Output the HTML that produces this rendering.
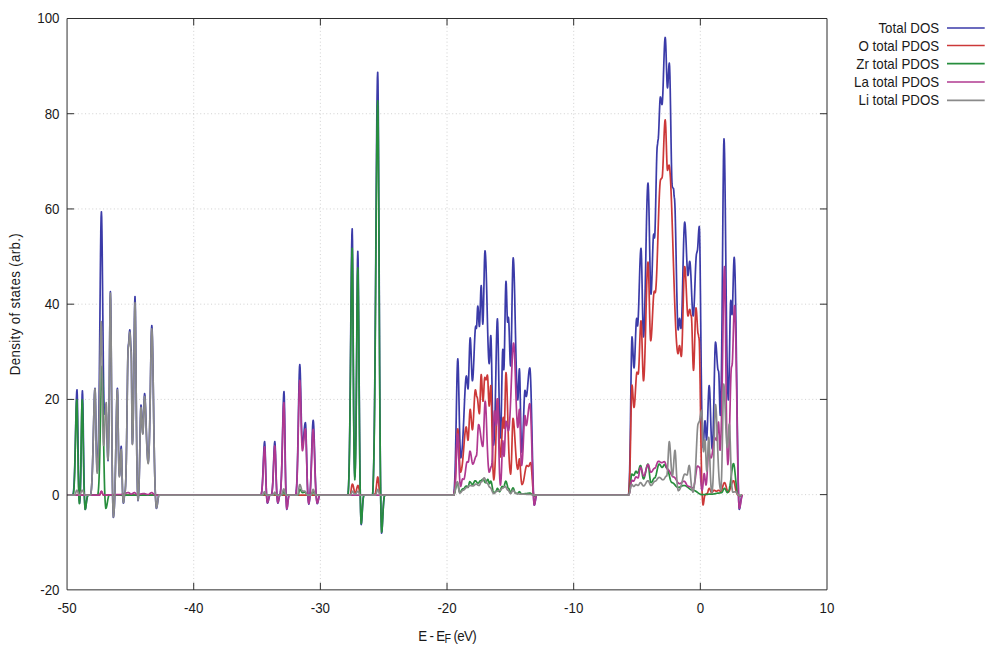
<!DOCTYPE html>
<html><head><meta charset="utf-8"><title>DOS</title>
<style>html,body{margin:0;padding:0;background:#fff;}body{width:1000px;height:667px;overflow:hidden;font-family:"Liberation Sans",sans-serif;}</style>
</head><body>
<svg width="1000" height="667" viewBox="0 0 1000 667" style="display:block">
<defs><filter id="sb" x="0" y="0" width="1000" height="667" filterUnits="userSpaceOnUse"><feGaussianBlur stdDeviation="0.38"/></filter></defs>
<rect width="1000" height="667" fill="#fff"/>
<g filter="url(#sb)">
<path d="M193.71 589.85V18.50M320.37 589.85V18.50M447.03 589.85V18.50M573.68 589.85V18.50M700.34 589.85V18.50M67.05 494.63H827.00M67.05 399.40H827.00M67.05 304.18H827.00M67.05 208.95H827.00M67.05 113.73H827.00" fill="none" stroke="#9a9a9a" stroke-width="1" stroke-dasharray="1 2.6" opacity="0.45"/>
<path d="M193.71 589.85v-7.00M193.71 18.50v7.00M320.37 589.85v-7.00M320.37 18.50v7.00M447.03 589.85v-7.00M447.03 18.50v7.00M573.68 589.85v-7.00M573.68 18.50v7.00M700.34 589.85v-7.00M700.34 18.50v7.00M67.05 494.63h7.00M827.00 494.63h-7.00M67.05 399.40h7.00M827.00 399.40h-7.00M67.05 304.18h7.00M827.00 304.18h-7.00M67.05 208.95h7.00M827.00 208.95h-7.00M67.05 113.73h7.00M827.00 113.73h-7.00" fill="none" stroke="#2e2e2e" stroke-width="1"/>
<path d="M67.20 495.03L67.49 495.03L67.78 495.03L68.07 495.03L68.36 495.03L68.65 495.03L68.94 495.03L69.23 495.03L69.52 495.03L69.81 495.03L70.10 495.03L70.39 495.03L70.68 495.03L70.97 495.03L71.26 495.03L71.55 495.03L71.84 495.03L72.13 495.03L72.42 495.03L72.71 495.03L73.00 495.03L73.29 493.50L73.57 491.13L73.86 487.61L74.14 482.63L74.43 475.91L74.71 467.31L75.00 456.86L75.29 444.90L75.57 432.04L75.86 419.20L76.14 407.49L76.43 398.06L76.71 391.93L77.00 389.80L77.29 395.26L77.58 410.15L77.87 430.62L78.16 452.11L78.44 470.93L78.73 485.17L79.02 494.62L79.31 500.19L79.60 503.12L79.88 500.60L80.16 496.07L80.44 488.60L80.72 477.44L81.00 462.37L81.28 444.17L81.56 424.83L81.84 407.39L82.12 395.16L82.40 390.75L82.68 395.40L82.96 408.31L83.24 426.71L83.52 447.11L83.80 466.31L84.08 482.21L84.36 493.99L84.64 501.87L84.92 506.65L85.20 509.31L85.50 508.75L85.80 507.19L86.10 504.98L86.40 502.52L86.70 500.21L87.00 498.29L87.30 496.87L87.60 495.92L87.90 495.34L88.20 495.03L88.50 495.03L88.80 495.03L89.10 495.03L89.40 495.03L89.70 495.03L90.00 495.03L90.30 495.03L90.60 495.03L90.89 493.61L91.19 491.46L91.48 488.33L91.77 483.97L92.07 478.13L92.36 470.65L92.65 461.50L92.95 450.85L93.24 439.07L93.53 426.79L93.83 414.84L94.12 404.16L94.41 395.70L94.71 390.25L95.00 388.37L95.29 392.91L95.58 405.13L95.86 421.55L96.15 438.24L96.44 452.30L96.72 462.42L97.01 468.53L97.30 471.22L97.59 467.46L97.89 461.61L98.18 452.93L98.47 440.64L98.76 424.08L99.06 402.86L99.35 377.11L99.64 347.61L99.94 315.90L100.23 284.23L100.52 255.34L100.81 232.08L101.11 216.97L101.40 211.73L101.68 217.28L101.96 233.08L102.25 256.78L102.53 285.15L102.81 314.80L103.09 342.86L103.37 367.26L103.65 386.81L103.94 401.06L104.22 410.05L104.50 414.08L104.78 413.92L105.07 413.49L105.35 412.89L105.63 412.30L105.92 411.86L106.20 411.70L106.50 415.50L106.80 425.43L107.10 438.05L107.40 449.70L107.70 457.73L108.00 460.74L108.27 456.29L108.53 447.20L108.80 432.08L109.07 410.08L109.33 381.86L109.60 350.34L109.87 320.78L110.13 299.50L110.40 291.72L110.70 300.57L111.00 325.13L111.30 360.17L111.60 399.00L111.90 435.56L112.20 465.82L112.50 488.24L112.80 503.24L113.10 512.35L113.40 517.40L113.69 515.53L113.97 512.63L114.26 508.31L114.54 502.20L114.83 493.96L115.11 483.41L115.40 470.61L115.69 455.94L115.97 440.17L116.26 424.42L116.54 410.06L116.83 398.49L117.11 390.98L117.40 388.37L117.69 394.87L117.97 411.68L118.26 432.52L118.54 451.29L118.83 464.75L119.11 472.58L119.40 475.98L119.70 474.19L120.00 469.46L120.30 462.52L120.60 454.88L120.90 448.80L121.20 446.46L121.48 449.89L121.75 459.02L122.03 470.96L122.30 482.57L122.58 491.76L122.85 497.89L123.12 501.39L123.40 503.12L123.67 502.42L123.93 500.50L124.20 497.88L124.47 495.26L124.73 493.35L125.00 492.64L125.28 490.05L125.55 485.76L125.83 479.07L126.10 469.34L126.38 456.08L126.65 439.29L126.93 419.62L127.20 398.52L127.48 378.14L127.75 361.01L128.03 349.55L128.30 345.52L128.60 344.02L128.90 340.09L129.20 335.24L129.50 331.31L129.80 329.81L130.08 331.76L130.36 336.88L130.64 343.21L130.92 348.33L131.20 350.28L131.44 361.21L131.68 387.52L131.92 415.86L132.16 435.95L132.40 443.60L132.69 439.58L132.98 430.42L133.27 415.61L133.56 395.21L133.84 370.39L134.13 343.84L134.42 319.70L134.71 302.65L135.00 296.48L135.30 304.49L135.60 326.72L135.90 358.43L136.20 393.57L136.50 426.66L136.80 454.06L137.10 474.35L137.40 487.92L137.70 496.17L138.00 500.74L138.30 498.60L138.60 494.73L138.90 488.37L139.20 478.87L139.50 466.03L139.80 450.53L140.10 434.06L140.40 419.21L140.70 408.79L141.00 405.04L141.26 406.43L141.51 410.33L141.77 415.96L142.03 422.21L142.29 427.84L142.54 431.74L142.80 433.13L143.10 430.48L143.40 423.25L143.70 413.37L144.00 403.49L144.30 396.26L144.60 393.61L144.90 395.15L145.20 399.56L145.50 406.33L145.80 414.69L146.10 423.81L146.40 432.89L146.70 441.29L147.00 448.56L147.30 454.42L147.60 458.72L147.90 461.45L148.20 462.65L148.48 460.50L148.75 456.59L149.03 450.56L149.31 442.10L149.58 431.00L149.86 417.30L150.14 401.37L150.42 384.01L150.69 366.46L150.97 350.26L151.25 337.11L151.52 328.52L151.80 325.52L152.09 328.36L152.38 336.61L152.66 349.54L152.95 366.06L153.24 384.85L153.53 404.57L153.81 423.97L154.10 442.05L154.39 458.09L154.68 471.72L154.96 482.81L155.25 491.49L155.54 498.03L155.83 502.78L156.11 506.11L156.40 508.36L156.69 507.95L156.98 506.80L157.27 505.02L157.56 502.85L157.84 500.53L158.13 498.36L158.42 496.58L158.71 495.43L159.00 495.03L159.30 495.03L159.60 495.03L159.90 495.03L160.20 495.03L160.50 495.03L160.80 495.03L161.10 495.03L161.40 495.03L161.70 495.03L162.00 495.03L162.30 495.03L162.60 495.03L162.90 495.03L163.20 495.03L163.50 495.03L163.80 495.03L164.10 495.03L164.40 495.03L164.70 495.03L165.00 495.03L165.30 495.03L165.60 495.03L165.90 495.03L166.20 495.03L166.50 495.03L166.80 495.03L167.10 495.03L167.40 495.03L167.70 495.03L168.00 495.03L168.30 495.03L168.60 495.03L168.90 495.03L169.20 495.03L169.50 495.03L169.80 495.03L170.10 495.03L170.40 495.03L170.70 495.03L171.00 495.03L171.30 495.03L171.60 495.03L171.90 495.03L172.20 495.03L172.50 495.03L172.80 495.03L173.10 495.03L173.40 495.03L173.70 495.03L174.00 495.03L174.30 495.03L174.60 495.03L174.90 495.03L175.20 495.03L175.50 495.03L175.80 495.03L176.10 495.03L176.40 495.03L176.70 495.03L177.00 495.03L177.30 495.03L177.60 495.03L177.90 495.03L178.20 495.03L178.50 495.03L178.80 495.03L179.10 495.03L179.40 495.03L179.70 495.03L180.00 495.03L180.30 495.03L180.60 495.03L180.90 495.03L181.20 495.03L181.50 495.03L181.80 495.03L182.10 495.03L182.40 495.03L182.70 495.03L183.00 495.03L183.30 495.03L183.60 495.03L183.90 495.03L184.20 495.03L184.50 495.03L184.80 495.03L185.10 495.03L185.40 495.03L185.70 495.03L186.00 495.03L186.30 495.03L186.60 495.03L186.90 495.03L187.20 495.03L187.50 495.03L187.80 495.03L188.10 495.03L188.40 495.03L188.70 495.03L189.00 495.03L189.30 495.03L189.60 495.03L189.90 495.03L190.20 495.03L190.50 495.03L190.80 495.03L191.10 495.03L191.40 495.03L191.70 495.03L192.00 495.03L192.30 495.03L192.60 495.03L192.90 495.03L193.20 495.03L193.50 495.03L193.80 495.03L194.10 495.03L194.40 495.03L194.70 495.03L195.00 495.03L195.30 495.03L195.60 495.03L195.90 495.03L196.20 495.03L196.50 495.03L196.80 495.03L197.10 495.03L197.40 495.03L197.70 495.03L198.00 495.03L198.30 495.03L198.60 495.03L198.90 495.03L199.20 495.03L199.50 495.03L199.80 495.03L200.10 495.03L200.40 495.03L200.70 495.03L201.00 495.03L201.30 495.03L201.60 495.03L201.90 495.03L202.20 495.03L202.50 495.03L202.80 495.03L203.10 495.03L203.40 495.03L203.70 495.03L204.00 495.03L204.30 495.03L204.60 495.03L204.90 495.03L205.20 495.03L205.50 495.03L205.80 495.03L206.10 495.03L206.40 495.03L206.70 495.03L207.00 495.03L207.30 495.03L207.60 495.03L207.90 495.03L208.20 495.03L208.50 495.03L208.80 495.03L209.10 495.03L209.40 495.03L209.70 495.03L210.00 495.03L210.30 495.03L210.60 495.03L210.90 495.03L211.20 495.03L211.50 495.03L211.80 495.03L212.10 495.03L212.40 495.03L212.70 495.03L213.00 495.03L213.30 495.03L213.60 495.03L213.90 495.03L214.20 495.03L214.50 495.03L214.80 495.03L215.10 495.03L215.40 495.03L215.70 495.03L216.00 495.03L216.30 495.03L216.60 495.03L216.90 495.03L217.20 495.03L217.50 495.03L217.80 495.03L218.10 495.03L218.40 495.03L218.70 495.03L219.00 495.03L219.30 495.03L219.60 495.03L219.90 495.03L220.20 495.03L220.50 495.03L220.80 495.03L221.10 495.03L221.40 495.03L221.70 495.03L222.00 495.03L222.30 495.03L222.60 495.03L222.90 495.03L223.20 495.03L223.50 495.03L223.80 495.03L224.10 495.03L224.40 495.03L224.70 495.03L225.00 495.03L225.30 495.03L225.60 495.03L225.90 495.03L226.20 495.03L226.50 495.03L226.80 495.03L227.10 495.03L227.40 495.03L227.70 495.03L228.00 495.03L228.30 495.03L228.60 495.03L228.90 495.03L229.20 495.03L229.50 495.03L229.80 495.03L230.10 495.03L230.40 495.03L230.70 495.03L231.00 495.03L231.30 495.03L231.60 495.03L231.90 495.03L232.20 495.03L232.50 495.03L232.80 495.03L233.10 495.03L233.40 495.03L233.70 495.03L234.00 495.03L234.30 495.03L234.60 495.03L234.90 495.03L235.20 495.03L235.50 495.03L235.80 495.03L236.10 495.03L236.40 495.03L236.70 495.03L237.00 495.03L237.30 495.03L237.60 495.03L237.90 495.03L238.20 495.03L238.50 495.03L238.80 495.03L239.10 495.03L239.40 495.03L239.70 495.03L240.00 495.03L240.30 495.03L240.60 495.03L240.90 495.03L241.20 495.03L241.50 495.03L241.80 495.03L242.10 495.03L242.40 495.03L242.70 495.03L243.00 495.03L243.30 495.03L243.60 495.03L243.90 495.03L244.20 495.03L244.50 495.03L244.80 495.03L245.10 495.03L245.40 495.03L245.70 495.03L246.00 495.03L246.30 495.03L246.60 495.03L246.90 495.03L247.20 495.03L247.50 495.03L247.80 495.03L248.10 495.03L248.40 495.03L248.70 495.03L249.00 495.03L249.30 495.03L249.60 495.03L249.90 495.03L250.20 495.03L250.50 495.03L250.80 495.03L251.10 495.03L251.40 495.03L251.70 495.03L252.00 495.03L252.30 495.03L252.60 495.03L252.90 495.03L253.20 495.03L253.50 495.03L253.80 495.03L254.10 495.03L254.40 495.03L254.70 495.03L255.00 495.03L255.30 495.03L255.60 495.03L255.90 495.03L256.20 495.03L256.50 495.03L256.80 495.03L257.10 495.03L257.40 495.03L257.70 495.03L258.00 495.03L258.30 495.03L258.60 495.03L258.90 495.03L259.20 495.03L259.50 495.03L259.80 495.03L260.10 495.03L260.40 495.03L260.70 495.03L261.00 495.03L261.28 494.18L261.55 492.82L261.83 490.76L262.11 487.79L262.38 483.78L262.66 478.64L262.94 472.50L263.22 465.64L263.49 458.57L263.77 451.95L264.05 446.52L264.32 442.95L264.60 441.70L264.88 444.11L265.16 450.79L265.44 460.33L265.72 470.89L266.00 480.84L266.28 489.08L266.56 495.18L266.84 499.26L267.12 501.74L267.40 503.12L267.69 502.88L267.98 502.17L268.27 501.10L268.56 499.77L268.84 498.37L269.13 497.05L269.42 495.97L269.71 495.27L270.00 495.03L270.28 495.03L270.56 495.03L270.84 495.03L271.12 495.03L271.40 495.03L271.68 494.09L271.97 492.53L272.25 490.11L272.53 486.58L272.82 481.77L273.10 475.69L273.38 468.56L273.67 460.91L273.95 453.52L274.23 447.31L274.52 443.16L274.80 441.70L275.10 444.11L275.40 450.79L275.70 460.33L276.00 470.89L276.30 480.84L276.60 489.08L276.90 495.18L277.20 499.26L277.50 501.74L277.80 503.12L278.07 502.81L278.35 501.93L278.62 500.62L278.90 499.07L279.18 497.52L279.45 496.21L279.73 495.33L280.00 495.03L280.29 493.53L280.57 491.20L280.86 487.74L281.14 482.85L281.43 476.26L281.71 467.81L282.00 457.55L282.29 445.81L282.57 433.18L282.86 420.57L283.14 409.07L283.43 399.81L283.71 393.79L284.00 391.71L284.28 396.32L284.56 409.12L284.84 427.37L285.12 447.61L285.40 466.66L285.68 482.43L285.96 494.11L286.24 501.93L286.52 506.68L286.80 509.31L287.10 508.44L287.40 506.14L287.70 503.13L288.00 500.21L288.30 497.89L288.60 496.34L288.90 495.46L289.20 495.03L289.49 495.03L289.77 495.03L290.06 495.03L290.35 495.03L290.63 495.03L290.92 495.03L291.21 495.03L291.50 495.03L291.78 495.03L292.07 495.03L292.36 495.03L292.64 495.03L292.93 495.03L293.22 495.03L293.50 495.03L293.79 495.03L294.08 495.03L294.37 495.03L294.65 495.03L294.94 495.03L295.23 495.03L295.51 495.03L295.80 495.03L296.09 493.13L296.37 490.19L296.66 485.83L296.94 479.65L297.23 471.33L297.51 460.66L297.80 447.71L298.09 432.88L298.37 416.94L298.66 401.02L298.94 386.49L299.23 374.80L299.51 367.20L299.80 364.57L300.09 367.49L300.38 375.70L300.67 387.72L300.96 401.58L301.24 415.34L301.53 427.44L301.82 436.77L302.11 442.72L302.40 445.03L302.70 444.48L303.00 442.89L303.30 440.42L303.60 437.30L303.90 433.84L304.20 430.39L304.50 427.27L304.80 424.79L305.10 423.20L305.40 422.65L305.68 424.88L305.97 431.22L306.25 440.70L306.53 451.98L306.82 463.66L307.10 474.54L307.38 483.84L307.67 491.17L307.95 496.56L308.23 500.26L308.52 502.64L308.80 504.07L309.09 502.96L309.39 501.27L309.68 498.81L309.97 495.38L310.27 490.79L310.56 484.92L310.85 477.73L311.15 469.36L311.44 460.11L311.73 450.46L312.03 441.07L312.32 432.68L312.61 426.03L312.91 421.75L313.20 420.27L313.49 421.96L313.77 426.81L314.06 434.28L314.34 443.55L314.63 453.72L314.91 463.90L315.20 473.38L315.49 481.65L315.77 488.46L316.06 493.78L316.34 497.72L316.63 500.51L316.91 502.39L317.20 503.60L317.49 503.34L317.78 502.59L318.07 501.45L318.36 500.05L318.64 498.57L318.93 497.17L319.22 496.03L319.51 495.28L319.80 495.03L320.10 495.03L320.40 495.03L320.70 495.03L321.00 495.03L321.30 495.03L321.60 495.03L321.90 495.03L322.20 495.03L322.50 495.03L322.80 495.03L323.10 495.03L323.40 495.03L323.70 495.03L324.00 495.03L324.30 495.03L324.60 495.03L324.90 495.03L325.20 495.03L325.50 495.03L325.80 495.03L326.10 495.03L326.40 495.03L326.70 495.03L327.00 495.03L327.30 495.03L327.60 495.03L327.90 495.03L328.20 495.03L328.50 495.03L328.80 495.03L329.10 495.03L329.40 495.03L329.70 495.03L330.00 495.03L330.30 495.03L330.60 495.03L330.90 495.03L331.20 495.03L331.50 495.03L331.80 495.03L332.10 495.03L332.40 495.03L332.70 495.03L333.00 495.03L333.30 495.03L333.60 495.03L333.90 495.03L334.20 495.03L334.50 495.03L334.80 495.03L335.10 495.03L335.40 495.03L335.70 495.03L336.00 495.03L336.30 495.03L336.60 495.03L336.90 495.03L337.20 495.03L337.50 495.03L337.80 495.03L338.10 495.03L338.40 495.03L338.70 495.03L339.00 495.03L339.30 495.03L339.60 495.03L339.90 495.03L340.20 495.03L340.50 495.03L340.80 495.03L341.10 495.03L341.40 495.03L341.70 495.03L342.00 495.03L342.30 495.03L342.60 495.03L342.90 495.03L343.20 495.03L343.50 495.03L343.80 495.03L344.10 495.03L344.40 495.03L344.70 495.03L345.00 495.03L345.30 495.03L345.60 495.03L345.90 495.03L346.20 495.03L346.50 495.03L346.80 495.03L347.10 495.03L347.40 495.03L347.70 495.03L348.00 495.03L348.30 491.17L348.60 485.17L348.90 476.27L349.20 463.66L349.50 446.67L349.80 424.91L350.10 398.50L350.40 368.24L350.70 335.71L351.00 303.23L351.30 273.60L351.60 249.75L351.90 234.25L352.20 228.87L352.49 240.83L352.78 273.41L353.07 318.23L353.36 365.28L353.64 406.48L353.93 437.63L354.22 458.33L354.51 470.52L354.80 476.93L355.10 471.88L355.40 462.77L355.70 447.77L356.00 425.35L356.30 395.08L356.60 358.53L356.90 319.70L357.20 284.66L357.50 260.10L357.80 251.25L358.08 258.74L358.37 280.02L358.65 311.84L358.93 349.70L359.22 388.90L359.50 425.43L359.78 456.62L360.07 481.25L360.35 499.34L360.63 511.75L360.92 519.73L361.20 524.54L361.48 523.39L361.76 520.17L362.04 515.59L362.32 510.51L362.60 505.73L362.88 501.77L363.16 498.84L363.44 496.88L363.72 495.69L364.00 495.03L364.30 495.03L364.59 495.03L364.89 495.03L365.19 495.03L365.48 495.03L365.78 495.03L366.08 495.03L366.37 495.03L366.67 495.03L366.97 495.03L367.26 495.03L367.56 495.03L367.86 495.03L368.15 495.03L368.45 495.03L368.74 495.03L369.04 495.03L369.34 495.03L369.63 495.03L369.93 495.03L370.23 495.03L370.52 495.03L370.82 495.03L371.12 495.03L371.41 495.03L371.71 495.03L372.01 495.03L372.30 495.03L372.60 495.03L372.90 490.19L373.20 483.19L373.50 473.37L373.80 460.00L374.10 442.41L374.40 420.01L374.70 392.47L375.00 359.81L375.30 322.52L375.60 281.67L375.90 238.87L376.20 196.28L376.50 156.38L376.80 121.80L377.10 95.01L377.40 78.04L377.70 72.23L377.98 81.54L378.26 108.38L378.54 149.69L378.81 201.00L379.09 257.24L379.37 313.56L379.65 365.97L379.93 411.71L380.21 449.39L380.49 478.81L380.76 500.63L381.04 516.05L381.32 526.43L381.60 533.12L381.89 531.88L382.18 528.39L382.47 523.29L382.76 517.40L383.05 511.54L383.35 506.36L383.64 502.20L383.93 499.14L384.22 497.07L384.51 495.78L384.80 495.03L385.10 495.03L385.40 495.03L385.70 495.03L386.00 495.03L386.30 495.03L386.59 495.03L386.89 495.03L387.19 495.03L387.49 495.03L387.79 495.03L388.09 495.03L388.39 495.03L388.69 495.03L388.99 495.03L389.29 495.03L389.59 495.03L389.89 495.03L390.18 495.03L390.48 495.03L390.78 495.03L391.08 495.03L391.38 495.03L391.68 495.03L391.98 495.03L392.28 495.03L392.58 495.03L392.88 495.03L393.18 495.03L393.47 495.03L393.77 495.03L394.07 495.03L394.37 495.03L394.67 495.03L394.97 495.03L395.27 495.03L395.57 495.03L395.87 495.03L396.17 495.03L396.47 495.03L396.77 495.03L397.06 495.03L397.36 495.03L397.66 495.03L397.96 495.03L398.26 495.03L398.56 495.03L398.86 495.03L399.16 495.03L399.46 495.03L399.76 495.03L400.06 495.03L400.35 495.03L400.65 495.03L400.95 495.03L401.25 495.03L401.55 495.03L401.85 495.03L402.15 495.03L402.45 495.03L402.75 495.03L403.05 495.03L403.35 495.03L403.65 495.03L403.94 495.03L404.24 495.03L404.54 495.03L404.84 495.03L405.14 495.03L405.44 495.03L405.74 495.03L406.04 495.03L406.34 495.03L406.64 495.03L406.94 495.03L407.23 495.03L407.53 495.03L407.83 495.03L408.13 495.03L408.43 495.03L408.73 495.03L409.03 495.03L409.33 495.03L409.63 495.03L409.93 495.03L410.23 495.03L410.53 495.03L410.82 495.03L411.12 495.03L411.42 495.03L411.72 495.03L412.02 495.03L412.32 495.03L412.62 495.03L412.92 495.03L413.22 495.03L413.52 495.03L413.82 495.03L414.11 495.03L414.41 495.03L414.71 495.03L415.01 495.03L415.31 495.03L415.61 495.03L415.91 495.03L416.21 495.03L416.51 495.03L416.81 495.03L417.11 495.03L417.41 495.03L417.70 495.03L418.00 495.03L418.30 495.03L418.60 495.03L418.90 495.03L419.20 495.03L419.50 495.03L419.80 495.03L420.10 495.03L420.40 495.03L420.70 495.03L420.99 495.03L421.29 495.03L421.59 495.03L421.89 495.03L422.19 495.03L422.49 495.03L422.79 495.03L423.09 495.03L423.39 495.03L423.69 495.03L423.99 495.03L424.29 495.03L424.58 495.03L424.88 495.03L425.18 495.03L425.48 495.03L425.78 495.03L426.08 495.03L426.38 495.03L426.68 495.03L426.98 495.03L427.28 495.03L427.58 495.03L427.87 495.03L428.17 495.03L428.47 495.03L428.77 495.03L429.07 495.03L429.37 495.03L429.67 495.03L429.97 495.03L430.27 495.03L430.57 495.03L430.87 495.03L431.17 495.03L431.46 495.03L431.76 495.03L432.06 495.03L432.36 495.03L432.66 495.03L432.96 495.03L433.26 495.03L433.56 495.03L433.86 495.03L434.16 495.03L434.46 495.03L434.75 495.03L435.05 495.03L435.35 495.03L435.65 495.03L435.95 495.03L436.25 495.03L436.55 495.03L436.85 495.03L437.15 495.03L437.45 495.03L437.75 495.03L438.05 495.03L438.34 495.03L438.64 495.03L438.94 495.03L439.24 495.03L439.54 495.03L439.84 495.03L440.14 495.03L440.44 495.03L440.74 495.03L441.04 495.03L441.34 495.03L441.63 495.03L441.93 495.03L442.23 495.03L442.53 495.03L442.83 495.03L443.13 495.03L443.43 495.03L443.73 495.03L444.03 495.03L444.33 495.03L444.63 495.03L444.93 495.03L445.22 495.03L445.52 495.03L445.82 495.03L446.12 495.03L446.42 495.03L446.72 495.03L447.02 495.03L447.32 495.03L447.62 495.03L447.92 495.03L448.22 495.03L448.51 495.03L448.81 495.03L449.11 495.03L449.41 495.03L449.71 495.03L450.01 495.03L450.31 495.03L450.61 495.03L450.91 495.03L451.21 495.03L451.51 495.03L451.81 495.03L452.10 495.03L452.40 495.03L452.70 495.03L453.00 495.03L453.30 495.03L453.60 495.03L453.90 493.05L454.20 489.98L454.50 485.43L454.80 478.98L455.10 470.29L455.40 459.15L455.70 445.64L456.00 430.16L456.30 413.52L456.60 396.90L456.90 381.74L457.20 369.53L457.50 361.60L457.80 358.85L458.10 362.18L458.40 371.53L458.70 385.22L459.00 401.02L459.30 416.78L459.60 430.83L459.90 442.18L460.20 450.43L460.50 455.59L460.80 457.89L461.09 457.19L461.39 455.80L461.68 453.68L461.98 450.83L462.27 447.23L462.57 442.91L462.86 437.89L463.16 432.24L463.45 426.05L463.75 419.44L464.04 412.59L464.34 405.68L464.63 398.96L464.93 392.67L465.22 387.07L465.52 382.41L465.81 378.91L466.11 376.73L466.40 375.99L466.67 376.85L466.93 379.21L467.20 382.42L467.47 385.64L467.73 387.99L468.00 388.85L468.27 386.91L468.55 381.39L468.82 373.12L469.10 363.38L469.38 353.63L469.65 345.36L469.93 339.84L470.20 337.90L470.47 339.53L470.75 344.18L471.02 351.13L471.30 359.33L471.57 367.53L471.85 374.48L472.12 379.12L472.40 380.75L472.68 379.82L472.97 377.09L473.25 372.74L473.53 367.07L473.82 360.46L474.10 353.38L474.38 346.29L474.67 339.69L474.95 334.02L475.23 329.67L475.52 326.93L475.80 326.00L476.10 327.19L476.40 328.38L476.68 326.24L476.96 320.65L477.24 313.73L477.52 308.14L477.80 306.00L478.07 307.37L478.33 311.12L478.60 316.24L478.87 321.36L479.13 325.11L479.40 326.48L479.66 324.45L479.91 318.77L480.17 310.56L480.43 301.45L480.69 293.24L480.94 287.56L481.20 285.53L481.47 288.11L481.73 295.17L482.00 304.81L482.27 314.45L482.53 321.51L482.80 324.10L483.07 321.31L483.35 313.36L483.62 301.46L483.90 287.43L484.18 273.40L484.45 261.51L484.73 253.56L485.00 250.77L485.30 252.19L485.60 256.36L485.90 263.08L486.20 272.02L486.50 282.71L486.80 294.64L487.10 307.19L487.40 319.75L487.70 331.67L488.00 342.37L488.30 351.31L488.60 358.03L488.90 362.20L489.20 363.61L489.47 361.73L489.73 356.59L490.00 349.57L490.27 342.55L490.53 337.40L490.80 335.52L491.08 339.04L491.36 348.95L491.64 363.59L491.92 380.70L492.20 398.04L492.48 413.81L492.76 426.81L493.04 436.43L493.32 442.47L493.60 445.03L493.89 443.10L494.18 438.99L494.48 432.57L494.77 423.77L495.06 412.64L495.35 399.43L495.65 384.61L495.94 368.98L496.23 353.59L496.52 339.68L496.82 328.55L497.11 321.35L497.40 318.86L497.70 322.63L498.00 333.29L498.30 349.05L498.60 367.54L498.90 386.37L499.20 403.58L499.50 417.83L499.80 428.43L500.10 435.10L500.40 437.89L500.67 435.34L500.93 428.72L501.20 418.34L501.47 404.95L501.73 389.79L502.00 374.59L502.27 361.46L502.53 352.51L502.80 349.33L503.05 352.33L503.30 359.57L503.55 366.81L503.80 369.80L504.07 366.43L504.35 356.83L504.62 342.47L504.90 325.52L505.18 308.58L505.45 294.21L505.73 284.62L506.00 281.24L506.27 283.99L506.53 291.48L506.80 301.72L507.07 311.95L507.33 319.45L507.60 322.19L507.87 321.00L508.13 318.62L508.40 317.43L508.67 319.28L508.95 324.54L509.23 332.42L509.50 341.71L509.77 351.01L510.05 358.88L510.33 364.15L510.60 366.00L510.89 362.74L511.18 353.35L511.47 338.98L511.76 321.34L512.04 302.57L512.33 284.93L512.62 270.56L512.91 261.17L513.20 257.91L513.49 259.53L513.78 264.26L514.06 271.85L514.35 281.85L514.64 293.74L514.92 306.90L515.21 320.73L515.50 334.62L515.79 348.05L516.08 360.55L516.36 371.74L516.65 381.30L516.94 389.01L517.22 394.72L517.51 398.32L517.80 399.80L518.07 397.73L518.33 392.06L518.60 384.33L518.87 376.59L519.13 370.93L519.40 368.85L519.70 372.87L520.00 383.88L520.30 399.22L520.60 415.67L520.90 430.52L521.20 442.01L521.50 449.29L521.80 452.17L522.09 450.93L522.38 447.70L522.67 442.60L522.96 435.87L523.25 427.88L523.55 419.18L523.84 410.44L524.13 402.43L524.42 395.96L524.71 391.74L525.00 390.28L525.24 390.87L525.48 392.42L525.72 394.33L525.96 395.88L526.20 396.47L526.50 395.98L526.80 394.55L527.10 392.28L527.40 389.33L527.70 385.88L528.00 382.18L528.30 378.49L528.60 375.04L528.90 372.08L529.20 369.81L529.50 368.39L529.80 367.90L530.10 369.40L530.40 373.83L530.70 380.99L531.00 390.58L531.30 402.18L531.60 415.27L531.90 429.29L532.20 443.63L532.50 457.65L532.80 470.74L533.10 482.34L533.40 491.93L533.70 499.10L534.00 503.53L534.30 505.02L534.59 504.64L534.88 503.56L535.16 501.94L535.45 500.02L535.74 498.11L536.02 496.49L536.31 495.41L536.60 495.03L536.90 495.03L537.20 495.03L537.50 495.03L537.80 495.03L538.10 495.03L538.40 495.03L538.70 495.03L538.99 495.03L539.29 495.03L539.59 495.03L539.89 495.03L540.19 495.03L540.49 495.03L540.79 495.03L541.09 495.03L541.39 495.03L541.69 495.03L541.99 495.03L542.29 495.03L542.59 495.03L542.89 495.03L543.19 495.03L543.49 495.03L543.78 495.03L544.08 495.03L544.38 495.03L544.68 495.03L544.98 495.03L545.28 495.03L545.58 495.03L545.88 495.03L546.18 495.03L546.48 495.03L546.78 495.03L547.08 495.03L547.38 495.03L547.68 495.03L547.98 495.03L548.27 495.03L548.57 495.03L548.87 495.03L549.17 495.03L549.47 495.03L549.77 495.03L550.07 495.03L550.37 495.03L550.67 495.03L550.97 495.03L551.27 495.03L551.57 495.03L551.87 495.03L552.17 495.03L552.47 495.03L552.76 495.03L553.06 495.03L553.36 495.03L553.66 495.03L553.96 495.03L554.26 495.03L554.56 495.03L554.86 495.03L555.16 495.03L555.46 495.03L555.76 495.03L556.06 495.03L556.36 495.03L556.66 495.03L556.96 495.03L557.26 495.03L557.55 495.03L557.85 495.03L558.15 495.03L558.45 495.03L558.75 495.03L559.05 495.03L559.35 495.03L559.65 495.03L559.95 495.03L560.25 495.03L560.55 495.03L560.85 495.03L561.15 495.03L561.45 495.03L561.75 495.03L562.04 495.03L562.34 495.03L562.64 495.03L562.94 495.03L563.24 495.03L563.54 495.03L563.84 495.03L564.14 495.03L564.44 495.03L564.74 495.03L565.04 495.03L565.34 495.03L565.64 495.03L565.94 495.03L566.24 495.03L566.53 495.03L566.83 495.03L567.13 495.03L567.43 495.03L567.73 495.03L568.03 495.03L568.33 495.03L568.63 495.03L568.93 495.03L569.23 495.03L569.53 495.03L569.83 495.03L570.13 495.03L570.43 495.03L570.73 495.03L571.03 495.03L571.32 495.03L571.62 495.03L571.92 495.03L572.22 495.03L572.52 495.03L572.82 495.03L573.12 495.03L573.42 495.03L573.72 495.03L574.02 495.03L574.32 495.03L574.62 495.03L574.92 495.03L575.22 495.03L575.52 495.03L575.81 495.03L576.11 495.03L576.41 495.03L576.71 495.03L577.01 495.03L577.31 495.03L577.61 495.03L577.91 495.03L578.21 495.03L578.51 495.03L578.81 495.03L579.11 495.03L579.41 495.03L579.71 495.03L580.01 495.03L580.30 495.03L580.60 495.03L580.90 495.03L581.20 495.03L581.50 495.03L581.80 495.03L582.10 495.03L582.40 495.03L582.70 495.03L583.00 495.03L583.30 495.03L583.60 495.03L583.90 495.03L584.20 495.03L584.50 495.03L584.80 495.03L585.09 495.03L585.39 495.03L585.69 495.03L585.99 495.03L586.29 495.03L586.59 495.03L586.89 495.03L587.19 495.03L587.49 495.03L587.79 495.03L588.09 495.03L588.39 495.03L588.69 495.03L588.99 495.03L589.29 495.03L589.58 495.03L589.88 495.03L590.18 495.03L590.48 495.03L590.78 495.03L591.08 495.03L591.38 495.03L591.68 495.03L591.98 495.03L592.28 495.03L592.58 495.03L592.88 495.03L593.18 495.03L593.48 495.03L593.78 495.03L594.07 495.03L594.37 495.03L594.67 495.03L594.97 495.03L595.27 495.03L595.57 495.03L595.87 495.03L596.17 495.03L596.47 495.03L596.77 495.03L597.07 495.03L597.37 495.03L597.67 495.03L597.97 495.03L598.27 495.03L598.57 495.03L598.86 495.03L599.16 495.03L599.46 495.03L599.76 495.03L600.06 495.03L600.36 495.03L600.66 495.03L600.96 495.03L601.26 495.03L601.56 495.03L601.86 495.03L602.16 495.03L602.46 495.03L602.76 495.03L603.06 495.03L603.35 495.03L603.65 495.03L603.95 495.03L604.25 495.03L604.55 495.03L604.85 495.03L605.15 495.03L605.45 495.03L605.75 495.03L606.05 495.03L606.35 495.03L606.65 495.03L606.95 495.03L607.25 495.03L607.55 495.03L607.84 495.03L608.14 495.03L608.44 495.03L608.74 495.03L609.04 495.03L609.34 495.03L609.64 495.03L609.94 495.03L610.24 495.03L610.54 495.03L610.84 495.03L611.14 495.03L611.44 495.03L611.74 495.03L612.04 495.03L612.34 495.03L612.63 495.03L612.93 495.03L613.23 495.03L613.53 495.03L613.83 495.03L614.13 495.03L614.43 495.03L614.73 495.03L615.03 495.03L615.33 495.03L615.63 495.03L615.93 495.03L616.23 495.03L616.53 495.03L616.83 495.03L617.12 495.03L617.42 495.03L617.72 495.03L618.02 495.03L618.32 495.03L618.62 495.03L618.92 495.03L619.22 495.03L619.52 495.03L619.82 495.03L620.12 495.03L620.42 495.03L620.72 495.03L621.02 495.03L621.32 495.03L621.61 495.03L621.91 495.03L622.21 495.03L622.51 495.03L622.81 495.03L623.11 495.03L623.41 495.03L623.71 495.03L624.01 495.03L624.31 495.03L624.61 495.03L624.91 495.03L625.21 495.03L625.51 495.03L625.81 495.03L626.11 495.03L626.40 495.03L626.70 495.03L627.00 495.03L627.30 495.03L627.60 495.03L627.90 495.03L628.20 495.03L628.50 495.03L628.79 492.24L629.08 487.62L629.38 480.44L629.67 469.98L629.96 455.74L630.25 437.70L630.54 416.57L630.83 393.90L631.12 372.00L631.42 353.59L631.71 341.28L632.00 336.95L632.29 338.48L632.57 342.78L632.86 348.98L633.14 355.87L633.43 362.07L633.71 366.37L634.00 367.90L634.27 366.69L634.54 363.17L634.81 357.69L635.08 350.79L635.35 343.14L635.62 335.49L635.89 328.59L636.16 323.11L636.43 319.59L636.70 318.38L636.97 320.29L637.23 324.10L637.50 326.00L637.79 324.68L638.08 320.80L638.38 314.64L638.67 306.60L638.96 297.24L639.25 287.20L639.54 277.15L639.83 267.79L640.12 259.76L640.42 253.59L640.71 249.71L641.00 248.39L641.28 251.06L641.56 258.75L641.83 270.53L642.11 284.98L642.39 300.36L642.67 314.81L642.94 326.59L643.22 334.28L643.50 336.95L643.80 335.26L644.10 330.35L644.40 322.43L644.70 311.82L645.00 298.97L645.30 284.41L645.60 268.77L645.90 252.72L646.20 236.95L646.50 222.17L646.80 209.02L647.10 198.11L647.40 189.94L647.70 184.88L648.00 183.16L648.30 185.88L648.60 193.76L648.90 206.03L649.20 221.49L649.50 238.63L649.80 255.77L650.10 271.24L650.40 283.51L650.70 291.39L651.00 294.10L651.27 292.63L651.54 288.37L651.81 281.74L652.08 273.37L652.35 264.10L652.62 254.84L652.89 246.47L653.16 239.84L653.43 235.58L653.70 234.11L653.97 235.06L654.23 236.97L654.50 237.92L654.79 235.65L655.08 229.05L655.37 218.78L655.66 205.84L655.95 191.50L656.24 177.15L656.53 164.21L656.82 153.94L657.11 147.35L657.40 145.07L657.60 143.88L657.80 141.50L658.00 140.31L658.30 138.66L658.60 133.97L658.90 126.94L659.20 118.65L659.50 110.36L659.80 103.33L660.10 98.63L660.40 96.98L660.67 97.49L660.93 98.89L661.20 100.79L661.47 102.70L661.73 104.09L662.00 104.60L662.29 103.24L662.58 99.27L662.87 93.02L663.16 84.98L663.45 75.81L663.75 66.26L664.04 57.09L664.33 49.05L664.62 42.80L664.91 38.83L665.20 37.47L665.49 39.39L665.78 44.86L666.06 53.05L666.35 62.70L666.64 72.36L666.92 80.55L667.21 86.02L667.50 87.94L667.80 86.28L668.10 81.75L668.40 75.56L668.70 69.37L669.00 64.84L669.30 63.18L669.60 66.21L669.90 75.00L670.20 88.69L670.50 105.95L670.80 125.08L671.10 144.20L671.40 161.46L671.70 175.15L672.00 183.94L672.30 186.97L672.54 187.11L672.78 187.47L673.02 187.91L673.26 188.26L673.50 188.40L673.77 190.66L674.03 195.19L674.30 197.45L674.58 199.11L674.86 204.00L675.14 211.89L675.41 222.36L675.69 234.91L675.97 248.90L676.25 263.63L676.53 278.35L676.81 292.34L677.09 304.89L677.36 315.37L677.64 323.26L677.92 328.15L678.20 329.81L678.46 328.72L678.72 325.86L678.98 322.33L679.24 319.47L679.50 318.38L679.80 319.34L680.10 321.84L680.40 324.93L680.70 327.43L681.00 328.38L681.28 326.84L681.57 322.30L681.85 315.03L682.14 305.45L682.42 294.12L682.71 281.69L682.99 268.89L683.28 256.47L683.56 245.14L683.85 235.56L684.13 228.29L684.42 223.75L684.70 222.21L685.00 223.29L685.30 226.44L685.60 231.41L685.90 237.79L686.20 245.07L686.50 252.66L686.80 259.94L687.10 266.33L687.40 271.30L687.70 274.45L688.00 275.53L688.28 274.57L688.57 271.96L688.85 268.39L689.13 264.82L689.42 262.20L689.70 261.25L689.99 262.18L690.28 264.92L690.58 269.27L690.87 274.94L691.16 281.54L691.45 288.62L691.74 295.71L692.03 302.31L692.33 307.98L692.62 312.33L692.91 315.07L693.20 316.00L693.49 314.93L693.78 311.79L694.08 306.80L694.37 300.29L694.66 292.71L694.95 284.58L695.24 276.44L695.53 268.87L695.83 262.36L696.12 257.36L696.41 254.22L696.70 253.15L696.95 252.20L697.20 251.25L697.50 250.02L697.80 246.59L698.10 241.62L698.40 236.12L698.70 231.15L699.00 227.72L699.30 226.49L699.58 231.38L699.87 245.41L700.15 266.85L700.44 293.20L700.72 321.68L701.01 349.73L701.29 375.36L701.58 397.27L701.86 414.91L702.15 428.28L702.43 437.77L702.72 443.94L703.00 447.41L703.29 446.09L703.57 442.39L703.86 437.05L704.14 431.11L704.43 425.77L704.71 422.07L705.00 420.75L705.30 422.57L705.60 427.33L705.90 433.21L706.20 437.98L706.50 439.79L706.77 438.47L707.04 434.68L707.31 428.77L707.58 421.29L707.85 412.95L708.12 404.54L708.39 396.91L708.66 390.81L708.93 386.88L709.20 385.52L709.50 387.30L709.80 392.38L710.10 400.08L710.40 409.41L710.70 419.31L711.00 428.78L711.30 436.99L711.60 443.30L711.90 447.32L712.20 448.84L712.50 446.71L712.80 441.86L713.10 434.18L713.40 423.70L713.70 410.73L714.00 395.91L714.30 380.35L714.60 365.56L714.90 353.25L715.20 345.06L715.50 342.19L715.77 342.88L716.04 344.87L716.31 347.98L716.58 351.89L716.85 356.23L717.12 360.57L717.39 364.49L717.66 367.60L717.93 369.59L718.20 370.28L718.40 370.76L718.60 371.23L718.88 374.20L719.17 382.30L719.45 393.37L719.73 404.44L720.02 412.55L720.30 415.51L720.58 411.21L720.87 402.93L721.15 390.10L721.44 372.26L721.72 349.17L722.01 321.07L722.29 288.82L722.58 254.06L722.86 219.22L723.15 187.31L723.43 161.53L723.72 144.72L724.00 138.88L724.29 142.84L724.57 154.36L724.86 172.46L725.15 195.69L725.43 222.28L725.72 250.43L726.01 278.45L726.29 304.97L726.58 328.93L726.87 349.66L727.15 366.81L727.44 380.28L727.73 390.13L728.01 396.56L728.30 399.80L728.58 396.83L728.86 388.48L729.13 375.63L729.41 359.68L729.69 342.46L729.97 326.02L730.24 312.41L730.52 303.43L730.80 300.29L731.04 301.65L731.28 305.22L731.52 309.64L731.76 313.21L732.00 314.57L732.27 312.40L732.55 306.21L732.83 296.94L733.10 286.01L733.38 275.07L733.65 265.81L733.93 259.61L734.20 257.44L734.50 259.58L734.80 265.94L735.10 276.30L735.40 290.31L735.70 307.48L736.00 327.24L736.30 348.91L736.60 371.75L736.90 394.99L737.20 417.84L737.50 439.51L737.80 459.27L738.10 476.44L738.40 490.45L738.70 500.80L739.00 507.16L739.30 509.31L739.59 508.84L739.88 507.54L740.17 505.62L740.46 503.41L740.75 501.22L741.05 499.28L741.34 497.72L741.63 496.57L741.92 495.79L742.21 495.31L742.50 495.03" fill="none" stroke="#3a3aa8" stroke-width="1.7" stroke-linejoin="round" stroke-linecap="butt"/>
<path d="M67.20 495.03L67.50 495.03L67.80 495.03L68.10 495.03L68.40 495.03L68.70 495.03L68.99 495.03L69.29 495.03L69.59 495.03L69.89 495.03L70.19 495.03L70.49 495.03L70.79 495.03L71.09 495.03L71.39 495.03L71.69 495.03L71.99 495.03L72.28 495.03L72.58 495.03L72.88 495.03L73.18 495.03L73.48 495.03L73.78 495.03L74.08 495.03L74.38 495.03L74.68 495.03L74.98 495.03L75.28 495.03L75.57 495.03L75.87 495.03L76.17 495.03L76.47 495.03L76.77 495.03L77.07 495.03L77.37 495.03L77.67 495.03L77.97 495.03L78.27 495.03L78.56 495.03L78.86 495.03L79.16 495.03L79.46 495.03L79.76 495.03L80.06 495.03L80.36 495.03L80.66 495.03L80.96 495.03L81.26 495.03L81.56 495.03L81.85 495.03L82.15 495.03L82.45 495.03L82.75 495.03L83.05 495.03L83.35 495.03L83.65 495.03L83.95 495.03L84.25 495.03L84.55 495.03L84.85 495.03L85.14 495.03L85.44 495.03L85.74 495.03L86.04 495.03L86.34 495.03L86.64 495.03L86.94 495.03L87.24 495.03L87.54 495.03L87.84 495.03L88.14 495.03L88.43 495.03L88.73 495.03L89.03 495.03L89.33 495.03L89.63 495.03L89.93 495.03L90.23 495.03L90.53 495.03L90.83 495.03L91.13 495.03L91.42 495.03L91.72 495.03L92.02 495.03L92.32 495.03L92.62 495.03L92.92 495.03L93.22 495.03L93.52 495.03L93.82 495.03L94.12 495.03L94.42 495.03L94.71 495.03L95.01 495.03L95.31 495.03L95.61 495.03L95.91 495.03L96.21 495.03L96.51 495.03L96.81 495.03L97.11 495.03L97.41 495.03L97.71 495.03L98.00 495.03L98.30 495.03L98.60 495.03L98.90 495.03L99.20 495.03L99.50 495.03L99.77 494.86L100.04 494.40L100.31 493.73L100.59 492.99L100.86 492.32L101.13 491.86L101.40 491.69L101.70 491.86L102.00 492.32L102.30 492.99L102.60 493.73L102.90 494.40L103.20 494.86L103.50 495.03L103.80 495.03L104.10 495.03L104.40 495.03L104.70 495.03L105.00 495.03L105.30 495.03L105.60 495.03L105.90 495.03L106.20 495.03L106.50 495.03L106.80 495.03L107.10 495.03L107.40 495.03L107.70 495.03L108.00 495.03L108.30 495.03L108.60 495.03L108.90 495.03L109.20 495.03L109.50 495.03L109.80 495.03L110.10 495.03L110.40 495.03L110.70 495.03L111.00 495.03L111.30 495.03L111.60 495.03L111.90 495.03L112.20 495.03L112.50 495.03L112.80 495.03L113.10 495.03L113.40 495.03L113.70 495.03L114.00 495.03L114.30 495.03L114.60 495.03L114.90 495.03L115.20 495.03L115.50 495.03L115.80 495.03L116.09 495.03L116.39 495.03L116.69 495.03L116.99 495.03L117.29 495.03L117.59 495.03L117.89 495.03L118.19 495.03L118.49 495.03L118.79 495.03L119.09 495.03L119.39 495.03L119.69 495.03L119.99 495.03L120.29 495.03L120.59 495.03L120.89 495.03L121.19 495.03L121.49 495.03L121.79 495.03L122.09 495.03L122.39 495.03L122.69 495.03L122.99 495.03L123.29 495.03L123.59 495.03L123.89 495.03L124.19 495.03L124.49 495.03L124.79 495.03L125.09 495.03L125.39 495.03L125.69 495.03L125.99 495.03L126.29 495.03L126.59 495.03L126.89 495.03L127.19 495.03L127.49 495.03L127.79 495.03L128.09 495.03L128.39 495.03L128.69 495.03L128.99 495.03L129.29 495.03L129.59 495.03L129.89 495.03L130.19 495.03L130.49 495.03L130.79 495.03L131.09 495.03L131.39 495.03L131.69 495.03L131.99 495.03L132.29 495.03L132.59 495.03L132.89 495.03L133.19 495.03L133.49 495.03L133.79 495.03L134.09 495.03L134.39 495.03L134.69 495.03L134.99 495.03L135.29 495.03L135.59 495.03L135.89 495.03L136.19 495.03L136.49 495.03L136.79 495.03L137.09 495.03L137.39 495.03L137.69 495.03L137.99 495.03L138.29 495.03L138.59 495.03L138.89 495.03L139.19 495.03L139.49 495.03L139.79 495.03L140.09 495.03L140.39 495.03L140.68 495.03L140.98 495.03L141.28 495.03L141.58 495.03L141.88 495.03L142.18 495.03L142.48 495.03L142.78 495.03L143.08 495.03L143.38 495.03L143.68 495.03L143.98 495.03L144.28 495.03L144.58 495.03L144.88 495.03L145.18 495.03L145.48 495.03L145.78 495.03L146.08 495.03L146.38 495.03L146.68 495.03L146.98 495.03L147.28 495.03L147.58 495.03L147.88 495.03L148.18 495.03L148.48 495.03L148.78 495.03L149.08 495.03L149.38 495.03L149.68 495.03L149.98 495.03L150.28 495.03L150.58 495.03L150.88 495.03L151.18 495.03L151.48 495.03L151.78 495.03L152.08 495.03L152.38 495.03L152.68 495.03L152.98 495.03L153.28 495.03L153.58 495.03L153.88 495.03L154.18 495.03L154.48 495.03L154.78 495.03L155.08 495.03L155.38 495.03L155.68 495.03L155.98 495.03L156.28 495.03L156.58 495.03L156.88 495.03L157.18 495.03L157.48 495.03L157.78 495.03L158.08 495.03L158.38 495.03L158.68 495.03L158.98 495.03L159.28 495.03L159.58 495.03L159.88 495.03L160.18 495.03L160.48 495.03L160.78 495.03L161.08 495.03L161.38 495.03L161.68 495.03L161.98 495.03L162.28 495.03L162.58 495.03L162.88 495.03L163.18 495.03L163.48 495.03L163.78 495.03L164.08 495.03L164.38 495.03L164.68 495.03L164.98 495.03L165.27 495.03L165.57 495.03L165.87 495.03L166.17 495.03L166.47 495.03L166.77 495.03L167.07 495.03L167.37 495.03L167.67 495.03L167.97 495.03L168.27 495.03L168.57 495.03L168.87 495.03L169.17 495.03L169.47 495.03L169.77 495.03L170.07 495.03L170.37 495.03L170.67 495.03L170.97 495.03L171.27 495.03L171.57 495.03L171.87 495.03L172.17 495.03L172.47 495.03L172.77 495.03L173.07 495.03L173.37 495.03L173.67 495.03L173.97 495.03L174.27 495.03L174.57 495.03L174.87 495.03L175.17 495.03L175.47 495.03L175.77 495.03L176.07 495.03L176.37 495.03L176.67 495.03L176.97 495.03L177.27 495.03L177.57 495.03L177.87 495.03L178.17 495.03L178.47 495.03L178.77 495.03L179.07 495.03L179.37 495.03L179.67 495.03L179.97 495.03L180.27 495.03L180.57 495.03L180.87 495.03L181.17 495.03L181.47 495.03L181.77 495.03L182.07 495.03L182.37 495.03L182.67 495.03L182.97 495.03L183.27 495.03L183.57 495.03L183.87 495.03L184.17 495.03L184.47 495.03L184.77 495.03L185.07 495.03L185.37 495.03L185.67 495.03L185.97 495.03L186.27 495.03L186.57 495.03L186.87 495.03L187.17 495.03L187.47 495.03L187.77 495.03L188.07 495.03L188.37 495.03L188.67 495.03L188.97 495.03L189.27 495.03L189.57 495.03L189.86 495.03L190.16 495.03L190.46 495.03L190.76 495.03L191.06 495.03L191.36 495.03L191.66 495.03L191.96 495.03L192.26 495.03L192.56 495.03L192.86 495.03L193.16 495.03L193.46 495.03L193.76 495.03L194.06 495.03L194.36 495.03L194.66 495.03L194.96 495.03L195.26 495.03L195.56 495.03L195.86 495.03L196.16 495.03L196.46 495.03L196.76 495.03L197.06 495.03L197.36 495.03L197.66 495.03L197.96 495.03L198.26 495.03L198.56 495.03L198.86 495.03L199.16 495.03L199.46 495.03L199.76 495.03L200.06 495.03L200.36 495.03L200.66 495.03L200.96 495.03L201.26 495.03L201.56 495.03L201.86 495.03L202.16 495.03L202.46 495.03L202.76 495.03L203.06 495.03L203.36 495.03L203.66 495.03L203.96 495.03L204.26 495.03L204.56 495.03L204.86 495.03L205.16 495.03L205.46 495.03L205.76 495.03L206.06 495.03L206.36 495.03L206.66 495.03L206.96 495.03L207.26 495.03L207.56 495.03L207.86 495.03L208.16 495.03L208.46 495.03L208.76 495.03L209.06 495.03L209.36 495.03L209.66 495.03L209.96 495.03L210.26 495.03L210.56 495.03L210.86 495.03L211.16 495.03L211.46 495.03L211.76 495.03L212.06 495.03L212.36 495.03L212.66 495.03L212.96 495.03L213.26 495.03L213.56 495.03L213.86 495.03L214.16 495.03L214.45 495.03L214.75 495.03L215.05 495.03L215.35 495.03L215.65 495.03L215.95 495.03L216.25 495.03L216.55 495.03L216.85 495.03L217.15 495.03L217.45 495.03L217.75 495.03L218.05 495.03L218.35 495.03L218.65 495.03L218.95 495.03L219.25 495.03L219.55 495.03L219.85 495.03L220.15 495.03L220.45 495.03L220.75 495.03L221.05 495.03L221.35 495.03L221.65 495.03L221.95 495.03L222.25 495.03L222.55 495.03L222.85 495.03L223.15 495.03L223.45 495.03L223.75 495.03L224.05 495.03L224.35 495.03L224.65 495.03L224.95 495.03L225.25 495.03L225.55 495.03L225.85 495.03L226.15 495.03L226.45 495.03L226.75 495.03L227.05 495.03L227.35 495.03L227.65 495.03L227.95 495.03L228.25 495.03L228.55 495.03L228.85 495.03L229.15 495.03L229.45 495.03L229.75 495.03L230.05 495.03L230.35 495.03L230.65 495.03L230.95 495.03L231.25 495.03L231.55 495.03L231.85 495.03L232.15 495.03L232.45 495.03L232.75 495.03L233.05 495.03L233.35 495.03L233.65 495.03L233.95 495.03L234.25 495.03L234.55 495.03L234.85 495.03L235.15 495.03L235.45 495.03L235.75 495.03L236.05 495.03L236.35 495.03L236.65 495.03L236.95 495.03L237.25 495.03L237.55 495.03L237.85 495.03L238.15 495.03L238.45 495.03L238.75 495.03L239.05 495.03L239.34 495.03L239.64 495.03L239.94 495.03L240.24 495.03L240.54 495.03L240.84 495.03L241.14 495.03L241.44 495.03L241.74 495.03L242.04 495.03L242.34 495.03L242.64 495.03L242.94 495.03L243.24 495.03L243.54 495.03L243.84 495.03L244.14 495.03L244.44 495.03L244.74 495.03L245.04 495.03L245.34 495.03L245.64 495.03L245.94 495.03L246.24 495.03L246.54 495.03L246.84 495.03L247.14 495.03L247.44 495.03L247.74 495.03L248.04 495.03L248.34 495.03L248.64 495.03L248.94 495.03L249.24 495.03L249.54 495.03L249.84 495.03L250.14 495.03L250.44 495.03L250.74 495.03L251.04 495.03L251.34 495.03L251.64 495.03L251.94 495.03L252.24 495.03L252.54 495.03L252.84 495.03L253.14 495.03L253.44 495.03L253.74 495.03L254.04 495.03L254.34 495.03L254.64 495.03L254.94 495.03L255.24 495.03L255.54 495.03L255.84 495.03L256.14 495.03L256.44 495.03L256.74 495.03L257.04 495.03L257.34 495.03L257.64 495.03L257.94 495.03L258.24 495.03L258.54 495.03L258.84 495.03L259.14 495.03L259.44 495.03L259.74 495.03L260.04 495.03L260.34 495.03L260.64 495.03L260.94 495.03L261.24 495.03L261.54 495.03L261.84 495.03L262.14 495.03L262.44 495.03L262.74 495.03L263.04 495.03L263.34 495.03L263.64 495.03L263.93 495.03L264.23 495.03L264.53 495.03L264.83 495.03L265.13 495.03L265.43 495.03L265.73 495.03L266.03 495.03L266.33 495.03L266.63 495.03L266.93 495.03L267.23 495.03L267.53 495.03L267.83 495.03L268.13 495.03L268.43 495.03L268.73 495.03L269.03 495.03L269.33 495.03L269.63 495.03L269.93 495.03L270.23 495.03L270.53 495.03L270.83 495.03L271.13 495.03L271.43 495.03L271.73 495.03L272.03 495.03L272.33 495.03L272.63 495.03L272.93 495.03L273.23 495.03L273.53 495.03L273.83 495.03L274.13 495.03L274.43 495.03L274.73 495.03L275.03 495.03L275.33 495.03L275.63 495.03L275.93 495.03L276.23 495.03L276.53 495.03L276.83 495.03L277.13 495.03L277.43 495.03L277.73 495.03L278.03 495.03L278.33 495.03L278.63 495.03L278.93 495.03L279.23 495.03L279.53 495.03L279.83 495.03L280.13 495.03L280.43 495.03L280.73 495.03L281.03 495.03L281.33 495.03L281.63 495.03L281.93 495.03L282.23 495.03L282.53 495.03L282.83 495.03L283.13 495.03L283.43 495.03L283.73 495.03L284.03 495.03L284.33 495.03L284.63 495.03L284.93 495.03L285.23 495.03L285.53 495.03L285.83 495.03L286.13 495.03L286.43 495.03L286.73 495.03L287.03 495.03L287.33 495.03L287.63 495.03L287.93 495.03L288.23 495.03L288.52 495.03L288.82 495.03L289.12 495.03L289.42 495.03L289.72 495.03L290.02 495.03L290.32 495.03L290.62 495.03L290.92 495.03L291.22 495.03L291.52 495.03L291.82 495.03L292.12 495.03L292.42 495.03L292.72 495.03L293.02 495.03L293.32 495.03L293.62 495.03L293.92 495.03L294.22 495.03L294.52 495.03L294.82 495.03L295.12 495.03L295.42 495.03L295.72 495.03L296.02 495.03L296.32 495.03L296.62 495.03L296.92 495.03L297.22 495.03L297.52 495.03L297.82 495.03L298.12 495.03L298.42 495.03L298.72 495.03L299.02 495.03L299.32 495.03L299.62 495.03L299.92 495.03L300.22 495.03L300.52 495.03L300.82 495.03L301.12 495.03L301.42 495.03L301.72 495.03L302.02 495.03L302.32 495.03L302.62 495.03L302.92 495.03L303.22 495.03L303.52 495.03L303.82 495.03L304.12 495.03L304.42 495.03L304.72 495.03L305.02 495.03L305.32 495.03L305.62 495.03L305.92 495.03L306.22 495.03L306.52 495.03L306.82 495.03L307.12 495.03L307.42 495.03L307.72 495.03L308.02 495.03L308.32 495.03L308.62 495.03L308.92 495.03L309.22 495.03L309.52 495.03L309.82 495.03L310.12 495.03L310.42 495.03L310.72 495.03L311.02 495.03L311.32 495.03L311.62 495.03L311.92 495.03L312.22 495.03L312.52 495.03L312.82 495.03L313.11 495.03L313.41 495.03L313.71 495.03L314.01 495.03L314.31 495.03L314.61 495.03L314.91 495.03L315.21 495.03L315.51 495.03L315.81 495.03L316.11 495.03L316.41 495.03L316.71 495.03L317.01 495.03L317.31 495.03L317.61 495.03L317.91 495.03L318.21 495.03L318.51 495.03L318.81 495.03L319.11 495.03L319.41 495.03L319.71 495.03L320.01 495.03L320.31 495.03L320.61 495.03L320.91 495.03L321.21 495.03L321.51 495.03L321.81 495.03L322.11 495.03L322.41 495.03L322.71 495.03L323.01 495.03L323.31 495.03L323.61 495.03L323.91 495.03L324.21 495.03L324.51 495.03L324.81 495.03L325.11 495.03L325.41 495.03L325.71 495.03L326.01 495.03L326.31 495.03L326.61 495.03L326.91 495.03L327.21 495.03L327.51 495.03L327.81 495.03L328.11 495.03L328.41 495.03L328.71 495.03L329.01 495.03L329.31 495.03L329.61 495.03L329.91 495.03L330.21 495.03L330.51 495.03L330.81 495.03L331.11 495.03L331.41 495.03L331.71 495.03L332.01 495.03L332.31 495.03L332.61 495.03L332.91 495.03L333.21 495.03L333.51 495.03L333.81 495.03L334.11 495.03L334.41 495.03L334.71 495.03L335.01 495.03L335.31 495.03L335.61 495.03L335.91 495.03L336.21 495.03L336.51 495.03L336.81 495.03L337.11 495.03L337.41 495.03L337.70 495.03L338.00 495.03L338.30 495.03L338.60 495.03L338.90 495.03L339.20 495.03L339.50 495.03L339.80 495.03L340.10 495.03L340.40 495.03L340.70 495.03L341.00 495.03L341.30 495.03L341.60 495.03L341.90 495.03L342.20 495.03L342.50 495.03L342.80 495.03L343.10 495.03L343.40 495.03L343.70 495.03L344.00 495.03L344.30 495.03L344.60 495.03L344.90 495.03L345.20 495.03L345.50 495.03L345.80 495.03L346.10 495.03L346.40 495.03L346.70 495.03L347.00 495.03L347.30 495.03L347.60 495.03L347.90 495.03L348.20 495.03L348.50 495.03L348.80 495.03L349.10 495.03L349.40 495.03L349.70 495.03L350.00 495.03L350.30 494.61L350.60 493.42L350.90 491.64L351.20 489.55L351.50 487.45L351.80 485.68L352.10 484.49L352.40 484.07L352.68 484.30L352.96 484.94L353.24 485.94L353.52 487.20L353.80 488.60L354.08 490.00L354.36 491.26L354.64 492.26L354.92 492.90L355.20 493.12L355.48 492.93L355.76 492.39L356.04 491.55L356.32 490.49L356.60 489.31L356.88 488.13L357.16 487.07L357.44 486.23L357.72 485.69L358.00 485.50L358.28 485.79L358.56 486.62L358.83 487.88L359.11 489.44L359.39 491.09L359.67 492.64L359.94 493.91L360.22 494.74L360.50 495.03L360.80 495.03L361.10 495.03L361.39 495.03L361.69 495.03L361.99 495.03L362.29 495.03L362.59 495.03L362.88 495.03L363.18 495.03L363.48 495.03L363.78 495.03L364.07 495.03L364.37 495.03L364.67 495.03L364.97 495.03L365.27 495.03L365.56 495.03L365.86 495.03L366.16 495.03L366.46 495.03L366.76 495.03L367.05 495.03L367.35 495.03L367.65 495.03L367.95 495.03L368.24 495.03L368.54 495.03L368.84 495.03L369.14 495.03L369.44 495.03L369.73 495.03L370.03 495.03L370.33 495.03L370.63 495.03L370.93 495.03L371.22 495.03L371.52 495.03L371.82 495.03L372.12 495.03L372.41 495.03L372.71 495.03L373.01 495.03L373.31 495.03L373.61 495.03L373.90 495.03L374.20 495.03L374.50 495.03L374.77 494.71L375.05 494.18L375.32 493.36L375.60 492.16L375.88 490.53L376.15 488.46L376.43 486.04L376.70 483.45L376.98 480.94L377.25 478.84L377.53 477.43L377.80 476.93L378.10 477.80L378.40 480.18L378.70 483.45L379.00 486.88L379.30 489.89L379.60 492.16L379.90 493.67L380.20 494.56L380.50 495.03L380.80 495.03L381.10 495.03L381.40 495.03L381.70 495.03L382.00 495.03L382.30 495.03L382.59 495.03L382.89 495.03L383.19 495.03L383.49 495.03L383.79 495.03L384.09 495.03L384.39 495.03L384.69 495.03L384.99 495.03L385.29 495.03L385.59 495.03L385.89 495.03L386.18 495.03L386.48 495.03L386.78 495.03L387.08 495.03L387.38 495.03L387.68 495.03L387.98 495.03L388.28 495.03L388.58 495.03L388.88 495.03L389.18 495.03L389.48 495.03L389.77 495.03L390.07 495.03L390.37 495.03L390.67 495.03L390.97 495.03L391.27 495.03L391.57 495.03L391.87 495.03L392.17 495.03L392.47 495.03L392.77 495.03L393.07 495.03L393.36 495.03L393.66 495.03L393.96 495.03L394.26 495.03L394.56 495.03L394.86 495.03L395.16 495.03L395.46 495.03L395.76 495.03L396.06 495.03L396.36 495.03L396.66 495.03L396.96 495.03L397.25 495.03L397.55 495.03L397.85 495.03L398.15 495.03L398.45 495.03L398.75 495.03L399.05 495.03L399.35 495.03L399.65 495.03L399.95 495.03L400.25 495.03L400.55 495.03L400.84 495.03L401.14 495.03L401.44 495.03L401.74 495.03L402.04 495.03L402.34 495.03L402.64 495.03L402.94 495.03L403.24 495.03L403.54 495.03L403.84 495.03L404.14 495.03L404.43 495.03L404.73 495.03L405.03 495.03L405.33 495.03L405.63 495.03L405.93 495.03L406.23 495.03L406.53 495.03L406.83 495.03L407.13 495.03L407.43 495.03L407.73 495.03L408.02 495.03L408.32 495.03L408.62 495.03L408.92 495.03L409.22 495.03L409.52 495.03L409.82 495.03L410.12 495.03L410.42 495.03L410.72 495.03L411.02 495.03L411.32 495.03L411.62 495.03L411.91 495.03L412.21 495.03L412.51 495.03L412.81 495.03L413.11 495.03L413.41 495.03L413.71 495.03L414.01 495.03L414.31 495.03L414.61 495.03L414.91 495.03L415.21 495.03L415.50 495.03L415.80 495.03L416.10 495.03L416.40 495.03L416.70 495.03L417.00 495.03L417.30 495.03L417.60 495.03L417.90 495.03L418.20 495.03L418.50 495.03L418.80 495.03L419.09 495.03L419.39 495.03L419.69 495.03L419.99 495.03L420.29 495.03L420.59 495.03L420.89 495.03L421.19 495.03L421.49 495.03L421.79 495.03L422.09 495.03L422.39 495.03L422.68 495.03L422.98 495.03L423.28 495.03L423.58 495.03L423.88 495.03L424.18 495.03L424.48 495.03L424.78 495.03L425.08 495.03L425.38 495.03L425.68 495.03L425.98 495.03L426.28 495.03L426.57 495.03L426.87 495.03L427.17 495.03L427.47 495.03L427.77 495.03L428.07 495.03L428.37 495.03L428.67 495.03L428.97 495.03L429.27 495.03L429.57 495.03L429.87 495.03L430.16 495.03L430.46 495.03L430.76 495.03L431.06 495.03L431.36 495.03L431.66 495.03L431.96 495.03L432.26 495.03L432.56 495.03L432.86 495.03L433.16 495.03L433.46 495.03L433.75 495.03L434.05 495.03L434.35 495.03L434.65 495.03L434.95 495.03L435.25 495.03L435.55 495.03L435.85 495.03L436.15 495.03L436.45 495.03L436.75 495.03L437.05 495.03L437.34 495.03L437.64 495.03L437.94 495.03L438.24 495.03L438.54 495.03L438.84 495.03L439.14 495.03L439.44 495.03L439.74 495.03L440.04 495.03L440.34 495.03L440.64 495.03L440.94 495.03L441.23 495.03L441.53 495.03L441.83 495.03L442.13 495.03L442.43 495.03L442.73 495.03L443.03 495.03L443.33 495.03L443.63 495.03L443.93 495.03L444.23 495.03L444.53 495.03L444.82 495.03L445.12 495.03L445.42 495.03L445.72 495.03L446.02 495.03L446.32 495.03L446.62 495.03L446.92 495.03L447.22 495.03L447.52 495.03L447.82 495.03L448.12 495.03L448.41 495.03L448.71 495.03L449.01 495.03L449.31 495.03L449.61 495.03L449.91 495.03L450.21 495.03L450.51 495.03L450.81 495.03L451.11 495.03L451.41 495.03L451.71 495.03L452.00 495.03L452.30 495.03L452.60 495.03L452.90 495.03L453.20 495.03L453.50 495.03L453.80 495.03L454.09 494.07L454.37 492.57L454.66 490.36L454.94 487.23L455.23 483.00L455.51 477.59L455.80 471.02L456.09 463.50L456.37 455.41L456.66 447.33L456.94 439.97L457.23 434.03L457.51 430.18L457.80 428.84L458.08 430.18L458.36 433.98L458.64 439.61L458.92 446.27L459.20 453.11L459.48 459.41L459.76 464.70L460.04 468.65L460.32 471.15L460.60 472.17L460.89 471.80L461.19 471.01L461.48 469.80L461.78 468.17L462.07 466.13L462.37 463.67L462.66 460.84L462.96 457.68L463.25 454.23L463.55 450.57L463.84 446.79L464.14 443.01L464.43 439.34L464.73 435.93L465.02 432.90L465.32 430.39L465.61 428.50L465.91 427.34L466.20 426.94L466.46 427.60L466.71 429.45L466.97 432.12L467.23 435.09L467.49 437.76L467.74 439.61L468.00 440.27L468.27 439.09L468.55 435.74L468.82 430.72L469.10 424.80L469.38 418.87L469.65 413.85L469.93 410.50L470.20 409.32L470.47 410.10L470.75 412.32L471.02 415.64L471.30 419.56L471.57 423.48L471.85 426.80L472.12 429.02L472.40 429.80L472.70 428.82L473.00 425.98L473.30 421.55L473.60 415.98L473.90 409.80L474.20 403.62L474.50 398.04L474.80 393.62L475.10 390.78L475.40 389.80L475.67 390.28L475.93 391.59L476.20 393.37L476.47 395.16L476.73 396.46L477.00 396.94L477.30 397.58L477.60 399.38L477.90 402.09L478.20 405.28L478.50 408.46L478.80 411.17L479.10 412.97L479.40 413.61L479.66 411.67L479.91 406.26L480.17 398.43L480.43 389.74L480.69 381.92L480.94 376.50L481.20 374.57L481.46 375.89L481.71 379.58L481.97 384.93L482.23 390.86L482.49 396.21L482.74 399.91L483.00 401.23L483.26 400.05L483.51 396.75L483.77 391.97L484.03 386.68L484.29 381.90L484.54 378.60L484.80 377.42L485.10 377.77L485.40 378.61L485.70 379.45L486.00 379.80L486.28 379.35L486.56 378.16L486.84 376.69L487.12 375.50L487.40 375.04L487.66 376.57L487.91 380.87L488.17 387.07L488.43 393.96L488.69 400.16L488.94 404.46L489.20 405.99L489.47 404.62L489.73 400.87L490.00 395.75L490.27 390.63L490.53 386.89L490.80 385.52L491.10 389.15L491.40 399.24L491.70 413.67L492.00 429.74L492.30 444.98L492.60 457.72L492.90 467.26L493.20 473.72L493.50 477.67L493.80 479.79L494.10 478.37L494.40 475.84L494.70 471.90L495.00 466.25L495.30 458.72L495.60 449.37L495.90 438.58L496.20 427.15L496.50 416.21L496.80 407.07L497.10 400.98L497.40 398.85L497.68 400.25L497.96 404.26L498.25 410.41L498.53 417.99L498.81 426.23L499.09 434.39L499.37 441.83L499.65 448.07L499.94 452.79L500.22 455.77L500.50 456.94L500.80 455.76L501.10 452.43L501.40 447.32L501.70 440.98L502.00 434.14L502.30 427.61L502.60 422.22L502.90 418.66L503.20 417.42L503.45 419.02L503.70 422.89L503.95 426.76L504.20 428.37L504.46 425.61L504.71 417.88L504.97 406.71L505.23 394.32L505.49 383.15L505.74 375.42L506.00 372.66L506.29 374.16L506.57 378.52L506.86 385.37L507.15 394.17L507.44 404.24L507.73 414.90L508.01 425.50L508.30 435.51L508.59 444.54L508.88 452.35L509.16 458.83L509.45 464.02L509.74 467.99L510.03 470.89L510.31 472.86L510.60 474.08L510.90 472.22L511.20 467.78L511.50 460.60L511.80 450.94L512.10 439.81L512.40 429.11L512.70 421.26L513.00 418.37L513.30 419.00L513.60 420.84L513.90 423.77L514.20 427.60L514.50 432.09L514.80 437.00L515.10 442.07L515.40 447.07L515.70 451.81L516.00 456.13L516.30 459.93L516.60 463.13L516.90 465.67L517.20 467.55L517.50 468.76L517.80 469.31L518.07 468.61L518.33 466.70L518.60 464.08L518.87 461.46L519.13 459.54L519.40 458.84L519.69 459.88L519.98 462.77L520.27 466.90L520.56 471.49L520.84 475.84L521.13 479.48L521.42 482.16L521.71 483.84L522.00 484.55L522.30 484.35L522.60 483.88L522.90 483.16L523.20 482.19L523.50 480.97L523.80 479.52L524.10 477.89L524.40 476.11L524.70 474.24L525.00 472.36L525.30 470.54L525.60 468.89L525.90 467.48L526.20 466.41L526.50 465.73L526.80 465.51L527.08 465.57L527.37 465.74L527.65 465.98L527.93 466.22L528.22 466.39L528.50 466.46L528.76 466.31L529.02 465.90L529.29 465.28L529.55 464.55L529.81 463.82L530.08 463.21L530.34 462.79L530.60 462.65L530.88 463.22L531.17 464.91L531.45 467.60L531.73 471.10L532.02 475.18L532.30 479.55L532.58 483.93L532.87 488.00L533.15 491.50L533.43 494.19L533.72 495.88L534.00 496.45L534.30 496.40L534.60 496.24L534.90 496.01L535.20 495.74L535.50 495.47L535.80 495.23L536.10 495.08L536.40 495.03L536.70 495.03L537.00 495.03L537.30 495.03L537.60 495.03L537.90 495.03L538.19 495.03L538.49 495.03L538.79 495.03L539.09 495.03L539.39 495.03L539.69 495.03L539.99 495.03L540.29 495.03L540.59 495.03L540.89 495.03L541.18 495.03L541.48 495.03L541.78 495.03L542.08 495.03L542.38 495.03L542.68 495.03L542.98 495.03L543.28 495.03L543.58 495.03L543.88 495.03L544.17 495.03L544.47 495.03L544.77 495.03L545.07 495.03L545.37 495.03L545.67 495.03L545.97 495.03L546.27 495.03L546.57 495.03L546.87 495.03L547.16 495.03L547.46 495.03L547.76 495.03L548.06 495.03L548.36 495.03L548.66 495.03L548.96 495.03L549.26 495.03L549.56 495.03L549.86 495.03L550.16 495.03L550.45 495.03L550.75 495.03L551.05 495.03L551.35 495.03L551.65 495.03L551.95 495.03L552.25 495.03L552.55 495.03L552.85 495.03L553.15 495.03L553.44 495.03L553.74 495.03L554.04 495.03L554.34 495.03L554.64 495.03L554.94 495.03L555.24 495.03L555.54 495.03L555.84 495.03L556.14 495.03L556.43 495.03L556.73 495.03L557.03 495.03L557.33 495.03L557.63 495.03L557.93 495.03L558.23 495.03L558.53 495.03L558.83 495.03L559.13 495.03L559.42 495.03L559.72 495.03L560.02 495.03L560.32 495.03L560.62 495.03L560.92 495.03L561.22 495.03L561.52 495.03L561.82 495.03L562.12 495.03L562.42 495.03L562.71 495.03L563.01 495.03L563.31 495.03L563.61 495.03L563.91 495.03L564.21 495.03L564.51 495.03L564.81 495.03L565.11 495.03L565.41 495.03L565.70 495.03L566.00 495.03L566.30 495.03L566.60 495.03L566.90 495.03L567.20 495.03L567.50 495.03L567.80 495.03L568.10 495.03L568.40 495.03L568.69 495.03L568.99 495.03L569.29 495.03L569.59 495.03L569.89 495.03L570.19 495.03L570.49 495.03L570.79 495.03L571.09 495.03L571.39 495.03L571.69 495.03L571.98 495.03L572.28 495.03L572.58 495.03L572.88 495.03L573.18 495.03L573.48 495.03L573.78 495.03L574.08 495.03L574.38 495.03L574.68 495.03L574.97 495.03L575.27 495.03L575.57 495.03L575.87 495.03L576.17 495.03L576.47 495.03L576.77 495.03L577.07 495.03L577.37 495.03L577.67 495.03L577.96 495.03L578.26 495.03L578.56 495.03L578.86 495.03L579.16 495.03L579.46 495.03L579.76 495.03L580.06 495.03L580.36 495.03L580.66 495.03L580.95 495.03L581.25 495.03L581.55 495.03L581.85 495.03L582.15 495.03L582.45 495.03L582.75 495.03L583.05 495.03L583.35 495.03L583.65 495.03L583.95 495.03L584.24 495.03L584.54 495.03L584.84 495.03L585.14 495.03L585.44 495.03L585.74 495.03L586.04 495.03L586.34 495.03L586.64 495.03L586.94 495.03L587.23 495.03L587.53 495.03L587.83 495.03L588.13 495.03L588.43 495.03L588.73 495.03L589.03 495.03L589.33 495.03L589.63 495.03L589.93 495.03L590.22 495.03L590.52 495.03L590.82 495.03L591.12 495.03L591.42 495.03L591.72 495.03L592.02 495.03L592.32 495.03L592.62 495.03L592.92 495.03L593.21 495.03L593.51 495.03L593.81 495.03L594.11 495.03L594.41 495.03L594.71 495.03L595.01 495.03L595.31 495.03L595.61 495.03L595.91 495.03L596.21 495.03L596.50 495.03L596.80 495.03L597.10 495.03L597.40 495.03L597.70 495.03L598.00 495.03L598.30 495.03L598.60 495.03L598.90 495.03L599.20 495.03L599.49 495.03L599.79 495.03L600.09 495.03L600.39 495.03L600.69 495.03L600.99 495.03L601.29 495.03L601.59 495.03L601.89 495.03L602.19 495.03L602.48 495.03L602.78 495.03L603.08 495.03L603.38 495.03L603.68 495.03L603.98 495.03L604.28 495.03L604.58 495.03L604.88 495.03L605.18 495.03L605.48 495.03L605.77 495.03L606.07 495.03L606.37 495.03L606.67 495.03L606.97 495.03L607.27 495.03L607.57 495.03L607.87 495.03L608.17 495.03L608.47 495.03L608.76 495.03L609.06 495.03L609.36 495.03L609.66 495.03L609.96 495.03L610.26 495.03L610.56 495.03L610.86 495.03L611.16 495.03L611.46 495.03L611.75 495.03L612.05 495.03L612.35 495.03L612.65 495.03L612.95 495.03L613.25 495.03L613.55 495.03L613.85 495.03L614.15 495.03L614.45 495.03L614.74 495.03L615.04 495.03L615.34 495.03L615.64 495.03L615.94 495.03L616.24 495.03L616.54 495.03L616.84 495.03L617.14 495.03L617.44 495.03L617.74 495.03L618.03 495.03L618.33 495.03L618.63 495.03L618.93 495.03L619.23 495.03L619.53 495.03L619.83 495.03L620.13 495.03L620.43 495.03L620.73 495.03L621.02 495.03L621.32 495.03L621.62 495.03L621.92 495.03L622.22 495.03L622.52 495.03L622.82 495.03L623.12 495.03L623.42 495.03L623.72 495.03L624.01 495.03L624.31 495.03L624.61 495.03L624.91 495.03L625.21 495.03L625.51 495.03L625.81 495.03L626.11 495.03L626.41 495.03L626.71 495.03L627.00 495.03L627.30 495.03L627.60 495.03L627.90 495.03L628.20 495.03L628.50 495.03L628.79 493.09L629.08 489.88L629.38 484.88L629.67 477.60L629.96 467.69L630.25 455.14L630.54 440.43L630.83 424.66L631.12 409.42L631.42 396.62L631.71 388.05L632.00 385.04L632.29 386.15L632.57 389.25L632.86 393.74L633.14 398.72L633.43 403.21L633.71 406.31L634.00 407.42L634.30 406.56L634.60 404.05L634.90 400.16L635.20 395.25L635.50 389.80L635.80 384.36L636.10 379.45L636.40 375.55L636.70 373.05L637.00 372.18L637.24 372.37L637.48 372.84L637.72 373.43L637.96 373.91L638.20 374.09L638.48 372.78L638.76 369.00L639.04 363.10L639.32 355.67L639.60 347.43L639.88 339.19L640.16 331.75L640.44 325.86L640.72 322.07L641.00 320.76L641.28 322.57L641.56 327.78L641.83 335.76L642.11 345.55L642.39 355.97L642.67 365.76L642.94 373.74L643.22 378.95L643.50 380.75L643.80 379.44L644.10 375.71L644.40 369.72L644.70 361.68L645.00 351.91L645.30 340.81L645.60 328.83L645.90 316.48L646.20 304.28L646.50 292.79L646.80 282.53L647.10 273.98L647.40 267.54L647.70 263.55L648.00 262.20L648.27 264.12L648.54 269.70L648.81 278.39L649.08 289.34L649.35 301.48L649.62 313.62L649.89 324.57L650.16 333.26L650.43 338.84L650.70 340.76L651.00 339.92L651.30 337.44L651.60 333.51L651.90 328.38L652.20 322.41L652.50 316.00L652.80 309.59L653.10 303.62L653.40 298.50L653.70 294.56L654.00 292.09L654.30 291.24L654.52 291.45L654.75 291.96L654.98 292.46L655.20 292.67L655.49 291.90L655.78 289.60L656.07 285.84L656.36 280.72L656.65 274.39L656.94 267.00L657.23 258.77L657.52 249.92L657.81 240.69L658.09 231.33L658.38 222.10L658.67 213.25L658.96 205.02L659.25 197.64L659.54 191.30L659.83 186.18L660.12 182.42L660.41 180.13L660.70 179.35L660.96 179.22L661.22 178.86L661.48 178.42L661.74 178.06L662.00 177.93L662.29 176.75L662.58 173.32L662.87 167.90L663.16 160.95L663.45 153.02L663.75 144.75L664.04 136.82L664.33 129.86L664.62 124.45L664.91 121.01L665.20 119.84L665.49 121.76L665.78 127.23L666.06 135.42L666.35 145.07L666.64 154.73L666.92 162.92L667.21 168.39L667.50 170.31L667.80 169.81L668.10 168.50L668.40 166.88L668.70 165.57L669.00 165.07L669.30 165.66L669.60 167.42L669.90 170.32L670.20 174.32L670.50 179.35L670.80 185.34L671.10 192.20L671.40 199.83L671.70 208.12L672.00 216.96L672.30 226.23L672.60 235.81L672.90 245.58L673.20 255.44L673.50 265.26L673.80 274.95L674.10 284.40L674.40 293.51L674.70 302.22L675.00 310.43L675.30 318.07L675.60 325.09L675.90 331.42L676.20 337.02L676.50 341.86L676.80 345.89L677.10 349.09L677.40 351.45L677.70 352.96L678.00 353.62L678.30 352.84L678.60 350.82L678.90 348.32L679.20 346.29L679.50 345.52L679.80 346.26L680.10 348.26L680.40 351.00L680.70 353.73L681.00 355.74L681.30 356.47L681.58 354.94L681.87 350.44L682.15 343.29L682.43 333.98L682.72 323.12L683.00 311.48L683.28 299.83L683.57 288.98L683.85 279.66L684.13 272.51L684.42 268.02L684.70 266.49L685.00 267.49L685.30 270.42L685.60 275.03L685.90 280.96L686.20 287.72L686.50 294.77L686.80 301.53L687.10 307.46L687.40 312.07L687.70 315.00L688.00 316.00L688.28 315.56L688.57 314.34L688.85 312.67L689.13 311.00L689.42 309.78L689.70 309.34L689.97 309.78L690.23 311.00L690.50 312.67L690.77 314.34L691.03 315.56L691.30 316.00L691.57 318.07L691.85 323.95L692.12 332.76L692.40 343.14L692.67 353.53L692.95 362.33L693.23 368.21L693.50 370.28L693.78 368.40L694.06 362.98L694.33 354.69L694.61 344.51L694.89 333.68L695.17 323.50L695.44 315.20L695.72 309.79L696.00 307.91L696.27 308.90L696.55 311.74L696.83 315.99L697.10 321.00L697.38 326.01L697.65 330.26L697.93 333.10L698.20 334.09L698.47 335.05L698.73 336.95L699.00 337.90L699.29 341.28L699.57 351.01L699.86 365.99L700.14 384.60L700.43 404.99L700.71 425.41L701.00 444.41L701.29 461.00L701.57 474.66L701.86 485.33L702.14 493.25L702.43 498.84L702.71 502.60L703.00 505.02L703.29 504.53L703.57 503.14L703.86 501.14L704.14 498.91L704.43 496.91L704.71 495.52L705.00 495.03L705.29 494.95L705.57 494.76L705.86 494.47L706.14 494.15L706.43 493.87L706.71 493.67L707.00 493.60L707.27 493.40L707.55 492.83L707.83 491.98L708.10 490.98L708.38 489.98L708.65 489.13L708.93 488.56L709.20 488.36L709.48 488.49L709.76 488.86L710.03 489.43L710.31 490.13L710.59 490.87L710.87 491.57L711.14 492.14L711.42 492.52L711.70 492.64L711.99 492.55L712.28 492.30L712.56 491.91L712.85 491.45L713.14 491.00L713.42 490.61L713.71 490.35L714.00 490.26L714.28 490.29L714.56 490.38L714.83 490.50L715.11 490.66L715.39 490.82L715.67 490.98L715.94 491.10L716.22 491.19L716.50 491.22L716.79 491.17L717.07 491.04L717.36 490.85L717.64 490.63L717.93 490.44L718.21 490.31L718.50 490.26L718.77 490.30L719.05 490.40L719.33 490.56L719.60 490.74L719.88 490.92L720.15 491.08L720.43 491.18L720.70 491.22L720.99 491.09L721.28 490.73L721.58 490.14L721.87 489.37L722.16 488.45L722.45 487.45L722.75 486.41L723.04 485.41L723.33 484.50L723.62 483.72L723.92 483.14L724.21 482.77L724.50 482.65L724.78 482.78L725.07 483.19L725.35 483.84L725.64 484.70L725.92 485.72L726.21 486.83L726.49 487.98L726.78 489.10L727.06 490.11L727.35 490.97L727.63 491.62L727.92 492.03L728.20 492.17L728.49 492.08L728.79 491.82L729.08 491.40L729.38 490.83L729.67 490.13L729.97 489.31L730.26 488.41L730.56 487.45L730.85 486.45L731.14 485.46L731.44 484.50L731.73 483.60L732.03 482.78L732.32 482.08L732.62 481.51L732.91 481.09L733.21 480.83L733.50 480.74L733.80 480.99L734.10 481.72L734.40 482.86L734.70 484.29L735.00 485.89L735.30 487.53L735.60 489.11L735.90 490.54L736.20 491.76L736.50 492.76L736.80 493.54L737.10 494.13L737.40 494.55L737.70 494.83L738.00 495.03L738.24 495.16L738.48 495.52L738.72 495.96L738.96 496.32L739.20 496.45L739.50 496.42L739.80 496.34L740.10 496.21L740.40 496.04L740.70 495.84L741.00 495.64L741.30 495.44L741.60 495.27L741.90 495.14L742.20 495.05L742.50 495.03" fill="none" stroke="#cc3838" stroke-width="1.7" stroke-linejoin="round" stroke-linecap="butt"/>
<path d="M67.20 495.03L67.50 495.03L67.80 495.03L68.10 495.03L68.40 495.03L68.70 495.03L69.00 495.03L69.30 495.03L69.60 495.03L69.90 495.03L70.20 495.03L70.50 495.03L70.80 495.03L71.10 495.03L71.40 495.03L71.70 495.03L72.00 495.03L72.30 495.03L72.60 495.03L72.90 495.03L73.20 495.03L73.50 493.35L73.80 490.57L74.10 486.24L74.40 479.94L74.70 471.36L75.00 460.49L75.30 447.76L75.60 434.10L75.90 420.91L76.20 409.82L76.50 402.41L76.80 399.80L77.09 404.80L77.38 418.44L77.67 437.19L77.96 456.88L78.24 474.11L78.53 487.15L78.82 495.81L79.11 500.91L79.40 503.60L79.68 501.27L79.96 497.08L80.24 490.18L80.52 479.87L80.80 465.95L81.08 449.14L81.36 431.28L81.64 415.17L81.92 403.87L82.20 399.80L82.50 404.09L82.80 416.01L83.10 433.01L83.40 451.85L83.70 469.59L84.00 484.28L84.30 495.16L84.60 502.43L84.90 506.86L85.20 509.31L85.50 508.75L85.80 507.19L86.10 504.98L86.40 502.52L86.70 500.21L87.00 498.29L87.30 496.87L87.60 495.92L87.90 495.34L88.20 495.03L88.50 495.03L88.80 495.03L89.10 495.03L89.40 495.03L89.70 495.03L90.00 495.03L90.30 495.03L90.60 495.03L90.90 495.03L91.20 495.03L91.50 495.03L91.80 495.03L92.10 495.03L92.40 495.03L92.70 495.03L93.00 495.03L93.30 495.03L93.60 495.03L93.90 495.03L94.20 495.03L94.50 495.03L94.80 495.03L95.10 495.03L95.40 495.03L95.70 495.03L96.00 495.03L96.30 495.03L96.60 495.03L96.90 495.03L97.20 495.03L97.50 495.03L97.80 495.03L98.08 493.31L98.36 490.72L98.64 486.96L98.92 481.70L99.20 474.66L99.48 465.64L99.76 454.62L100.04 441.78L100.32 427.58L100.60 412.78L100.88 398.38L101.16 385.51L101.44 375.30L101.72 368.74L102.00 366.47L102.29 369.79L102.58 379.30L102.88 393.74L103.17 411.35L103.46 430.17L103.75 448.42L104.05 464.77L104.34 478.42L104.63 489.11L104.92 497.00L105.22 502.48L105.51 506.10L105.80 508.36L106.08 508.13L106.37 507.46L106.65 506.40L106.93 505.02L107.22 503.42L107.50 501.69L107.78 499.97L108.07 498.36L108.35 496.98L108.63 495.92L108.92 495.25L109.20 495.03L109.50 495.03L109.80 495.03L110.10 495.03L110.40 495.03L110.70 495.03L111.00 495.03L111.30 495.03L111.60 495.03L111.90 495.03L112.20 495.03L112.50 495.03L112.80 495.03L113.10 495.03L113.40 495.03L113.70 495.03L114.00 495.03L114.30 495.03L114.60 495.03L114.90 495.03L115.20 495.03L115.50 495.03L115.80 495.03L116.10 495.03L116.40 495.03L116.70 495.03L116.99 495.03L117.29 495.03L117.59 495.03L117.89 495.03L118.19 495.03L118.49 495.03L118.79 495.03L119.09 495.03L119.39 495.03L119.69 495.03L119.99 495.03L120.29 495.03L120.59 495.03L120.89 495.03L121.19 495.03L121.49 495.03L121.79 495.03L122.09 495.03L122.39 495.03L122.69 495.03L122.99 495.03L123.29 495.03L123.59 495.03L123.89 495.03L124.19 495.03L124.49 495.03L124.79 495.03L125.09 495.03L125.39 495.03L125.69 495.03L125.99 495.03L126.29 495.03L126.59 495.03L126.89 495.03L127.19 495.03L127.49 495.03L127.79 495.03L128.09 495.03L128.39 495.03L128.69 495.03L128.99 495.03L129.29 495.03L129.59 495.03L129.89 495.03L130.19 495.03L130.49 495.03L130.79 495.03L131.09 495.03L131.39 495.03L131.69 495.03L131.99 495.03L132.28 495.03L132.58 495.03L132.88 495.03L133.18 495.03L133.48 495.03L133.78 495.03L134.08 495.03L134.38 495.03L134.68 495.03L134.98 495.03L135.28 495.03L135.58 495.03L135.88 495.03L136.18 495.03L136.48 495.03L136.78 495.03L137.08 495.03L137.38 495.03L137.68 495.03L137.98 495.03L138.28 495.03L138.58 495.03L138.88 495.03L139.18 495.03L139.48 495.03L139.78 495.03L140.08 495.03L140.38 495.03L140.68 495.03L140.98 495.03L141.28 495.03L141.58 495.03L141.88 495.03L142.18 495.03L142.48 495.03L142.78 495.03L143.08 495.03L143.38 495.03L143.68 495.03L143.98 495.03L144.28 495.03L144.58 495.03L144.88 495.03L145.18 495.03L145.48 495.03L145.78 495.03L146.08 495.03L146.38 495.03L146.68 495.03L146.98 495.03L147.28 495.03L147.58 495.03L147.87 495.03L148.17 495.03L148.47 495.03L148.77 495.03L149.07 495.03L149.37 495.03L149.67 495.03L149.97 495.03L150.27 495.03L150.57 495.03L150.87 495.03L151.17 495.03L151.47 495.03L151.77 495.03L152.07 495.03L152.37 495.03L152.67 495.03L152.97 495.03L153.27 495.03L153.57 495.03L153.87 495.03L154.17 495.03L154.47 495.03L154.77 495.03L155.07 495.03L155.37 495.03L155.67 495.03L155.97 495.03L156.27 495.03L156.57 495.03L156.87 495.03L157.17 495.03L157.47 495.03L157.77 495.03L158.07 495.03L158.37 495.03L158.67 495.03L158.97 495.03L159.27 495.03L159.57 495.03L159.87 495.03L160.17 495.03L160.47 495.03L160.77 495.03L161.07 495.03L161.37 495.03L161.67 495.03L161.97 495.03L162.27 495.03L162.57 495.03L162.87 495.03L163.16 495.03L163.46 495.03L163.76 495.03L164.06 495.03L164.36 495.03L164.66 495.03L164.96 495.03L165.26 495.03L165.56 495.03L165.86 495.03L166.16 495.03L166.46 495.03L166.76 495.03L167.06 495.03L167.36 495.03L167.66 495.03L167.96 495.03L168.26 495.03L168.56 495.03L168.86 495.03L169.16 495.03L169.46 495.03L169.76 495.03L170.06 495.03L170.36 495.03L170.66 495.03L170.96 495.03L171.26 495.03L171.56 495.03L171.86 495.03L172.16 495.03L172.46 495.03L172.76 495.03L173.06 495.03L173.36 495.03L173.66 495.03L173.96 495.03L174.26 495.03L174.56 495.03L174.86 495.03L175.16 495.03L175.46 495.03L175.76 495.03L176.06 495.03L176.36 495.03L176.66 495.03L176.96 495.03L177.26 495.03L177.56 495.03L177.86 495.03L178.16 495.03L178.45 495.03L178.75 495.03L179.05 495.03L179.35 495.03L179.65 495.03L179.95 495.03L180.25 495.03L180.55 495.03L180.85 495.03L181.15 495.03L181.45 495.03L181.75 495.03L182.05 495.03L182.35 495.03L182.65 495.03L182.95 495.03L183.25 495.03L183.55 495.03L183.85 495.03L184.15 495.03L184.45 495.03L184.75 495.03L185.05 495.03L185.35 495.03L185.65 495.03L185.95 495.03L186.25 495.03L186.55 495.03L186.85 495.03L187.15 495.03L187.45 495.03L187.75 495.03L188.05 495.03L188.35 495.03L188.65 495.03L188.95 495.03L189.25 495.03L189.55 495.03L189.85 495.03L190.15 495.03L190.45 495.03L190.75 495.03L191.05 495.03L191.35 495.03L191.65 495.03L191.95 495.03L192.25 495.03L192.55 495.03L192.85 495.03L193.15 495.03L193.45 495.03L193.75 495.03L194.04 495.03L194.34 495.03L194.64 495.03L194.94 495.03L195.24 495.03L195.54 495.03L195.84 495.03L196.14 495.03L196.44 495.03L196.74 495.03L197.04 495.03L197.34 495.03L197.64 495.03L197.94 495.03L198.24 495.03L198.54 495.03L198.84 495.03L199.14 495.03L199.44 495.03L199.74 495.03L200.04 495.03L200.34 495.03L200.64 495.03L200.94 495.03L201.24 495.03L201.54 495.03L201.84 495.03L202.14 495.03L202.44 495.03L202.74 495.03L203.04 495.03L203.34 495.03L203.64 495.03L203.94 495.03L204.24 495.03L204.54 495.03L204.84 495.03L205.14 495.03L205.44 495.03L205.74 495.03L206.04 495.03L206.34 495.03L206.64 495.03L206.94 495.03L207.24 495.03L207.54 495.03L207.84 495.03L208.14 495.03L208.44 495.03L208.74 495.03L209.04 495.03L209.33 495.03L209.63 495.03L209.93 495.03L210.23 495.03L210.53 495.03L210.83 495.03L211.13 495.03L211.43 495.03L211.73 495.03L212.03 495.03L212.33 495.03L212.63 495.03L212.93 495.03L213.23 495.03L213.53 495.03L213.83 495.03L214.13 495.03L214.43 495.03L214.73 495.03L215.03 495.03L215.33 495.03L215.63 495.03L215.93 495.03L216.23 495.03L216.53 495.03L216.83 495.03L217.13 495.03L217.43 495.03L217.73 495.03L218.03 495.03L218.33 495.03L218.63 495.03L218.93 495.03L219.23 495.03L219.53 495.03L219.83 495.03L220.13 495.03L220.43 495.03L220.73 495.03L221.03 495.03L221.33 495.03L221.63 495.03L221.93 495.03L222.23 495.03L222.53 495.03L222.83 495.03L223.13 495.03L223.43 495.03L223.73 495.03L224.03 495.03L224.33 495.03L224.62 495.03L224.92 495.03L225.22 495.03L225.52 495.03L225.82 495.03L226.12 495.03L226.42 495.03L226.72 495.03L227.02 495.03L227.32 495.03L227.62 495.03L227.92 495.03L228.22 495.03L228.52 495.03L228.82 495.03L229.12 495.03L229.42 495.03L229.72 495.03L230.02 495.03L230.32 495.03L230.62 495.03L230.92 495.03L231.22 495.03L231.52 495.03L231.82 495.03L232.12 495.03L232.42 495.03L232.72 495.03L233.02 495.03L233.32 495.03L233.62 495.03L233.92 495.03L234.22 495.03L234.52 495.03L234.82 495.03L235.12 495.03L235.42 495.03L235.72 495.03L236.02 495.03L236.32 495.03L236.62 495.03L236.92 495.03L237.22 495.03L237.52 495.03L237.82 495.03L238.12 495.03L238.42 495.03L238.72 495.03L239.02 495.03L239.32 495.03L239.62 495.03L239.92 495.03L240.21 495.03L240.51 495.03L240.81 495.03L241.11 495.03L241.41 495.03L241.71 495.03L242.01 495.03L242.31 495.03L242.61 495.03L242.91 495.03L243.21 495.03L243.51 495.03L243.81 495.03L244.11 495.03L244.41 495.03L244.71 495.03L245.01 495.03L245.31 495.03L245.61 495.03L245.91 495.03L246.21 495.03L246.51 495.03L246.81 495.03L247.11 495.03L247.41 495.03L247.71 495.03L248.01 495.03L248.31 495.03L248.61 495.03L248.91 495.03L249.21 495.03L249.51 495.03L249.81 495.03L250.11 495.03L250.41 495.03L250.71 495.03L251.01 495.03L251.31 495.03L251.61 495.03L251.91 495.03L252.21 495.03L252.51 495.03L252.81 495.03L253.11 495.03L253.41 495.03L253.71 495.03L254.01 495.03L254.31 495.03L254.61 495.03L254.91 495.03L255.21 495.03L255.50 495.03L255.80 495.03L256.10 495.03L256.40 495.03L256.70 495.03L257.00 495.03L257.30 495.03L257.60 495.03L257.90 495.03L258.20 495.03L258.50 495.03L258.80 495.03L259.10 495.03L259.40 495.03L259.70 495.03L260.00 495.03L260.30 495.03L260.60 495.03L260.90 495.03L261.20 495.03L261.50 495.03L261.80 495.03L262.10 495.03L262.40 495.03L262.70 495.03L263.00 495.03L263.27 494.90L263.53 494.55L263.80 494.07L264.07 493.60L264.33 493.25L264.60 493.12L264.87 493.21L265.14 493.48L265.41 493.86L265.69 494.28L265.96 494.67L266.23 494.93L266.50 495.03L266.80 495.03L267.09 495.03L267.39 495.03L267.68 495.03L267.98 495.03L268.27 495.03L268.57 495.03L268.86 495.03L269.16 495.03L269.45 495.03L269.75 495.03L270.05 495.03L270.34 495.03L270.64 495.03L270.93 495.03L271.23 495.03L271.52 495.03L271.82 495.03L272.11 495.03L272.41 495.03L272.70 495.03L273.00 495.03L273.26 494.93L273.51 494.67L273.77 494.28L274.03 493.86L274.29 493.48L274.54 493.21L274.80 493.12L275.08 493.25L275.37 493.60L275.65 494.07L275.93 494.55L276.22 494.90L276.50 495.03L276.79 495.03L277.08 495.03L277.37 495.03L277.66 495.03L277.95 495.03L278.24 495.03L278.53 495.03L278.82 495.03L279.11 495.03L279.39 495.03L279.68 495.03L279.97 495.03L280.26 495.03L280.55 495.03L280.84 495.03L281.13 495.03L281.42 495.03L281.71 495.03L282.00 495.03L282.26 494.86L282.51 494.40L282.77 493.73L283.03 492.99L283.29 492.32L283.54 491.86L283.80 491.69L284.07 491.82L284.35 492.18L284.62 492.72L284.90 493.36L285.18 494.00L285.45 494.54L285.73 494.90L286.00 495.03L286.30 495.03L286.60 495.03L286.90 495.03L287.20 495.03L287.50 495.03L287.80 495.03L288.10 495.03L288.40 495.03L288.70 495.03L289.00 495.03L289.30 495.03L289.60 495.03L289.90 495.03L290.20 495.03L290.50 495.03L290.80 495.03L291.10 495.03L291.40 495.03L291.70 495.03L292.00 495.03L292.30 495.03L292.60 495.03L292.90 495.03L293.20 495.03L293.50 495.03L293.80 495.03L294.10 495.03L294.40 495.03L294.70 495.03L295.00 495.03L295.30 495.03L295.60 495.03L295.90 495.03L296.20 495.03L296.50 495.03L296.80 495.03L297.10 495.03L297.40 495.03L297.70 495.03L298.00 495.03L298.26 494.74L298.51 493.95L298.77 492.80L299.03 491.53L299.29 490.39L299.54 489.59L299.80 489.31L300.10 489.41L300.40 489.70L300.70 490.14L301.00 490.69L301.30 491.27L301.60 491.81L301.90 492.25L302.20 492.54L302.50 492.64L302.78 492.63L303.06 492.59L303.33 492.53L303.61 492.45L303.89 492.36L304.17 492.29L304.44 492.22L304.72 492.18L305.00 492.17L305.28 492.25L305.56 492.50L305.83 492.88L306.11 493.35L306.39 493.84L306.67 494.31L306.94 494.69L307.22 494.94L307.50 495.03L307.79 495.03L308.08 495.03L308.38 495.03L308.67 495.03L308.96 495.03L309.25 495.03L309.54 495.03L309.83 495.03L310.12 495.03L310.42 495.03L310.71 495.03L311.00 495.03L311.29 494.86L311.57 494.40L311.86 493.73L312.14 492.99L312.43 492.32L312.71 491.86L313.00 491.69L313.28 491.79L313.56 492.08L313.83 492.53L314.11 493.07L314.39 493.65L314.67 494.19L314.94 494.64L315.22 494.92L315.50 495.03L315.80 495.03L316.10 495.03L316.39 495.03L316.69 495.03L316.99 495.03L317.29 495.03L317.59 495.03L317.89 495.03L318.18 495.03L318.48 495.03L318.78 495.03L319.08 495.03L319.38 495.03L319.67 495.03L319.97 495.03L320.27 495.03L320.57 495.03L320.87 495.03L321.17 495.03L321.46 495.03L321.76 495.03L322.06 495.03L322.36 495.03L322.66 495.03L322.95 495.03L323.25 495.03L323.55 495.03L323.85 495.03L324.15 495.03L324.44 495.03L324.74 495.03L325.04 495.03L325.34 495.03L325.64 495.03L325.94 495.03L326.23 495.03L326.53 495.03L326.83 495.03L327.13 495.03L327.43 495.03L327.72 495.03L328.02 495.03L328.32 495.03L328.62 495.03L328.92 495.03L329.22 495.03L329.51 495.03L329.81 495.03L330.11 495.03L330.41 495.03L330.71 495.03L331.00 495.03L331.30 495.03L331.60 495.03L331.90 495.03L332.20 495.03L332.50 495.03L332.79 495.03L333.09 495.03L333.39 495.03L333.69 495.03L333.99 495.03L334.28 495.03L334.58 495.03L334.88 495.03L335.18 495.03L335.48 495.03L335.78 495.03L336.07 495.03L336.37 495.03L336.67 495.03L336.97 495.03L337.27 495.03L337.56 495.03L337.86 495.03L338.16 495.03L338.46 495.03L338.76 495.03L339.06 495.03L339.35 495.03L339.65 495.03L339.95 495.03L340.25 495.03L340.55 495.03L340.84 495.03L341.14 495.03L341.44 495.03L341.74 495.03L342.04 495.03L342.33 495.03L342.63 495.03L342.93 495.03L343.23 495.03L343.53 495.03L343.83 495.03L344.12 495.03L344.42 495.03L344.72 495.03L345.02 495.03L345.32 495.03L345.61 495.03L345.91 495.03L346.21 495.03L346.51 495.03L346.81 495.03L347.11 495.03L347.40 495.03L347.70 495.03L348.00 495.03L348.30 491.45L348.60 485.89L348.90 477.64L349.20 465.96L349.50 450.22L349.80 430.06L350.10 405.58L350.40 377.54L350.70 347.40L351.00 317.30L351.30 289.84L351.60 267.74L351.90 253.37L352.20 248.39L352.49 259.55L352.78 289.94L353.07 331.75L353.36 375.64L353.64 414.07L353.93 443.13L354.22 462.43L354.51 473.81L354.80 479.79L355.10 475.05L355.40 466.49L355.70 452.41L356.00 431.37L356.30 402.95L356.60 368.63L356.90 332.18L357.20 299.28L357.50 276.22L357.80 267.91L358.08 274.92L358.37 294.83L358.65 324.60L358.93 360.02L359.22 396.69L359.50 430.87L359.78 460.05L360.07 483.08L360.35 500.01L360.63 511.62L360.92 519.09L361.20 523.59L361.48 522.47L361.76 519.36L362.04 514.93L362.32 510.01L362.60 505.39L362.88 501.55L363.16 498.72L363.44 496.82L363.72 495.66L364.00 495.03L364.30 495.03L364.59 495.03L364.89 495.03L365.19 495.03L365.48 495.03L365.78 495.03L366.08 495.03L366.37 495.03L366.67 495.03L366.97 495.03L367.26 495.03L367.56 495.03L367.86 495.03L368.15 495.03L368.45 495.03L368.74 495.03L369.04 495.03L369.34 495.03L369.63 495.03L369.93 495.03L370.23 495.03L370.52 495.03L370.82 495.03L371.12 495.03L371.41 495.03L371.71 495.03L372.01 495.03L372.30 495.03L372.60 495.03L372.90 490.52L373.20 483.99L373.50 474.83L373.80 462.37L374.10 445.96L374.40 425.08L374.70 399.40L375.00 368.94L375.30 334.18L375.60 296.08L375.90 256.18L376.20 216.47L376.50 179.26L376.80 147.02L377.10 122.03L377.40 106.21L377.70 100.79L377.98 109.51L378.26 134.63L378.54 173.29L378.81 221.32L379.09 273.96L379.37 326.67L379.65 375.72L379.93 418.53L380.21 453.80L380.49 481.33L380.76 501.76L381.04 516.19L381.32 525.91L381.60 532.16L381.89 530.95L382.18 527.56L382.47 522.58L382.76 516.84L383.05 511.13L383.35 506.08L383.64 502.02L383.93 499.04L384.22 497.02L384.51 495.76L384.80 495.03L385.10 495.03L385.40 495.03L385.70 495.03L386.00 495.03L386.30 495.03L386.59 495.03L386.89 495.03L387.19 495.03L387.49 495.03L387.79 495.03L388.09 495.03L388.39 495.03L388.69 495.03L388.99 495.03L389.29 495.03L389.59 495.03L389.89 495.03L390.18 495.03L390.48 495.03L390.78 495.03L391.08 495.03L391.38 495.03L391.68 495.03L391.98 495.03L392.28 495.03L392.58 495.03L392.88 495.03L393.18 495.03L393.47 495.03L393.77 495.03L394.07 495.03L394.37 495.03L394.67 495.03L394.97 495.03L395.27 495.03L395.57 495.03L395.87 495.03L396.17 495.03L396.47 495.03L396.77 495.03L397.06 495.03L397.36 495.03L397.66 495.03L397.96 495.03L398.26 495.03L398.56 495.03L398.86 495.03L399.16 495.03L399.46 495.03L399.76 495.03L400.06 495.03L400.35 495.03L400.65 495.03L400.95 495.03L401.25 495.03L401.55 495.03L401.85 495.03L402.15 495.03L402.45 495.03L402.75 495.03L403.05 495.03L403.35 495.03L403.65 495.03L403.94 495.03L404.24 495.03L404.54 495.03L404.84 495.03L405.14 495.03L405.44 495.03L405.74 495.03L406.04 495.03L406.34 495.03L406.64 495.03L406.94 495.03L407.23 495.03L407.53 495.03L407.83 495.03L408.13 495.03L408.43 495.03L408.73 495.03L409.03 495.03L409.33 495.03L409.63 495.03L409.93 495.03L410.23 495.03L410.53 495.03L410.82 495.03L411.12 495.03L411.42 495.03L411.72 495.03L412.02 495.03L412.32 495.03L412.62 495.03L412.92 495.03L413.22 495.03L413.52 495.03L413.82 495.03L414.11 495.03L414.41 495.03L414.71 495.03L415.01 495.03L415.31 495.03L415.61 495.03L415.91 495.03L416.21 495.03L416.51 495.03L416.81 495.03L417.11 495.03L417.41 495.03L417.70 495.03L418.00 495.03L418.30 495.03L418.60 495.03L418.90 495.03L419.20 495.03L419.50 495.03L419.80 495.03L420.10 495.03L420.40 495.03L420.70 495.03L420.99 495.03L421.29 495.03L421.59 495.03L421.89 495.03L422.19 495.03L422.49 495.03L422.79 495.03L423.09 495.03L423.39 495.03L423.69 495.03L423.99 495.03L424.29 495.03L424.58 495.03L424.88 495.03L425.18 495.03L425.48 495.03L425.78 495.03L426.08 495.03L426.38 495.03L426.68 495.03L426.98 495.03L427.28 495.03L427.58 495.03L427.87 495.03L428.17 495.03L428.47 495.03L428.77 495.03L429.07 495.03L429.37 495.03L429.67 495.03L429.97 495.03L430.27 495.03L430.57 495.03L430.87 495.03L431.17 495.03L431.46 495.03L431.76 495.03L432.06 495.03L432.36 495.03L432.66 495.03L432.96 495.03L433.26 495.03L433.56 495.03L433.86 495.03L434.16 495.03L434.46 495.03L434.75 495.03L435.05 495.03L435.35 495.03L435.65 495.03L435.95 495.03L436.25 495.03L436.55 495.03L436.85 495.03L437.15 495.03L437.45 495.03L437.75 495.03L438.05 495.03L438.34 495.03L438.64 495.03L438.94 495.03L439.24 495.03L439.54 495.03L439.84 495.03L440.14 495.03L440.44 495.03L440.74 495.03L441.04 495.03L441.34 495.03L441.63 495.03L441.93 495.03L442.23 495.03L442.53 495.03L442.83 495.03L443.13 495.03L443.43 495.03L443.73 495.03L444.03 495.03L444.33 495.03L444.63 495.03L444.93 495.03L445.22 495.03L445.52 495.03L445.82 495.03L446.12 495.03L446.42 495.03L446.72 495.03L447.02 495.03L447.32 495.03L447.62 495.03L447.92 495.03L448.22 495.03L448.51 495.03L448.81 495.03L449.11 495.03L449.41 495.03L449.71 495.03L450.01 495.03L450.31 495.03L450.61 495.03L450.91 495.03L451.21 495.03L451.51 495.03L451.81 495.03L452.10 495.03L452.40 495.03L452.70 495.03L453.00 495.03L453.30 495.03L453.60 495.03L453.89 494.85L454.18 494.34L454.48 493.53L454.77 492.45L455.06 491.18L455.35 489.79L455.65 488.36L455.94 486.96L456.23 485.69L456.52 484.62L456.82 483.80L457.11 483.29L457.40 483.12L457.67 483.39L457.93 484.18L458.20 485.38L458.47 486.86L458.73 488.43L459.00 489.91L459.27 491.11L459.53 491.90L459.80 492.17L460.09 492.10L460.38 491.90L460.67 491.59L460.96 491.19L461.25 490.74L461.55 490.26L461.84 489.81L462.13 489.41L462.42 489.10L462.71 488.90L463.00 488.84L463.29 488.79L463.58 488.64L463.88 488.42L464.17 488.12L464.46 487.78L464.75 487.41L465.04 487.04L465.33 486.69L465.62 486.40L465.92 486.17L466.21 486.03L466.50 485.98L466.80 486.12L467.10 486.47L467.40 486.91L467.70 487.27L468.00 487.41L468.26 487.12L468.51 486.33L468.77 485.19L469.03 483.91L469.29 482.77L469.54 481.98L469.80 481.69L470.10 481.78L470.40 482.03L470.70 482.41L471.00 482.87L471.30 483.37L471.60 483.84L471.90 484.22L472.20 484.46L472.50 484.55L472.80 484.44L473.10 484.10L473.40 483.60L473.70 482.98L474.00 482.32L474.30 481.69L474.60 481.19L474.90 480.86L475.20 480.74L475.48 480.80L475.76 480.97L476.04 481.23L476.32 481.56L476.60 481.93L476.88 482.30L477.16 482.63L477.44 482.89L477.72 483.06L478.00 483.12L478.28 483.05L478.56 482.84L478.83 482.53L479.11 482.14L479.39 481.72L479.67 481.34L479.94 481.02L480.22 480.81L480.50 480.74L480.78 480.70L481.06 480.57L481.33 480.38L481.61 480.15L481.89 479.90L482.17 479.67L482.44 479.48L482.72 479.36L483.00 479.31L483.28 479.41L483.56 479.70L483.83 480.15L484.11 480.69L484.39 481.27L484.67 481.81L484.94 482.26L485.22 482.55L485.50 482.65L485.79 482.52L486.07 482.16L486.36 481.62L486.65 480.98L486.94 480.34L487.23 479.80L487.51 479.44L487.80 479.31L488.08 479.60L488.37 480.38L488.65 481.46L488.93 482.53L489.22 483.31L489.50 483.60L489.76 483.37L490.02 482.78L490.28 482.04L490.54 481.44L490.80 481.22L491.10 481.51L491.40 482.35L491.70 483.67L492.00 485.33L492.30 487.17L492.60 489.01L492.90 490.67L493.20 491.98L493.50 492.83L493.80 493.12L494.07 493.05L494.35 492.84L494.62 492.53L494.90 492.17L495.18 491.80L495.45 491.49L495.73 491.29L496.00 491.22L496.28 490.94L496.56 490.23L496.84 489.35L497.12 488.63L497.40 488.36L497.66 488.49L497.92 488.85L498.19 489.39L498.45 490.03L498.71 490.66L498.98 491.20L499.24 491.57L499.50 491.69L499.80 491.53L500.10 491.08L500.40 490.38L500.70 489.53L501.00 488.62L501.30 487.76L501.60 487.07L501.90 486.61L502.20 486.45L502.46 486.55L502.72 486.78L502.98 487.08L503.24 487.32L503.50 487.41L503.79 487.17L504.07 486.50L504.36 485.50L504.65 484.31L504.94 483.13L505.23 482.12L505.51 481.45L505.80 481.22L506.10 481.43L506.40 482.05L506.70 483.00L507.00 484.17L507.30 485.41L507.60 486.57L507.90 487.52L508.20 488.14L508.50 488.36L508.76 488.52L509.02 488.99L509.29 489.68L509.55 490.50L509.81 491.32L510.08 492.02L510.34 492.48L510.60 492.64L510.90 492.46L511.20 491.95L511.50 491.17L511.80 490.26L512.10 489.35L512.40 488.58L512.70 488.06L513.00 487.88L513.28 488.04L513.56 488.50L513.83 489.19L514.11 490.05L514.39 490.96L514.67 491.81L514.94 492.51L515.22 492.96L515.50 493.12L515.79 493.14L516.07 493.21L516.36 493.31L516.64 493.41L516.93 493.51L517.21 493.57L517.50 493.60L517.77 493.50L518.04 493.24L518.31 492.86L518.59 492.43L518.86 492.05L519.13 491.79L519.40 491.69L519.66 491.78L519.92 492.04L520.19 492.43L520.45 492.88L520.71 493.34L520.98 493.72L521.24 493.98L521.50 494.07L521.80 494.07L522.10 494.05L522.40 494.03L522.70 493.99L523.00 493.95L523.30 493.91L523.60 493.86L523.90 493.81L524.20 493.76L524.50 493.72L524.80 493.68L525.10 493.64L525.40 493.62L525.70 493.60L526.00 493.60L526.29 493.59L526.57 493.57L526.86 493.54L527.14 493.51L527.43 493.46L527.71 493.41L528.00 493.36L528.29 493.31L528.57 493.26L528.86 493.21L529.14 493.17L529.43 493.14L529.71 493.13L530.00 493.12L530.28 493.16L530.56 493.26L530.84 493.41L531.12 493.61L531.40 493.83L531.68 494.06L531.96 494.25L532.24 494.41L532.52 494.51L532.80 494.55L533.08 494.64L533.37 494.91L533.65 495.26L533.93 495.62L534.22 495.88L534.50 495.98L534.77 495.93L535.04 495.80L535.31 495.61L535.59 495.40L535.86 495.20L536.13 495.07L536.40 495.03L536.70 495.03L537.00 495.03L537.30 495.03L537.60 495.03L537.90 495.03L538.19 495.03L538.49 495.03L538.79 495.03L539.09 495.03L539.39 495.03L539.69 495.03L539.99 495.03L540.29 495.03L540.59 495.03L540.89 495.03L541.18 495.03L541.48 495.03L541.78 495.03L542.08 495.03L542.38 495.03L542.68 495.03L542.98 495.03L543.28 495.03L543.58 495.03L543.88 495.03L544.17 495.03L544.47 495.03L544.77 495.03L545.07 495.03L545.37 495.03L545.67 495.03L545.97 495.03L546.27 495.03L546.57 495.03L546.87 495.03L547.16 495.03L547.46 495.03L547.76 495.03L548.06 495.03L548.36 495.03L548.66 495.03L548.96 495.03L549.26 495.03L549.56 495.03L549.86 495.03L550.16 495.03L550.45 495.03L550.75 495.03L551.05 495.03L551.35 495.03L551.65 495.03L551.95 495.03L552.25 495.03L552.55 495.03L552.85 495.03L553.15 495.03L553.44 495.03L553.74 495.03L554.04 495.03L554.34 495.03L554.64 495.03L554.94 495.03L555.24 495.03L555.54 495.03L555.84 495.03L556.14 495.03L556.43 495.03L556.73 495.03L557.03 495.03L557.33 495.03L557.63 495.03L557.93 495.03L558.23 495.03L558.53 495.03L558.83 495.03L559.13 495.03L559.42 495.03L559.72 495.03L560.02 495.03L560.32 495.03L560.62 495.03L560.92 495.03L561.22 495.03L561.52 495.03L561.82 495.03L562.12 495.03L562.42 495.03L562.71 495.03L563.01 495.03L563.31 495.03L563.61 495.03L563.91 495.03L564.21 495.03L564.51 495.03L564.81 495.03L565.11 495.03L565.41 495.03L565.70 495.03L566.00 495.03L566.30 495.03L566.60 495.03L566.90 495.03L567.20 495.03L567.50 495.03L567.80 495.03L568.10 495.03L568.40 495.03L568.69 495.03L568.99 495.03L569.29 495.03L569.59 495.03L569.89 495.03L570.19 495.03L570.49 495.03L570.79 495.03L571.09 495.03L571.39 495.03L571.69 495.03L571.98 495.03L572.28 495.03L572.58 495.03L572.88 495.03L573.18 495.03L573.48 495.03L573.78 495.03L574.08 495.03L574.38 495.03L574.68 495.03L574.97 495.03L575.27 495.03L575.57 495.03L575.87 495.03L576.17 495.03L576.47 495.03L576.77 495.03L577.07 495.03L577.37 495.03L577.67 495.03L577.96 495.03L578.26 495.03L578.56 495.03L578.86 495.03L579.16 495.03L579.46 495.03L579.76 495.03L580.06 495.03L580.36 495.03L580.66 495.03L580.95 495.03L581.25 495.03L581.55 495.03L581.85 495.03L582.15 495.03L582.45 495.03L582.75 495.03L583.05 495.03L583.35 495.03L583.65 495.03L583.95 495.03L584.24 495.03L584.54 495.03L584.84 495.03L585.14 495.03L585.44 495.03L585.74 495.03L586.04 495.03L586.34 495.03L586.64 495.03L586.94 495.03L587.23 495.03L587.53 495.03L587.83 495.03L588.13 495.03L588.43 495.03L588.73 495.03L589.03 495.03L589.33 495.03L589.63 495.03L589.93 495.03L590.22 495.03L590.52 495.03L590.82 495.03L591.12 495.03L591.42 495.03L591.72 495.03L592.02 495.03L592.32 495.03L592.62 495.03L592.92 495.03L593.21 495.03L593.51 495.03L593.81 495.03L594.11 495.03L594.41 495.03L594.71 495.03L595.01 495.03L595.31 495.03L595.61 495.03L595.91 495.03L596.21 495.03L596.50 495.03L596.80 495.03L597.10 495.03L597.40 495.03L597.70 495.03L598.00 495.03L598.30 495.03L598.60 495.03L598.90 495.03L599.20 495.03L599.49 495.03L599.79 495.03L600.09 495.03L600.39 495.03L600.69 495.03L600.99 495.03L601.29 495.03L601.59 495.03L601.89 495.03L602.19 495.03L602.48 495.03L602.78 495.03L603.08 495.03L603.38 495.03L603.68 495.03L603.98 495.03L604.28 495.03L604.58 495.03L604.88 495.03L605.18 495.03L605.48 495.03L605.77 495.03L606.07 495.03L606.37 495.03L606.67 495.03L606.97 495.03L607.27 495.03L607.57 495.03L607.87 495.03L608.17 495.03L608.47 495.03L608.76 495.03L609.06 495.03L609.36 495.03L609.66 495.03L609.96 495.03L610.26 495.03L610.56 495.03L610.86 495.03L611.16 495.03L611.46 495.03L611.75 495.03L612.05 495.03L612.35 495.03L612.65 495.03L612.95 495.03L613.25 495.03L613.55 495.03L613.85 495.03L614.15 495.03L614.45 495.03L614.74 495.03L615.04 495.03L615.34 495.03L615.64 495.03L615.94 495.03L616.24 495.03L616.54 495.03L616.84 495.03L617.14 495.03L617.44 495.03L617.74 495.03L618.03 495.03L618.33 495.03L618.63 495.03L618.93 495.03L619.23 495.03L619.53 495.03L619.83 495.03L620.13 495.03L620.43 495.03L620.73 495.03L621.02 495.03L621.32 495.03L621.62 495.03L621.92 495.03L622.22 495.03L622.52 495.03L622.82 495.03L623.12 495.03L623.42 495.03L623.72 495.03L624.01 495.03L624.31 495.03L624.61 495.03L624.91 495.03L625.21 495.03L625.51 495.03L625.81 495.03L626.11 495.03L626.41 495.03L626.71 495.03L627.00 495.03L627.30 495.03L627.60 495.03L627.90 495.03L628.20 495.03L628.50 495.03L628.80 494.61L629.10 493.90L629.40 492.76L629.70 491.08L630.00 488.79L630.30 485.94L630.60 482.72L630.90 479.48L631.20 476.67L631.50 474.76L631.80 474.08L632.07 474.15L632.34 474.34L632.61 474.63L632.89 474.95L633.16 475.23L633.43 475.43L633.70 475.50L633.99 475.34L634.28 474.88L634.56 474.18L634.85 473.36L635.14 472.54L635.42 471.85L635.71 471.38L636.00 471.22L636.30 471.40L636.60 471.88L636.90 472.47L637.20 472.94L637.50 473.12L637.80 472.94L638.10 472.40L638.40 471.55L638.70 470.49L639.00 469.31L639.30 468.14L639.60 467.08L639.90 466.23L640.20 465.69L640.50 465.51L640.80 465.83L641.10 466.78L641.40 468.25L641.70 470.11L642.00 472.17L642.30 474.23L642.60 476.09L642.90 477.56L643.20 478.51L643.50 478.84L643.80 478.68L644.10 478.20L644.40 477.43L644.70 476.39L645.00 475.15L645.30 473.74L645.60 472.23L645.90 470.69L646.20 469.18L646.50 467.77L646.80 466.52L647.10 465.49L647.40 464.71L647.70 464.24L648.00 464.08L648.30 464.61L648.60 466.14L648.90 468.45L649.20 471.22L649.50 474.13L649.80 476.88L650.10 479.25L650.40 481.05L650.70 482.20L651.00 482.65L651.28 482.58L651.57 482.37L651.85 482.05L652.14 481.62L652.42 481.11L652.71 480.55L652.99 479.98L653.28 479.42L653.56 478.91L653.85 478.48L654.13 478.16L654.42 477.95L654.70 477.88L655.00 477.73L655.30 477.29L655.60 476.57L655.90 475.60L656.20 474.43L656.50 473.11L656.80 471.70L657.10 470.26L657.40 468.85L657.70 467.53L658.00 466.36L658.30 465.40L658.60 464.67L658.90 464.23L659.20 464.08L659.50 464.16L659.80 464.40L660.10 464.76L660.40 465.23L660.70 465.74L661.00 466.26L661.30 466.72L661.60 467.09L661.90 467.33L662.20 467.41L662.49 467.30L662.78 466.99L663.06 466.53L663.35 465.98L663.64 465.43L663.92 464.97L664.21 464.66L664.50 464.55L664.77 464.68L665.05 465.04L665.33 465.58L665.60 466.22L665.88 466.86L666.15 467.40L666.43 467.76L666.70 467.89L666.99 468.01L667.29 468.37L667.58 468.96L667.88 469.76L668.17 470.73L668.47 471.84L668.76 473.04L669.06 474.31L669.35 475.59L669.64 476.85L669.94 478.06L670.23 479.17L670.53 480.17L670.82 481.02L671.12 481.70L671.41 482.21L671.71 482.53L672.00 482.65L672.30 482.68L672.60 482.76L672.90 482.91L673.20 483.10L673.50 483.34L673.80 483.63L674.10 483.95L674.40 484.29L674.70 484.65L675.00 485.03L675.30 485.40L675.60 485.76L675.90 486.11L676.20 486.43L676.50 486.71L676.80 486.95L677.10 487.15L677.40 487.29L677.70 487.38L678.00 487.41L678.30 487.40L678.60 487.36L678.90 487.30L679.20 487.23L679.50 487.13L679.80 487.01L680.10 486.89L680.40 486.75L680.70 486.60L681.00 486.45L681.30 486.31L681.60 486.16L681.90 486.02L682.20 485.90L682.50 485.78L682.80 485.68L683.10 485.61L683.40 485.55L683.70 485.51L684.00 485.50L684.30 485.52L684.60 485.55L684.90 485.62L685.20 485.71L685.50 485.82L685.80 485.96L686.10 486.11L686.40 486.29L686.70 486.48L687.00 486.69L687.30 486.91L687.60 487.15L687.90 487.39L688.20 487.63L688.50 487.88L688.80 488.13L689.10 488.38L689.40 488.62L689.70 488.85L690.00 489.07L690.30 489.28L690.60 489.48L690.90 489.65L691.20 489.81L691.50 489.94L691.80 490.06L692.10 490.15L692.40 490.21L692.70 490.25L693.00 490.26L693.30 490.28L693.60 490.31L693.90 490.37L694.20 490.45L694.50 490.55L694.80 490.67L695.10 490.81L695.40 490.97L695.70 491.15L696.00 491.34L696.30 491.53L696.60 491.74L696.90 491.96L697.20 492.18L697.50 492.41L697.80 492.63L698.10 492.85L698.40 493.07L698.70 493.28L699.00 493.48L699.30 493.67L699.60 493.84L699.90 494.00L700.20 494.14L700.50 494.26L700.80 494.36L701.10 494.44L701.40 494.50L701.70 494.54L702.00 494.55L702.30 494.55L702.60 494.55L702.90 494.54L703.20 494.53L703.50 494.53L703.80 494.52L704.10 494.50L704.40 494.49L704.70 494.48L705.00 494.46L705.30 494.44L705.60 494.42L705.90 494.40L706.20 494.38L706.50 494.36L706.80 494.34L707.10 494.32L707.40 494.30L707.70 494.28L708.00 494.26L708.30 494.24L708.60 494.22L708.90 494.20L709.20 494.18L709.50 494.16L709.80 494.15L710.10 494.13L710.40 494.12L710.70 494.11L711.00 494.10L711.30 494.09L711.60 494.08L711.90 494.08L712.20 494.07L712.50 494.07L712.80 494.07L713.10 494.05L713.40 494.02L713.70 493.98L714.00 493.93L714.30 493.88L714.60 493.81L714.90 493.74L715.20 493.67L715.50 493.60L715.80 493.52L716.10 493.45L716.40 493.38L716.70 493.32L717.00 493.26L717.30 493.21L717.60 493.17L717.90 493.14L718.20 493.13L718.50 493.12L718.80 493.11L719.10 493.08L719.40 493.02L719.70 492.96L720.00 492.88L720.30 492.81L720.60 492.74L720.90 492.69L721.20 492.66L721.50 492.64L721.80 492.54L722.10 492.24L722.40 491.76L722.70 491.16L723.00 490.50L723.30 489.84L723.60 489.24L723.90 488.77L724.20 488.46L724.50 488.36L724.80 488.46L725.10 488.77L725.40 489.24L725.70 489.84L726.00 490.50L726.30 491.16L726.60 491.76L726.90 492.24L727.20 492.54L727.50 492.64L727.80 492.37L728.10 491.99L728.40 491.49L728.70 490.82L729.00 489.97L729.30 488.89L729.60 487.58L729.90 486.01L730.20 484.18L730.50 482.11L730.80 479.84L731.10 477.41L731.40 474.90L731.70 472.41L732.00 470.04L732.30 467.90L732.60 466.10L732.90 464.74L733.20 463.89L733.50 463.60L733.79 463.99L734.08 465.12L734.37 466.91L734.66 469.24L734.94 471.97L735.23 474.92L735.52 477.94L735.81 480.88L736.10 483.63L736.39 486.10L736.68 488.24L736.97 490.05L737.26 491.51L737.54 492.67L737.83 493.55L738.12 494.21L738.41 494.69L738.70 495.03L738.97 495.26L739.23 495.74L739.50 495.98L739.78 495.95L740.06 495.87L740.33 495.74L740.61 495.58L740.89 495.42L741.17 495.26L741.44 495.14L741.72 495.05L742.00 495.03" fill="none" stroke="#288e3c" stroke-width="1.7" stroke-linejoin="round" stroke-linecap="butt"/>
<path d="M67.20 495.03L67.50 495.03L67.80 495.03L68.10 495.03L68.40 495.03L68.70 495.03L68.99 495.03L69.29 495.03L69.59 495.03L69.89 495.03L70.19 495.03L70.49 495.03L70.79 495.03L71.09 495.03L71.39 495.03L71.69 495.03L71.99 495.03L72.28 495.03L72.58 495.03L72.88 495.03L73.18 495.03L73.48 495.03L73.78 495.03L74.08 495.03L74.38 495.03L74.68 495.03L74.98 495.03L75.28 495.03L75.57 495.03L75.87 495.03L76.17 495.03L76.47 495.03L76.77 495.03L77.07 495.03L77.37 495.03L77.67 495.03L77.97 495.03L78.27 495.03L78.56 495.03L78.86 495.03L79.16 495.03L79.46 495.03L79.76 495.03L80.06 495.03L80.36 495.03L80.66 495.03L80.96 495.03L81.26 495.03L81.56 495.03L81.85 495.03L82.15 495.03L82.45 495.03L82.75 495.03L83.05 495.03L83.35 495.03L83.65 495.03L83.95 495.03L84.25 495.03L84.55 495.03L84.85 495.03L85.14 495.03L85.44 495.03L85.74 495.03L86.04 495.03L86.34 495.03L86.64 495.03L86.94 495.03L87.24 495.03L87.54 495.03L87.84 495.03L88.14 495.03L88.43 495.03L88.73 495.03L89.03 495.03L89.33 495.03L89.63 495.03L89.93 495.03L90.23 495.03L90.53 495.03L90.83 495.03L91.13 495.03L91.42 495.03L91.72 495.03L92.02 495.03L92.32 495.03L92.62 495.03L92.92 495.03L93.22 495.03L93.52 495.03L93.82 495.03L94.12 495.03L94.42 495.03L94.71 495.03L95.01 495.03L95.31 495.03L95.61 495.03L95.91 495.03L96.21 495.03L96.51 495.03L96.81 495.03L97.11 495.03L97.41 495.03L97.71 495.03L98.00 495.03L98.30 495.03L98.60 495.03L98.90 495.03L99.20 495.03L99.50 495.03L99.77 494.84L100.04 494.31L100.31 493.54L100.59 492.70L100.86 491.93L101.13 491.40L101.40 491.22L101.70 491.40L102.00 491.93L102.30 492.70L102.60 493.54L102.90 494.31L103.20 494.84L103.50 495.03L103.80 495.02L104.10 495.02L104.40 495.02L104.70 495.02L105.00 495.02L105.30 495.01L105.60 495.01L105.90 495.00L106.20 494.99L106.50 494.99L106.80 494.98L107.10 494.97L107.40 494.96L107.70 494.95L108.00 494.94L108.30 494.93L108.60 494.92L108.90 494.91L109.20 494.90L109.50 494.89L109.80 494.87L110.10 494.86L110.40 494.85L110.70 494.83L111.00 494.82L111.30 494.81L111.60 494.79L111.90 494.78L112.20 494.77L112.50 494.75L112.80 494.74L113.10 494.73L113.40 494.71L113.70 494.70L114.00 494.69L114.30 494.68L114.60 494.66L114.90 494.65L115.20 494.64L115.50 494.63L115.80 494.62L116.10 494.61L116.40 494.60L116.70 494.59L117.00 494.59L117.30 494.58L117.60 494.57L117.90 494.57L118.20 494.56L118.50 494.56L118.80 494.56L119.10 494.55L119.40 494.55L119.70 494.55L120.00 494.55L120.29 494.54L120.59 494.53L120.88 494.50L121.17 494.46L121.47 494.41L121.76 494.35L122.05 494.29L122.34 494.21L122.64 494.13L122.93 494.04L123.22 493.95L123.52 493.85L123.81 493.75L124.10 493.65L124.40 493.55L124.69 493.44L124.98 493.34L125.28 493.24L125.57 493.15L125.86 493.06L126.16 492.98L126.45 492.91L126.74 492.84L127.03 492.78L127.33 492.73L127.62 492.69L127.91 492.67L128.21 492.65L128.50 492.64L128.78 492.69L129.06 492.81L129.33 493.00L129.61 493.23L129.89 493.48L130.17 493.72L130.44 493.91L130.72 494.03L131.00 494.07L131.29 494.05L131.58 493.98L131.88 493.86L132.17 493.72L132.46 493.54L132.75 493.36L133.04 493.17L133.33 493.00L133.62 492.85L133.92 492.74L134.21 492.67L134.50 492.64L134.78 492.70L135.06 492.87L135.33 493.12L135.61 493.43L135.89 493.76L136.17 494.07L136.44 494.33L136.72 494.49L137.00 494.55L137.29 494.54L137.58 494.53L137.88 494.51L138.17 494.49L138.46 494.45L138.75 494.41L139.04 494.36L139.33 494.31L139.62 494.25L139.92 494.20L140.21 494.13L140.50 494.07L140.79 494.01L141.08 493.95L141.38 493.89L141.67 493.83L141.96 493.78L142.25 493.74L142.54 493.70L142.83 493.66L143.12 493.63L143.42 493.61L143.71 493.60L144.00 493.60L144.29 493.61L144.57 493.64L144.86 493.70L145.14 493.78L145.43 493.87L145.71 493.97L146.00 494.07L146.29 494.18L146.57 494.28L146.86 494.37L147.14 494.44L147.43 494.50L147.71 494.54L148.00 494.55L148.29 494.52L148.58 494.44L148.88 494.31L149.17 494.14L149.46 493.93L149.75 493.71L150.05 493.48L150.34 493.26L150.63 493.06L150.92 492.88L151.22 492.75L151.51 492.67L151.80 492.64L152.09 492.69L152.38 492.83L152.67 493.06L152.96 493.34L153.25 493.67L153.55 494.00L153.84 494.33L154.13 494.61L154.42 494.84L154.71 494.98L155.00 495.03L155.30 495.03L155.60 495.03L155.90 495.03L156.20 495.03L156.50 495.03L156.80 495.03L157.10 495.03L157.40 495.03L157.69 495.03L157.99 495.03L158.29 495.03L158.59 495.03L158.89 495.03L159.19 495.03L159.49 495.03L159.79 495.03L160.09 495.03L160.39 495.03L160.69 495.03L160.99 495.03L161.29 495.03L161.59 495.03L161.89 495.03L162.19 495.03L162.49 495.03L162.79 495.03L163.08 495.03L163.38 495.03L163.68 495.03L163.98 495.03L164.28 495.03L164.58 495.03L164.88 495.03L165.18 495.03L165.48 495.03L165.78 495.03L166.08 495.03L166.38 495.03L166.68 495.03L166.98 495.03L167.28 495.03L167.58 495.03L167.88 495.03L168.18 495.03L168.47 495.03L168.77 495.03L169.07 495.03L169.37 495.03L169.67 495.03L169.97 495.03L170.27 495.03L170.57 495.03L170.87 495.03L171.17 495.03L171.47 495.03L171.77 495.03L172.07 495.03L172.37 495.03L172.67 495.03L172.97 495.03L173.27 495.03L173.56 495.03L173.86 495.03L174.16 495.03L174.46 495.03L174.76 495.03L175.06 495.03L175.36 495.03L175.66 495.03L175.96 495.03L176.26 495.03L176.56 495.03L176.86 495.03L177.16 495.03L177.46 495.03L177.76 495.03L178.06 495.03L178.36 495.03L178.66 495.03L178.95 495.03L179.25 495.03L179.55 495.03L179.85 495.03L180.15 495.03L180.45 495.03L180.75 495.03L181.05 495.03L181.35 495.03L181.65 495.03L181.95 495.03L182.25 495.03L182.55 495.03L182.85 495.03L183.15 495.03L183.45 495.03L183.75 495.03L184.05 495.03L184.34 495.03L184.64 495.03L184.94 495.03L185.24 495.03L185.54 495.03L185.84 495.03L186.14 495.03L186.44 495.03L186.74 495.03L187.04 495.03L187.34 495.03L187.64 495.03L187.94 495.03L188.24 495.03L188.54 495.03L188.84 495.03L189.14 495.03L189.44 495.03L189.73 495.03L190.03 495.03L190.33 495.03L190.63 495.03L190.93 495.03L191.23 495.03L191.53 495.03L191.83 495.03L192.13 495.03L192.43 495.03L192.73 495.03L193.03 495.03L193.33 495.03L193.63 495.03L193.93 495.03L194.23 495.03L194.53 495.03L194.82 495.03L195.12 495.03L195.42 495.03L195.72 495.03L196.02 495.03L196.32 495.03L196.62 495.03L196.92 495.03L197.22 495.03L197.52 495.03L197.82 495.03L198.12 495.03L198.42 495.03L198.72 495.03L199.02 495.03L199.32 495.03L199.62 495.03L199.92 495.03L200.21 495.03L200.51 495.03L200.81 495.03L201.11 495.03L201.41 495.03L201.71 495.03L202.01 495.03L202.31 495.03L202.61 495.03L202.91 495.03L203.21 495.03L203.51 495.03L203.81 495.03L204.11 495.03L204.41 495.03L204.71 495.03L205.01 495.03L205.31 495.03L205.60 495.03L205.90 495.03L206.20 495.03L206.50 495.03L206.80 495.03L207.10 495.03L207.40 495.03L207.70 495.03L208.00 495.03L208.30 495.03L208.60 495.03L208.90 495.03L209.20 495.03L209.50 495.03L209.80 495.03L210.10 495.03L210.40 495.03L210.69 495.03L210.99 495.03L211.29 495.03L211.59 495.03L211.89 495.03L212.19 495.03L212.49 495.03L212.79 495.03L213.09 495.03L213.39 495.03L213.69 495.03L213.99 495.03L214.29 495.03L214.59 495.03L214.89 495.03L215.19 495.03L215.49 495.03L215.79 495.03L216.08 495.03L216.38 495.03L216.68 495.03L216.98 495.03L217.28 495.03L217.58 495.03L217.88 495.03L218.18 495.03L218.48 495.03L218.78 495.03L219.08 495.03L219.38 495.03L219.68 495.03L219.98 495.03L220.28 495.03L220.58 495.03L220.88 495.03L221.18 495.03L221.47 495.03L221.77 495.03L222.07 495.03L222.37 495.03L222.67 495.03L222.97 495.03L223.27 495.03L223.57 495.03L223.87 495.03L224.17 495.03L224.47 495.03L224.77 495.03L225.07 495.03L225.37 495.03L225.67 495.03L225.97 495.03L226.27 495.03L226.56 495.03L226.86 495.03L227.16 495.03L227.46 495.03L227.76 495.03L228.06 495.03L228.36 495.03L228.66 495.03L228.96 495.03L229.26 495.03L229.56 495.03L229.86 495.03L230.16 495.03L230.46 495.03L230.76 495.03L231.06 495.03L231.36 495.03L231.66 495.03L231.95 495.03L232.25 495.03L232.55 495.03L232.85 495.03L233.15 495.03L233.45 495.03L233.75 495.03L234.05 495.03L234.35 495.03L234.65 495.03L234.95 495.03L235.25 495.03L235.55 495.03L235.85 495.03L236.15 495.03L236.45 495.03L236.75 495.03L237.05 495.03L237.34 495.03L237.64 495.03L237.94 495.03L238.24 495.03L238.54 495.03L238.84 495.03L239.14 495.03L239.44 495.03L239.74 495.03L240.04 495.03L240.34 495.03L240.64 495.03L240.94 495.03L241.24 495.03L241.54 495.03L241.84 495.03L242.14 495.03L242.44 495.03L242.73 495.03L243.03 495.03L243.33 495.03L243.63 495.03L243.93 495.03L244.23 495.03L244.53 495.03L244.83 495.03L245.13 495.03L245.43 495.03L245.73 495.03L246.03 495.03L246.33 495.03L246.63 495.03L246.93 495.03L247.23 495.03L247.53 495.03L247.82 495.03L248.12 495.03L248.42 495.03L248.72 495.03L249.02 495.03L249.32 495.03L249.62 495.03L249.92 495.03L250.22 495.03L250.52 495.03L250.82 495.03L251.12 495.03L251.42 495.03L251.72 495.03L252.02 495.03L252.32 495.03L252.62 495.03L252.92 495.03L253.21 495.03L253.51 495.03L253.81 495.03L254.11 495.03L254.41 495.03L254.71 495.03L255.01 495.03L255.31 495.03L255.61 495.03L255.91 495.03L256.21 495.03L256.51 495.03L256.81 495.03L257.11 495.03L257.41 495.03L257.71 495.03L258.01 495.03L258.31 495.03L258.60 495.03L258.90 495.03L259.20 495.03L259.50 495.03L259.80 495.03L260.10 495.03L260.40 495.03L260.70 495.03L261.00 495.03L261.28 494.26L261.55 493.03L261.83 491.17L262.11 488.50L262.38 484.88L262.66 480.25L262.94 474.71L263.22 468.53L263.49 462.15L263.77 456.18L264.05 451.28L264.32 448.06L264.60 446.94L264.88 449.12L265.16 455.18L265.44 463.83L265.72 473.42L266.00 482.44L266.28 489.91L266.56 495.45L266.84 499.15L267.12 501.40L267.40 502.64L267.69 502.41L267.98 501.75L268.27 500.74L268.56 499.50L268.84 498.17L269.13 496.93L269.42 495.92L269.71 495.25L270.00 495.03L270.28 495.03L270.56 495.03L270.84 495.03L271.12 495.03L271.40 495.03L271.68 494.16L271.97 492.73L272.25 490.50L272.53 487.26L272.82 482.84L273.10 477.24L273.38 470.68L273.67 463.65L273.95 456.86L274.23 451.15L274.52 447.33L274.80 445.98L275.10 448.21L275.40 454.37L275.70 463.17L276.00 472.92L276.30 482.09L276.60 489.69L276.90 495.32L277.20 499.09L277.50 501.37L277.80 502.64L278.07 502.35L278.35 501.53L278.62 500.29L278.90 498.83L279.18 497.38L279.45 496.14L279.73 495.31L280.00 495.03L280.30 493.56L280.60 491.20L280.90 487.63L281.20 482.50L281.50 475.54L281.80 466.65L282.10 456.01L282.40 444.12L282.70 431.87L283.00 420.41L283.30 411.01L283.60 404.82L283.90 402.66L284.19 406.82L284.48 418.38L284.77 434.86L285.06 453.13L285.35 470.33L285.64 484.57L285.93 495.11L286.22 502.17L286.51 506.46L286.80 508.83L287.10 508.31L287.40 506.81L287.70 504.57L288.00 501.93L288.30 499.29L288.60 497.05L288.90 495.55L289.20 495.03L289.49 495.03L289.77 495.03L290.06 495.03L290.35 495.03L290.63 495.03L290.92 495.03L291.21 495.03L291.50 495.03L291.78 495.03L292.07 495.03L292.36 495.03L292.64 495.03L292.93 495.03L293.22 495.03L293.50 495.03L293.79 495.03L294.08 495.03L294.37 495.03L294.65 495.03L294.94 495.03L295.23 495.03L295.51 495.03L295.80 495.03L296.09 493.36L296.37 490.78L296.66 486.94L296.94 481.50L297.23 474.18L297.51 464.80L297.80 453.41L298.09 440.36L298.37 426.34L298.66 412.34L298.94 399.56L299.23 389.28L299.51 382.60L299.80 380.28L300.09 382.83L300.38 390.00L300.67 400.50L300.96 412.62L301.24 424.68L301.53 435.29L301.82 443.49L302.11 448.72L302.40 450.75L302.70 450.21L303.00 448.65L303.30 446.23L303.60 443.18L303.90 439.79L304.20 436.41L304.50 433.36L304.80 430.94L305.10 429.38L305.40 428.84L305.68 430.89L305.97 436.71L306.25 445.42L306.53 455.77L306.82 466.49L307.10 476.49L307.38 485.02L307.67 491.75L307.95 496.70L308.23 500.10L308.52 502.28L308.80 503.60L309.09 502.61L309.39 501.11L309.68 498.93L309.97 495.89L310.27 491.83L310.56 486.62L310.85 480.25L311.15 472.83L311.44 464.63L311.73 456.08L312.03 447.75L312.32 440.32L312.61 434.42L312.91 430.63L313.20 429.32L313.49 430.81L313.77 435.11L314.06 441.72L314.34 449.94L314.63 458.95L314.91 467.96L315.20 476.35L315.49 483.68L315.77 489.71L316.06 494.42L316.34 497.92L316.63 500.39L316.91 502.05L317.20 503.12L317.49 502.88L317.78 502.17L318.07 501.10L318.36 499.77L318.64 498.37L318.93 497.05L319.22 495.97L319.51 495.27L319.80 495.03L320.10 495.03L320.40 495.03L320.70 495.03L321.00 495.03L321.30 495.03L321.60 495.03L321.90 495.03L322.20 495.03L322.50 495.03L322.80 495.03L323.10 495.03L323.40 495.03L323.70 495.03L324.00 495.03L324.30 495.03L324.60 495.03L324.90 495.03L325.20 495.03L325.50 495.03L325.80 495.03L326.10 495.03L326.40 495.03L326.69 495.03L326.99 495.03L327.29 495.03L327.59 495.03L327.89 495.03L328.19 495.03L328.49 495.03L328.79 495.03L329.09 495.03L329.39 495.03L329.69 495.03L329.99 495.03L330.29 495.03L330.59 495.03L330.89 495.03L331.19 495.03L331.49 495.03L331.79 495.03L332.09 495.03L332.39 495.03L332.69 495.03L332.99 495.03L333.29 495.03L333.59 495.03L333.89 495.03L334.19 495.03L334.49 495.03L334.79 495.03L335.09 495.03L335.39 495.03L335.69 495.03L335.99 495.03L336.29 495.03L336.59 495.03L336.89 495.03L337.19 495.03L337.49 495.03L337.79 495.03L338.09 495.03L338.39 495.03L338.69 495.03L338.99 495.03L339.29 495.03L339.59 495.03L339.89 495.03L340.18 495.03L340.48 495.03L340.78 495.03L341.08 495.03L341.38 495.03L341.68 495.03L341.98 495.03L342.28 495.03L342.58 495.03L342.88 495.03L343.18 495.03L343.48 495.03L343.78 495.03L344.08 495.03L344.38 495.03L344.68 495.03L344.98 495.03L345.28 495.03L345.58 495.03L345.88 495.03L346.18 495.03L346.48 495.03L346.78 495.03L347.08 495.03L347.38 495.03L347.68 495.03L347.98 495.03L348.28 495.03L348.58 495.03L348.88 495.03L349.18 495.03L349.48 495.03L349.78 495.03L350.08 495.03L350.38 495.03L350.68 495.03L350.98 495.03L351.28 495.03L351.58 495.03L351.88 495.03L352.18 495.03L352.48 495.03L352.78 495.03L353.08 495.03L353.37 495.03L353.67 495.03L353.97 495.03L354.27 495.03L354.57 495.03L354.87 495.03L355.17 495.03L355.47 495.03L355.77 495.03L356.07 495.03L356.37 495.03L356.67 495.03L356.97 495.03L357.27 495.03L357.57 495.03L357.87 495.03L358.17 495.03L358.47 495.03L358.77 495.03L359.07 495.03L359.37 495.03L359.67 495.03L359.97 495.03L360.27 495.03L360.57 495.03L360.87 495.03L361.17 495.03L361.47 495.03L361.77 495.03L362.07 495.03L362.37 495.03L362.67 495.03L362.97 495.03L363.27 495.03L363.57 495.03L363.87 495.03L364.17 495.03L364.47 495.03L364.77 495.03L365.07 495.03L365.37 495.03L365.67 495.03L365.97 495.03L366.27 495.03L366.57 495.03L366.86 495.03L367.16 495.03L367.46 495.03L367.76 495.03L368.06 495.03L368.36 495.03L368.66 495.03L368.96 495.03L369.26 495.03L369.56 495.03L369.86 495.03L370.16 495.03L370.46 495.03L370.76 495.03L371.06 495.03L371.36 495.03L371.66 495.03L371.96 495.03L372.26 495.03L372.56 495.03L372.86 495.03L373.16 495.03L373.46 495.03L373.76 495.03L374.06 495.03L374.36 495.03L374.66 495.03L374.96 495.03L375.26 495.03L375.56 495.03L375.86 495.03L376.16 495.03L376.46 495.03L376.76 495.03L377.06 495.03L377.36 495.03L377.66 495.03L377.96 495.03L378.26 495.03L378.56 495.03L378.86 495.03L379.16 495.03L379.46 495.03L379.76 495.03L380.06 495.03L380.35 495.03L380.65 495.03L380.95 495.03L381.25 495.03L381.55 495.03L381.85 495.03L382.15 495.03L382.45 495.03L382.75 495.03L383.05 495.03L383.35 495.03L383.65 495.03L383.95 495.03L384.25 495.03L384.55 495.03L384.85 495.03L385.15 495.03L385.45 495.03L385.75 495.03L386.05 495.03L386.35 495.03L386.65 495.03L386.95 495.03L387.25 495.03L387.55 495.03L387.85 495.03L388.15 495.03L388.45 495.03L388.75 495.03L389.05 495.03L389.35 495.03L389.65 495.03L389.95 495.03L390.25 495.03L390.55 495.03L390.85 495.03L391.15 495.03L391.45 495.03L391.75 495.03L392.05 495.03L392.35 495.03L392.65 495.03L392.95 495.03L393.25 495.03L393.54 495.03L393.84 495.03L394.14 495.03L394.44 495.03L394.74 495.03L395.04 495.03L395.34 495.03L395.64 495.03L395.94 495.03L396.24 495.03L396.54 495.03L396.84 495.03L397.14 495.03L397.44 495.03L397.74 495.03L398.04 495.03L398.34 495.03L398.64 495.03L398.94 495.03L399.24 495.03L399.54 495.03L399.84 495.03L400.14 495.03L400.44 495.03L400.74 495.03L401.04 495.03L401.34 495.03L401.64 495.03L401.94 495.03L402.24 495.03L402.54 495.03L402.84 495.03L403.14 495.03L403.44 495.03L403.74 495.03L404.04 495.03L404.34 495.03L404.64 495.03L404.94 495.03L405.24 495.03L405.54 495.03L405.84 495.03L406.14 495.03L406.44 495.03L406.74 495.03L407.03 495.03L407.33 495.03L407.63 495.03L407.93 495.03L408.23 495.03L408.53 495.03L408.83 495.03L409.13 495.03L409.43 495.03L409.73 495.03L410.03 495.03L410.33 495.03L410.63 495.03L410.93 495.03L411.23 495.03L411.53 495.03L411.83 495.03L412.13 495.03L412.43 495.03L412.73 495.03L413.03 495.03L413.33 495.03L413.63 495.03L413.93 495.03L414.23 495.03L414.53 495.03L414.83 495.03L415.13 495.03L415.43 495.03L415.73 495.03L416.03 495.03L416.33 495.03L416.63 495.03L416.93 495.03L417.23 495.03L417.53 495.03L417.83 495.03L418.13 495.03L418.43 495.03L418.73 495.03L419.03 495.03L419.33 495.03L419.63 495.03L419.93 495.03L420.23 495.03L420.52 495.03L420.82 495.03L421.12 495.03L421.42 495.03L421.72 495.03L422.02 495.03L422.32 495.03L422.62 495.03L422.92 495.03L423.22 495.03L423.52 495.03L423.82 495.03L424.12 495.03L424.42 495.03L424.72 495.03L425.02 495.03L425.32 495.03L425.62 495.03L425.92 495.03L426.22 495.03L426.52 495.03L426.82 495.03L427.12 495.03L427.42 495.03L427.72 495.03L428.02 495.03L428.32 495.03L428.62 495.03L428.92 495.03L429.22 495.03L429.52 495.03L429.82 495.03L430.12 495.03L430.42 495.03L430.72 495.03L431.02 495.03L431.32 495.03L431.62 495.03L431.92 495.03L432.22 495.03L432.52 495.03L432.82 495.03L433.12 495.03L433.42 495.03L433.71 495.03L434.01 495.03L434.31 495.03L434.61 495.03L434.91 495.03L435.21 495.03L435.51 495.03L435.81 495.03L436.11 495.03L436.41 495.03L436.71 495.03L437.01 495.03L437.31 495.03L437.61 495.03L437.91 495.03L438.21 495.03L438.51 495.03L438.81 495.03L439.11 495.03L439.41 495.03L439.71 495.03L440.01 495.03L440.31 495.03L440.61 495.03L440.91 495.03L441.21 495.03L441.51 495.03L441.81 495.03L442.11 495.03L442.41 495.03L442.71 495.03L443.01 495.03L443.31 495.03L443.61 495.03L443.91 495.03L444.21 495.03L444.51 495.03L444.81 495.03L445.11 495.03L445.41 495.03L445.71 495.03L446.01 495.03L446.31 495.03L446.61 495.03L446.91 495.03L447.20 495.03L447.50 495.03L447.80 495.03L448.10 495.03L448.40 495.03L448.70 495.03L449.00 495.03L449.30 495.03L449.60 495.03L449.90 495.03L450.20 495.03L450.50 495.03L450.80 495.03L451.10 495.03L451.40 495.03L451.70 495.03L452.00 495.03L452.30 495.03L452.60 495.03L452.90 495.03L453.20 495.03L453.50 495.03L453.80 495.03L454.09 494.06L454.38 492.50L454.68 490.15L454.97 486.76L455.26 482.17L455.55 476.30L455.85 469.28L456.14 461.44L456.43 453.36L456.72 445.80L457.02 439.59L457.31 435.51L457.60 434.08L457.90 436.10L458.20 441.69L458.50 449.70L458.80 458.63L459.10 467.09L459.40 474.17L459.70 479.48L460.00 483.08L460.30 485.28L460.60 486.45L460.89 486.08L461.17 485.02L461.46 483.49L461.74 481.80L462.03 480.27L462.31 479.21L462.60 478.84L462.90 478.91L463.20 479.07L463.50 479.24L463.80 479.31L464.08 479.01L464.37 478.18L464.65 476.85L464.93 475.10L465.22 473.05L465.50 470.80L465.78 468.51L466.07 466.34L466.35 464.44L466.63 462.96L466.92 462.02L467.20 461.70L467.45 461.77L467.70 461.93L467.95 462.10L468.20 462.17L468.46 461.63L468.71 460.11L468.97 457.92L469.23 455.48L469.49 453.28L469.74 451.76L470.00 451.22L470.28 451.54L470.56 452.45L470.84 453.87L471.12 455.66L471.40 457.65L471.68 459.64L471.96 461.43L472.24 462.85L472.52 463.76L472.80 464.08L473.10 463.94L473.40 463.53L473.70 462.89L474.00 462.05L474.30 461.08L474.60 460.03L474.90 458.98L475.20 458.01L475.50 457.17L475.80 456.52L476.10 456.12L476.40 455.98L476.67 454.79L476.95 451.38L477.23 446.28L477.50 440.27L477.77 434.26L478.05 429.16L478.33 425.75L478.60 424.56L478.90 424.83L479.20 425.64L479.50 426.95L479.80 428.68L480.10 430.76L480.40 433.07L480.70 435.51L481.00 437.95L481.30 440.26L481.60 442.34L481.90 444.07L482.20 445.38L482.50 446.19L482.80 446.46L483.10 444.74L483.40 439.85L483.70 432.53L484.00 423.88L484.30 415.22L484.60 407.87L484.90 402.96L485.20 401.23L485.49 402.49L485.77 406.16L486.06 411.86L486.34 419.05L486.63 427.11L486.91 435.42L487.20 443.43L487.49 450.73L487.77 457.06L488.06 462.27L488.34 466.32L488.63 469.27L488.91 471.19L489.20 472.17L489.47 471.95L489.75 471.33L490.02 470.41L490.30 469.31L490.57 468.22L490.85 467.29L491.12 466.67L491.40 466.46L491.69 465.34L491.98 462.68L492.27 458.47L492.56 452.80L492.85 445.88L493.15 438.11L493.44 430.07L493.73 422.52L494.02 416.30L494.31 412.19L494.60 410.75L494.87 411.71L495.13 414.32L495.40 417.89L495.67 421.46L495.93 424.08L496.20 425.03L496.48 422.53L496.76 415.99L497.04 407.90L497.32 401.35L497.60 398.85L497.88 402.23L498.16 411.61L498.44 424.99L498.72 439.81L499.00 453.77L499.28 465.33L499.56 473.89L499.84 479.62L500.12 483.10L500.40 485.03L500.67 483.85L500.93 481.41L501.20 477.36L501.47 471.53L501.73 464.12L502.00 455.91L502.27 448.25L502.53 442.75L502.80 440.75L503.10 443.05L503.40 448.60L503.70 454.16L504.00 456.46L504.29 454.71L504.57 449.83L504.86 442.76L505.14 434.92L505.43 427.86L505.71 422.97L506.00 421.23L506.28 421.51L506.56 422.34L506.83 423.61L507.11 425.16L507.39 426.81L507.67 428.37L507.94 429.63L508.22 430.46L508.50 430.75L508.78 430.02L509.07 428.20L509.35 425.31L509.63 421.39L509.92 416.52L510.20 410.79L510.48 404.33L510.77 397.29L511.05 389.86L511.33 382.24L511.62 374.66L511.90 367.38L512.18 360.65L512.47 354.72L512.75 349.82L513.03 346.17L513.32 343.91L513.60 343.14L513.90 344.32L514.20 347.77L514.50 353.26L514.80 360.44L515.10 368.86L515.40 378.03L515.70 387.44L516.00 396.63L516.30 405.16L516.60 412.66L516.90 418.83L517.20 423.44L517.50 426.33L517.80 427.42L518.07 426.20L518.33 422.89L518.60 418.37L518.87 413.85L519.13 410.53L519.40 409.32L519.67 412.02L519.95 419.41L520.23 429.71L520.50 440.80L520.77 450.83L521.05 458.61L521.33 463.55L521.60 465.51L521.88 464.64L522.17 462.53L522.45 459.19L522.73 454.71L523.02 449.25L523.30 443.06L523.58 436.51L523.87 430.06L524.15 424.23L524.43 419.57L524.72 416.56L525.00 415.51L525.24 416.47L525.48 418.97L525.72 422.06L525.96 424.56L526.20 425.51L526.50 425.14L526.80 424.04L527.10 422.30L527.40 420.04L527.70 417.39L528.00 414.56L528.30 411.73L528.60 409.08L528.90 406.82L529.20 405.08L529.50 403.98L529.80 403.61L530.10 404.72L530.40 407.99L530.70 413.29L531.00 420.39L531.30 428.96L531.60 438.65L531.90 449.02L532.20 459.62L532.50 469.99L532.80 479.67L533.10 488.25L533.40 495.34L533.70 500.64L534.00 503.92L534.30 505.02L534.59 504.64L534.88 503.56L535.16 501.94L535.45 500.02L535.74 498.11L536.02 496.49L536.31 495.41L536.60 495.03L536.90 495.03L537.20 495.03L537.50 495.03L537.80 495.03L538.10 495.03L538.40 495.03L538.70 495.03L538.99 495.03L539.29 495.03L539.59 495.03L539.89 495.03L540.19 495.03L540.49 495.03L540.79 495.03L541.09 495.03L541.39 495.03L541.69 495.03L541.99 495.03L542.29 495.03L542.59 495.03L542.89 495.03L543.19 495.03L543.49 495.03L543.78 495.03L544.08 495.03L544.38 495.03L544.68 495.03L544.98 495.03L545.28 495.03L545.58 495.03L545.88 495.03L546.18 495.03L546.48 495.03L546.78 495.03L547.08 495.03L547.38 495.03L547.68 495.03L547.98 495.03L548.27 495.03L548.57 495.03L548.87 495.03L549.17 495.03L549.47 495.03L549.77 495.03L550.07 495.03L550.37 495.03L550.67 495.03L550.97 495.03L551.27 495.03L551.57 495.03L551.87 495.03L552.17 495.03L552.47 495.03L552.76 495.03L553.06 495.03L553.36 495.03L553.66 495.03L553.96 495.03L554.26 495.03L554.56 495.03L554.86 495.03L555.16 495.03L555.46 495.03L555.76 495.03L556.06 495.03L556.36 495.03L556.66 495.03L556.96 495.03L557.26 495.03L557.55 495.03L557.85 495.03L558.15 495.03L558.45 495.03L558.75 495.03L559.05 495.03L559.35 495.03L559.65 495.03L559.95 495.03L560.25 495.03L560.55 495.03L560.85 495.03L561.15 495.03L561.45 495.03L561.75 495.03L562.04 495.03L562.34 495.03L562.64 495.03L562.94 495.03L563.24 495.03L563.54 495.03L563.84 495.03L564.14 495.03L564.44 495.03L564.74 495.03L565.04 495.03L565.34 495.03L565.64 495.03L565.94 495.03L566.24 495.03L566.53 495.03L566.83 495.03L567.13 495.03L567.43 495.03L567.73 495.03L568.03 495.03L568.33 495.03L568.63 495.03L568.93 495.03L569.23 495.03L569.53 495.03L569.83 495.03L570.13 495.03L570.43 495.03L570.73 495.03L571.03 495.03L571.32 495.03L571.62 495.03L571.92 495.03L572.22 495.03L572.52 495.03L572.82 495.03L573.12 495.03L573.42 495.03L573.72 495.03L574.02 495.03L574.32 495.03L574.62 495.03L574.92 495.03L575.22 495.03L575.52 495.03L575.81 495.03L576.11 495.03L576.41 495.03L576.71 495.03L577.01 495.03L577.31 495.03L577.61 495.03L577.91 495.03L578.21 495.03L578.51 495.03L578.81 495.03L579.11 495.03L579.41 495.03L579.71 495.03L580.01 495.03L580.30 495.03L580.60 495.03L580.90 495.03L581.20 495.03L581.50 495.03L581.80 495.03L582.10 495.03L582.40 495.03L582.70 495.03L583.00 495.03L583.30 495.03L583.60 495.03L583.90 495.03L584.20 495.03L584.50 495.03L584.80 495.03L585.09 495.03L585.39 495.03L585.69 495.03L585.99 495.03L586.29 495.03L586.59 495.03L586.89 495.03L587.19 495.03L587.49 495.03L587.79 495.03L588.09 495.03L588.39 495.03L588.69 495.03L588.99 495.03L589.29 495.03L589.58 495.03L589.88 495.03L590.18 495.03L590.48 495.03L590.78 495.03L591.08 495.03L591.38 495.03L591.68 495.03L591.98 495.03L592.28 495.03L592.58 495.03L592.88 495.03L593.18 495.03L593.48 495.03L593.78 495.03L594.07 495.03L594.37 495.03L594.67 495.03L594.97 495.03L595.27 495.03L595.57 495.03L595.87 495.03L596.17 495.03L596.47 495.03L596.77 495.03L597.07 495.03L597.37 495.03L597.67 495.03L597.97 495.03L598.27 495.03L598.57 495.03L598.86 495.03L599.16 495.03L599.46 495.03L599.76 495.03L600.06 495.03L600.36 495.03L600.66 495.03L600.96 495.03L601.26 495.03L601.56 495.03L601.86 495.03L602.16 495.03L602.46 495.03L602.76 495.03L603.06 495.03L603.35 495.03L603.65 495.03L603.95 495.03L604.25 495.03L604.55 495.03L604.85 495.03L605.15 495.03L605.45 495.03L605.75 495.03L606.05 495.03L606.35 495.03L606.65 495.03L606.95 495.03L607.25 495.03L607.55 495.03L607.84 495.03L608.14 495.03L608.44 495.03L608.74 495.03L609.04 495.03L609.34 495.03L609.64 495.03L609.94 495.03L610.24 495.03L610.54 495.03L610.84 495.03L611.14 495.03L611.44 495.03L611.74 495.03L612.04 495.03L612.34 495.03L612.63 495.03L612.93 495.03L613.23 495.03L613.53 495.03L613.83 495.03L614.13 495.03L614.43 495.03L614.73 495.03L615.03 495.03L615.33 495.03L615.63 495.03L615.93 495.03L616.23 495.03L616.53 495.03L616.83 495.03L617.12 495.03L617.42 495.03L617.72 495.03L618.02 495.03L618.32 495.03L618.62 495.03L618.92 495.03L619.22 495.03L619.52 495.03L619.82 495.03L620.12 495.03L620.42 495.03L620.72 495.03L621.02 495.03L621.32 495.03L621.61 495.03L621.91 495.03L622.21 495.03L622.51 495.03L622.81 495.03L623.11 495.03L623.41 495.03L623.71 495.03L624.01 495.03L624.31 495.03L624.61 495.03L624.91 495.03L625.21 495.03L625.51 495.03L625.81 495.03L626.11 495.03L626.40 495.03L626.70 495.03L627.00 495.03L627.30 495.03L627.60 495.03L627.90 495.03L628.20 495.03L628.50 495.03L628.80 494.73L629.10 494.23L629.40 493.43L629.70 492.25L630.00 490.63L630.30 488.62L630.60 486.36L630.90 484.07L631.20 482.10L631.50 480.75L631.80 480.27L632.08 480.33L632.37 480.50L632.65 480.74L632.93 480.98L633.22 481.15L633.50 481.22L633.78 481.09L634.06 480.72L634.33 480.15L634.61 479.45L634.89 478.70L635.17 478.00L635.44 477.43L635.72 477.06L636.00 476.93L636.29 476.98L636.57 477.11L636.86 477.30L637.14 477.51L637.43 477.71L637.71 477.84L638.00 477.88L638.28 477.57L638.56 476.66L638.83 475.27L639.11 473.56L639.39 471.74L639.67 470.03L639.94 468.64L640.22 467.73L640.50 467.41L640.80 467.58L641.10 468.09L641.40 468.89L641.70 469.91L642.00 471.09L642.30 472.30L642.60 473.47L642.90 474.50L643.20 475.30L643.50 475.81L643.80 475.98L644.08 475.86L644.36 475.49L644.64 474.89L644.92 474.09L645.20 473.12L645.48 472.03L645.76 470.86L646.04 469.67L646.32 468.50L646.60 467.41L646.88 466.44L647.16 465.64L647.44 465.05L647.72 464.68L648.00 464.55L648.30 464.74L648.60 465.28L648.90 466.12L649.20 467.18L649.50 468.36L649.80 469.54L650.10 470.60L650.40 471.44L650.70 471.98L651.00 472.17L651.29 472.11L651.58 471.92L651.88 471.61L652.17 471.22L652.46 470.76L652.75 470.27L653.04 469.77L653.33 469.31L653.62 468.92L653.92 468.62L654.21 468.43L654.50 468.36L654.79 468.27L655.07 468.01L655.36 467.58L655.64 467.02L655.93 466.34L656.21 465.59L656.50 464.79L656.79 464.00L657.07 463.24L657.36 462.56L657.64 462.00L657.93 461.57L658.21 461.31L658.50 461.22L658.80 461.26L659.10 461.36L659.40 461.51L659.70 461.71L660.00 461.93L660.30 462.16L660.60 462.35L660.90 462.51L661.20 462.61L661.50 462.65L661.80 462.63L662.10 462.56L662.40 462.45L662.70 462.32L663.00 462.17L663.30 462.03L663.60 461.89L663.90 461.79L664.20 461.72L664.50 461.70L664.80 461.88L665.10 462.42L665.40 463.27L665.70 464.33L666.00 465.51L666.30 466.68L666.60 467.74L666.90 468.59L667.20 469.13L667.50 469.31L667.80 469.36L668.10 469.50L668.40 469.73L668.70 470.04L669.00 470.43L669.30 470.88L669.60 471.39L669.90 471.95L670.20 472.53L670.50 473.12L670.80 473.72L671.10 474.30L671.40 474.85L671.70 475.36L672.00 475.82L672.30 476.20L672.60 476.52L672.90 476.75L673.20 476.89L673.50 476.93L673.80 476.97L674.10 477.10L674.40 477.30L674.70 477.57L675.00 477.91L675.30 478.31L675.60 478.75L675.90 479.24L676.20 479.74L676.50 480.27L676.80 480.79L677.10 481.30L677.40 481.78L677.70 482.22L678.00 482.62L678.30 482.96L678.60 483.23L678.90 483.43L679.20 483.56L679.50 483.60L679.80 483.57L680.10 483.50L680.40 483.37L680.70 483.20L681.00 483.00L681.30 482.78L681.60 482.53L681.90 482.28L682.20 482.04L682.50 481.81L682.80 481.61L683.10 481.44L683.40 481.32L683.70 481.24L684.00 481.22L684.30 481.27L684.60 481.44L684.90 481.72L685.20 482.08L685.50 482.53L685.80 483.03L686.10 483.56L686.40 484.11L686.70 484.65L687.00 485.15L687.30 485.59L687.60 485.95L687.90 486.23L688.20 486.40L688.50 486.45L688.80 486.47L689.10 486.52L689.40 486.59L689.70 486.69L690.00 486.81L690.30 486.95L690.60 487.09L690.90 487.24L691.20 487.39L691.50 487.53L691.80 487.65L692.10 487.75L692.40 487.82L692.70 487.87L693.00 487.88L693.30 487.61L693.60 487.08L693.90 486.28L694.20 485.19L694.50 483.78L694.80 482.07L695.10 480.08L695.40 477.86L695.70 475.50L696.00 473.11L696.30 470.85L696.60 468.86L696.90 467.31L697.20 466.32L697.50 465.98L697.77 466.04L698.05 466.19L698.33 466.42L698.60 466.70L698.88 466.97L699.15 467.20L699.43 467.36L699.70 467.41L699.99 468.73L700.28 472.25L700.56 476.92L700.85 481.56L701.14 485.36L701.42 487.99L701.71 489.54L702.00 490.26L702.27 489.72L702.55 488.50L702.83 486.46L703.10 483.64L703.38 480.28L703.65 476.97L703.93 474.51L704.20 473.60L704.50 474.36L704.80 476.46L705.10 479.31L705.40 482.17L705.70 484.26L706.00 485.03L706.28 484.14L706.56 482.17L706.83 478.97L707.11 474.49L707.39 468.97L707.67 462.98L707.94 457.49L708.22 453.59L708.50 452.17L708.78 452.35L709.06 452.84L709.33 453.60L709.61 454.53L709.89 455.53L710.17 456.46L710.44 457.22L710.72 457.71L711.00 457.89L711.29 457.64L711.57 456.90L711.86 455.71L712.14 454.12L712.43 452.23L712.71 450.11L713.00 447.89L713.29 445.66L713.57 443.55L713.86 441.65L714.14 440.07L714.43 438.88L714.71 438.14L715.00 437.89L715.30 438.12L715.60 438.71L715.90 439.45L716.20 440.04L716.50 440.27L716.79 439.37L717.07 436.86L717.36 433.24L717.64 429.21L717.93 425.58L718.21 423.07L718.50 422.18L718.80 424.86L719.10 431.88L719.40 440.56L719.70 447.59L720.00 450.27L720.30 447.91L720.60 443.78L720.90 437.59L721.20 429.06L721.50 417.96L721.80 404.19L722.10 387.86L722.40 369.33L722.70 349.32L723.00 328.85L723.30 309.22L723.60 291.86L723.90 278.22L724.20 269.49L724.50 266.49L724.80 272.85L725.10 290.75L725.40 317.03L725.70 347.43L726.00 377.75L726.30 404.74L726.60 426.56L726.90 442.72L727.20 453.74L727.50 460.64L727.80 464.55L728.08 463.04L728.37 460.06L728.65 455.42L728.94 449.00L729.22 440.75L729.51 430.76L729.79 419.36L730.08 407.13L730.36 394.93L730.65 383.80L730.93 374.82L731.22 368.98L731.50 366.95L731.75 366.23L732.00 365.52L732.28 363.71L732.56 358.50L732.83 350.52L733.11 340.73L733.39 330.31L733.67 320.53L733.94 312.54L734.22 307.34L734.50 305.53L734.80 307.48L735.10 313.25L735.40 322.62L735.70 335.23L736.00 350.60L736.30 368.13L736.60 387.16L736.90 406.94L737.20 426.73L737.50 445.75L737.80 463.28L738.10 478.65L738.40 491.27L738.70 500.64L739.00 506.41L739.30 508.36L739.59 508.09L739.88 507.30L740.17 506.06L740.46 504.46L740.75 502.64L741.05 500.74L741.34 498.92L741.63 497.33L741.92 496.08L742.21 495.30L742.50 495.03" fill="none" stroke="#b03890" stroke-width="1.7" stroke-linejoin="round" stroke-linecap="butt"/>
<path d="M67.20 495.03L67.49 495.03L67.78 495.03L68.08 495.03L68.37 495.03L68.66 495.03L68.95 495.03L69.25 495.03L69.54 495.03L69.83 495.03L70.12 495.03L70.42 495.03L70.71 495.03L71.00 495.03L71.29 495.03L71.58 495.03L71.88 495.03L72.17 495.03L72.46 495.03L72.75 495.03L73.05 495.03L73.34 495.03L73.63 495.03L73.92 495.03L74.22 495.03L74.51 495.03L74.80 495.03L75.09 494.79L75.37 494.13L75.66 493.17L75.94 492.11L76.23 491.16L76.51 490.50L76.80 490.26L77.07 490.38L77.34 490.72L77.61 491.25L77.88 491.91L78.15 492.64L78.42 493.38L78.69 494.04L78.96 494.57L79.23 494.91L79.50 495.03L79.77 494.91L80.04 494.57L80.31 494.04L80.58 493.38L80.85 492.64L81.12 491.91L81.39 491.25L81.66 490.72L81.93 490.38L82.20 490.26L82.48 490.38L82.76 490.72L83.04 491.25L83.32 491.91L83.60 492.64L83.88 493.38L84.16 494.04L84.44 494.57L84.72 494.91L85.00 495.03L85.30 495.03L85.60 495.03L85.90 495.03L86.20 495.03L86.50 495.03L86.80 495.03L87.10 495.03L87.40 495.03L87.70 495.03L88.00 495.03L88.29 495.03L88.58 495.03L88.87 495.03L89.16 495.03L89.44 495.03L89.73 495.03L90.02 495.03L90.31 495.03L90.60 495.03L90.89 493.61L91.19 491.47L91.48 488.36L91.77 484.02L92.07 478.20L92.36 470.76L92.65 461.65L92.95 451.04L93.24 439.32L93.53 427.10L93.83 415.20L94.12 404.57L94.41 396.14L94.71 390.72L95.00 388.85L95.28 393.55L95.55 406.16L95.83 423.04L96.10 440.06L96.38 454.27L96.65 464.36L96.92 470.42L97.20 473.12L97.49 470.93L97.77 467.49L98.06 462.36L98.34 455.11L98.63 445.37L98.91 432.94L99.20 417.88L99.49 400.67L99.77 382.21L100.06 363.80L100.34 347.02L100.63 333.52L100.91 324.76L101.20 321.72L101.50 328.06L101.80 345.30L102.10 368.89L102.40 393.57L102.70 415.15L103.00 431.31L103.30 441.35L103.60 445.51L103.89 444.22L104.18 440.50L104.47 434.80L104.76 427.80L105.04 420.36L105.33 413.37L105.62 407.67L105.91 403.95L106.20 402.66L106.50 407.24L106.80 419.12L107.10 433.94L107.40 447.32L107.70 456.36L108.00 459.79L108.27 455.39L108.53 446.34L108.80 431.31L109.07 409.53L109.33 381.68L109.60 350.68L109.87 321.65L110.13 300.77L110.40 293.15L110.70 301.92L111.00 326.28L111.30 361.02L111.60 399.52L111.90 435.77L112.20 465.78L112.50 488.01L112.80 502.88L113.10 511.92L113.40 516.93L113.69 515.08L113.97 512.22L114.26 507.97L114.54 501.95L114.83 493.83L115.11 483.44L115.40 470.82L115.69 456.37L115.97 440.83L116.26 425.32L116.54 411.17L116.83 399.77L117.11 392.37L117.40 389.80L117.69 396.31L117.97 413.11L118.26 433.90L118.54 452.56L118.83 465.87L119.11 473.56L119.40 476.93L119.70 475.26L120.00 470.81L120.30 464.30L120.60 457.17L120.90 451.49L121.20 449.32L121.48 452.55L121.75 461.14L122.03 472.37L122.30 483.30L122.58 491.96L122.85 497.72L123.12 501.02L123.40 502.64L123.67 501.97L123.93 500.14L124.20 497.64L124.47 495.14L124.73 493.31L125.00 492.64L125.28 490.09L125.55 485.85L125.83 479.25L126.10 469.64L126.38 456.55L126.65 439.98L126.93 420.57L127.20 399.74L127.48 379.62L127.75 362.71L128.03 351.41L128.30 347.43L128.60 345.97L128.90 342.16L129.20 337.45L129.50 333.65L129.80 332.19L130.08 334.10L130.36 339.10L130.64 345.28L130.92 350.28L131.20 352.19L131.44 363.03L131.68 389.10L131.92 417.14L132.16 436.99L132.40 444.56L132.69 440.67L132.98 431.79L133.27 417.45L133.56 397.73L133.84 373.79L134.13 348.22L134.42 324.99L134.71 308.60L135.00 302.67L135.30 310.42L135.60 331.93L135.90 362.60L136.20 396.60L136.50 428.60L136.80 455.10L137.10 474.73L137.40 487.86L137.70 495.84L138.00 500.26L138.30 498.18L138.60 494.43L138.90 488.27L139.20 479.04L139.50 466.59L139.80 451.55L140.10 435.58L140.40 421.16L140.70 411.06L141.00 407.42L141.26 408.74L141.51 412.44L141.77 417.78L142.03 423.72L142.29 429.06L142.54 432.76L142.80 434.08L143.10 431.56L143.40 424.68L143.70 415.27L144.00 405.87L144.30 398.99L144.60 396.47L144.90 397.96L145.20 402.26L145.50 408.84L145.80 416.97L146.10 425.84L146.40 434.67L146.70 442.84L147.00 449.91L147.30 455.60L147.60 459.78L147.90 462.44L148.20 463.60L148.48 461.49L148.75 457.65L149.03 451.75L149.31 443.46L149.58 432.57L149.86 419.13L150.14 403.48L150.42 386.41L150.69 369.14L150.97 353.21L151.25 340.27L151.52 331.80L151.80 328.86L152.09 331.63L152.38 339.71L152.66 352.37L152.95 368.55L153.24 386.95L153.53 406.26L153.81 425.25L154.10 442.95L154.39 458.67L154.68 472.00L154.96 482.87L155.25 491.37L155.54 497.77L155.83 502.42L156.11 505.68L156.40 507.88L156.69 507.49L156.98 506.38L157.27 504.67L157.56 502.57L157.84 500.34L158.13 498.24L158.42 496.53L158.71 495.41L159.00 495.03L159.30 495.03L159.60 495.03L159.90 495.03L160.20 495.03L160.50 495.03L160.80 495.03L161.10 495.03L161.40 495.03L161.70 495.03L162.00 495.03L162.30 495.03L162.60 495.03L162.90 495.03L163.20 495.03L163.50 495.03L163.80 495.03L164.10 495.03L164.40 495.03L164.70 495.03L165.00 495.03L165.30 495.03L165.60 495.03L165.90 495.03L166.20 495.03L166.50 495.03L166.80 495.03L167.10 495.03L167.40 495.03L167.70 495.03L168.00 495.03L168.30 495.03L168.60 495.03L168.90 495.03L169.20 495.03L169.50 495.03L169.80 495.03L170.10 495.03L170.40 495.03L170.70 495.03L171.00 495.03L171.30 495.03L171.60 495.03L171.90 495.03L172.20 495.03L172.50 495.03L172.80 495.03L173.10 495.03L173.40 495.03L173.70 495.03L174.00 495.03L174.30 495.03L174.60 495.03L174.90 495.03L175.20 495.03L175.50 495.03L175.80 495.03L176.10 495.03L176.40 495.03L176.70 495.03L177.00 495.03L177.30 495.03L177.60 495.03L177.90 495.03L178.20 495.03L178.50 495.03L178.80 495.03L179.10 495.03L179.40 495.03L179.70 495.03L180.00 495.03L180.30 495.03L180.60 495.03L180.90 495.03L181.20 495.03L181.50 495.03L181.80 495.03L182.10 495.03L182.40 495.03L182.70 495.03L183.00 495.03L183.30 495.03L183.60 495.03L183.90 495.03L184.20 495.03L184.50 495.03L184.80 495.03L185.10 495.03L185.40 495.03L185.70 495.03L186.00 495.03L186.30 495.03L186.60 495.03L186.90 495.03L187.20 495.03L187.50 495.03L187.80 495.03L188.10 495.03L188.40 495.03L188.70 495.03L189.00 495.03L189.30 495.03L189.60 495.03L189.90 495.03L190.20 495.03L190.50 495.03L190.80 495.03L191.10 495.03L191.40 495.03L191.70 495.03L192.00 495.03L192.30 495.03L192.60 495.03L192.90 495.03L193.20 495.03L193.50 495.03L193.80 495.03L194.10 495.03L194.40 495.03L194.70 495.03L195.00 495.03L195.30 495.03L195.60 495.03L195.90 495.03L196.20 495.03L196.50 495.03L196.80 495.03L197.10 495.03L197.40 495.03L197.70 495.03L198.00 495.03L198.30 495.03L198.60 495.03L198.90 495.03L199.20 495.03L199.50 495.03L199.80 495.03L200.10 495.03L200.40 495.03L200.70 495.03L201.00 495.03L201.30 495.03L201.60 495.03L201.90 495.03L202.20 495.03L202.50 495.03L202.80 495.03L203.10 495.03L203.40 495.03L203.70 495.03L204.00 495.03L204.30 495.03L204.60 495.03L204.90 495.03L205.20 495.03L205.50 495.03L205.80 495.03L206.10 495.03L206.40 495.03L206.70 495.03L207.00 495.03L207.30 495.03L207.60 495.03L207.90 495.03L208.20 495.03L208.50 495.03L208.80 495.03L209.10 495.03L209.40 495.03L209.70 495.03L210.00 495.03L210.30 495.03L210.60 495.03L210.90 495.03L211.20 495.03L211.50 495.03L211.80 495.03L212.10 495.03L212.40 495.03L212.70 495.03L213.00 495.03L213.30 495.03L213.60 495.03L213.90 495.03L214.20 495.03L214.50 495.03L214.80 495.03L215.10 495.03L215.40 495.03L215.70 495.03L216.00 495.03L216.30 495.03L216.60 495.03L216.90 495.03L217.20 495.03L217.50 495.03L217.80 495.03L218.10 495.03L218.40 495.03L218.70 495.03L219.00 495.03L219.30 495.03L219.60 495.03L219.90 495.03L220.20 495.03L220.50 495.03L220.80 495.03L221.10 495.03L221.40 495.03L221.70 495.03L222.00 495.03L222.30 495.03L222.60 495.03L222.90 495.03L223.20 495.03L223.50 495.03L223.80 495.03L224.10 495.03L224.40 495.03L224.70 495.03L225.00 495.03L225.30 495.03L225.60 495.03L225.90 495.03L226.20 495.03L226.50 495.03L226.80 495.03L227.10 495.03L227.40 495.03L227.70 495.03L228.00 495.03L228.30 495.03L228.60 495.03L228.90 495.03L229.20 495.03L229.50 495.03L229.80 495.03L230.10 495.03L230.40 495.03L230.70 495.03L231.00 495.03L231.30 495.03L231.60 495.03L231.90 495.03L232.20 495.03L232.50 495.03L232.80 495.03L233.10 495.03L233.40 495.03L233.70 495.03L234.00 495.03L234.30 495.03L234.60 495.03L234.90 495.03L235.20 495.03L235.50 495.03L235.80 495.03L236.10 495.03L236.40 495.03L236.70 495.03L237.00 495.03L237.30 495.03L237.60 495.03L237.90 495.03L238.20 495.03L238.50 495.03L238.80 495.03L239.10 495.03L239.40 495.03L239.70 495.03L240.00 495.03L240.30 495.03L240.60 495.03L240.90 495.03L241.20 495.03L241.50 495.03L241.80 495.03L242.10 495.03L242.40 495.03L242.70 495.03L243.00 495.03L243.30 495.03L243.60 495.03L243.90 495.03L244.20 495.03L244.50 495.03L244.80 495.03L245.10 495.03L245.40 495.03L245.70 495.03L246.00 495.03L246.30 495.03L246.60 495.03L246.90 495.03L247.20 495.03L247.50 495.03L247.80 495.03L248.10 495.03L248.40 495.03L248.70 495.03L249.00 495.03L249.30 495.03L249.60 495.03L249.90 495.03L250.20 495.03L250.50 495.03L250.80 495.03L251.10 495.03L251.40 495.03L251.70 495.03L252.00 495.03L252.30 495.03L252.60 495.03L252.90 495.03L253.20 495.03L253.50 495.03L253.80 495.03L254.10 495.03L254.40 495.03L254.70 495.03L255.00 495.03L255.30 495.03L255.60 495.03L255.90 495.03L256.20 495.03L256.50 495.03L256.80 495.03L257.10 495.03L257.40 495.03L257.70 495.03L258.00 495.03L258.30 495.03L258.60 495.03L258.90 495.03L259.20 495.03L259.50 495.03L259.80 495.03L260.10 495.03L260.40 495.03L260.70 495.03L261.00 495.03L261.30 495.03L261.60 495.03L261.90 495.03L262.20 495.03L262.50 495.03L262.76 494.90L263.02 494.54L263.29 494.00L263.55 493.36L263.81 492.72L264.08 492.18L264.34 491.82L264.60 491.69L264.87 491.86L265.14 492.32L265.41 492.99L265.69 493.73L265.96 494.40L266.23 494.86L266.50 495.03L266.80 495.03L267.09 495.03L267.39 495.03L267.68 495.03L267.98 495.03L268.27 495.03L268.57 495.03L268.86 495.03L269.16 495.03L269.45 495.03L269.75 495.03L270.05 495.03L270.34 495.03L270.64 495.03L270.93 495.03L271.23 495.03L271.52 495.03L271.82 495.03L272.11 495.03L272.41 495.03L272.70 495.03L273.00 495.03L273.26 494.88L273.51 494.49L273.77 493.91L274.03 493.28L274.29 492.71L274.54 492.31L274.80 492.17L275.08 492.36L275.37 492.88L275.65 493.60L275.93 494.31L276.22 494.83L276.50 495.03L276.79 495.03L277.09 495.03L277.38 495.03L277.68 495.03L277.97 495.03L278.26 495.03L278.56 495.03L278.85 495.03L279.15 495.03L279.44 495.03L279.74 495.03L280.03 495.03L280.32 495.03L280.62 495.03L280.91 495.03L281.21 495.03L281.50 495.03L281.79 494.79L282.07 494.12L282.36 493.11L282.65 491.93L282.94 490.75L283.23 489.74L283.51 489.07L283.80 488.84L284.07 489.07L284.35 489.74L284.62 490.75L284.90 491.93L285.18 493.11L285.45 494.12L285.73 494.79L286.00 495.03L286.29 495.03L286.59 495.03L286.88 495.03L287.18 495.03L287.47 495.03L287.77 495.03L288.06 495.03L288.36 495.03L288.65 495.03L288.95 495.03L289.24 495.03L289.54 495.03L289.83 495.03L290.13 495.03L290.42 495.03L290.72 495.03L291.01 495.03L291.31 495.03L291.60 495.03L291.90 495.03L292.19 495.03L292.49 495.03L292.78 495.03L293.08 495.03L293.37 495.03L293.67 495.03L293.96 495.03L294.26 495.03L294.55 495.03L294.85 495.03L295.14 495.03L295.44 495.03L295.73 495.03L296.03 495.03L296.32 495.03L296.62 495.03L296.91 495.03L297.21 495.03L297.50 495.03L297.79 494.63L298.07 493.49L298.36 491.79L298.65 489.79L298.94 487.78L299.23 486.08L299.51 484.95L299.80 484.55L300.10 484.75L300.40 485.33L300.70 486.22L301.00 487.30L301.30 488.46L301.60 489.55L301.90 490.44L302.20 491.02L302.50 491.22L302.79 491.22L303.07 491.22L303.36 491.22L303.65 491.22L303.94 491.22L304.23 491.22L304.51 491.22L304.80 491.22L305.10 491.33L305.40 491.66L305.70 492.17L306.00 492.79L306.30 493.45L306.60 494.07L306.90 494.58L307.20 494.91L307.50 495.03L307.79 495.03L308.08 495.03L308.38 495.03L308.67 495.03L308.96 495.03L309.25 495.03L309.54 495.03L309.83 495.03L310.12 495.03L310.42 495.03L310.71 495.03L311.00 495.03L311.27 494.81L311.55 494.19L311.82 493.26L312.10 492.17L312.38 491.08L312.65 490.15L312.93 489.53L313.20 489.31L313.49 489.53L313.77 490.15L314.06 491.08L314.35 492.17L314.64 493.26L314.93 494.19L315.21 494.81L315.50 495.03L315.80 495.03L316.10 495.03L316.40 495.03L316.70 495.03L317.00 495.03L317.29 495.03L317.59 495.03L317.89 495.03L318.19 495.03L318.49 495.03L318.79 495.03L319.09 495.03L319.39 495.03L319.69 495.03L319.99 495.03L320.29 495.03L320.59 495.03L320.88 495.03L321.18 495.03L321.48 495.03L321.78 495.03L322.08 495.03L322.38 495.03L322.68 495.03L322.98 495.03L323.28 495.03L323.58 495.03L323.88 495.03L324.18 495.03L324.47 495.03L324.77 495.03L325.07 495.03L325.37 495.03L325.67 495.03L325.97 495.03L326.27 495.03L326.57 495.03L326.87 495.03L327.17 495.03L327.47 495.03L327.76 495.03L328.06 495.03L328.36 495.03L328.66 495.03L328.96 495.03L329.26 495.03L329.56 495.03L329.86 495.03L330.16 495.03L330.46 495.03L330.76 495.03L331.06 495.03L331.35 495.03L331.65 495.03L331.95 495.03L332.25 495.03L332.55 495.03L332.85 495.03L333.15 495.03L333.45 495.03L333.75 495.03L334.05 495.03L334.35 495.03L334.65 495.03L334.94 495.03L335.24 495.03L335.54 495.03L335.84 495.03L336.14 495.03L336.44 495.03L336.74 495.03L337.04 495.03L337.34 495.03L337.64 495.03L337.94 495.03L338.24 495.03L338.53 495.03L338.83 495.03L339.13 495.03L339.43 495.03L339.73 495.03L340.03 495.03L340.33 495.03L340.63 495.03L340.93 495.03L341.23 495.03L341.53 495.03L341.82 495.03L342.12 495.03L342.42 495.03L342.72 495.03L343.02 495.03L343.32 495.03L343.62 495.03L343.92 495.03L344.22 495.03L344.52 495.03L344.82 495.03L345.12 495.03L345.41 495.03L345.71 495.03L346.01 495.03L346.31 495.03L346.61 495.03L346.91 495.03L347.21 495.03L347.51 495.03L347.81 495.03L348.11 495.03L348.41 495.03L348.71 495.03L349.00 495.03L349.30 495.03L349.60 495.03L349.90 495.03L350.20 495.03L350.50 495.03L350.77 494.84L351.04 494.31L351.31 493.54L351.59 492.70L351.86 491.93L352.13 491.40L352.40 491.22L352.69 491.32L352.98 491.61L353.27 492.05L353.56 492.59L353.84 493.17L354.13 493.72L354.42 494.16L354.71 494.45L355.00 494.55L355.30 494.47L355.60 494.23L355.90 493.86L356.20 493.40L356.50 492.88L356.80 492.37L357.10 491.90L357.40 491.53L357.70 491.30L358.00 491.22L358.29 491.40L358.57 491.93L358.86 492.70L359.14 493.54L359.43 494.31L359.71 494.84L360.00 495.03L360.30 495.03L360.60 495.03L360.89 495.03L361.19 495.03L361.49 495.03L361.79 495.03L362.09 495.03L362.38 495.03L362.68 495.03L362.98 495.03L363.28 495.03L363.58 495.03L363.88 495.03L364.17 495.03L364.47 495.03L364.77 495.03L365.07 495.03L365.37 495.03L365.66 495.03L365.96 495.03L366.26 495.03L366.56 495.03L366.86 495.03L367.15 495.03L367.45 495.03L367.75 495.03L368.05 495.03L368.35 495.03L368.64 495.03L368.94 495.03L369.24 495.03L369.54 495.03L369.84 495.03L370.13 495.03L370.43 495.03L370.73 495.03L371.03 495.03L371.33 495.03L371.62 495.03L371.92 495.03L372.22 495.03L372.52 495.03L372.82 495.03L373.12 495.03L373.41 495.03L373.71 495.03L374.01 495.03L374.31 495.03L374.61 495.03L374.90 495.03L375.20 495.03L375.50 495.03L375.79 494.81L376.07 494.19L376.36 493.26L376.65 492.17L376.94 491.08L377.23 490.15L377.51 489.53L377.80 489.31L378.07 489.53L378.35 490.15L378.62 491.08L378.90 492.17L379.18 493.26L379.45 494.19L379.73 494.81L380.00 495.03L380.30 495.03L380.60 495.03L380.90 495.03L381.20 495.03L381.50 495.03L381.80 495.03L382.09 495.03L382.39 495.03L382.69 495.03L382.99 495.03L383.29 495.03L383.59 495.03L383.89 495.03L384.19 495.03L384.49 495.03L384.79 495.03L385.09 495.03L385.39 495.03L385.68 495.03L385.98 495.03L386.28 495.03L386.58 495.03L386.88 495.03L387.18 495.03L387.48 495.03L387.78 495.03L388.08 495.03L388.38 495.03L388.68 495.03L388.98 495.03L389.27 495.03L389.57 495.03L389.87 495.03L390.17 495.03L390.47 495.03L390.77 495.03L391.07 495.03L391.37 495.03L391.67 495.03L391.97 495.03L392.27 495.03L392.57 495.03L392.87 495.03L393.16 495.03L393.46 495.03L393.76 495.03L394.06 495.03L394.36 495.03L394.66 495.03L394.96 495.03L395.26 495.03L395.56 495.03L395.86 495.03L396.16 495.03L396.46 495.03L396.75 495.03L397.05 495.03L397.35 495.03L397.65 495.03L397.95 495.03L398.25 495.03L398.55 495.03L398.85 495.03L399.15 495.03L399.45 495.03L399.75 495.03L400.05 495.03L400.34 495.03L400.64 495.03L400.94 495.03L401.24 495.03L401.54 495.03L401.84 495.03L402.14 495.03L402.44 495.03L402.74 495.03L403.04 495.03L403.34 495.03L403.64 495.03L403.93 495.03L404.23 495.03L404.53 495.03L404.83 495.03L405.13 495.03L405.43 495.03L405.73 495.03L406.03 495.03L406.33 495.03L406.63 495.03L406.93 495.03L407.23 495.03L407.53 495.03L407.82 495.03L408.12 495.03L408.42 495.03L408.72 495.03L409.02 495.03L409.32 495.03L409.62 495.03L409.92 495.03L410.22 495.03L410.52 495.03L410.82 495.03L411.12 495.03L411.41 495.03L411.71 495.03L412.01 495.03L412.31 495.03L412.61 495.03L412.91 495.03L413.21 495.03L413.51 495.03L413.81 495.03L414.11 495.03L414.41 495.03L414.71 495.03L415.00 495.03L415.30 495.03L415.60 495.03L415.90 495.03L416.20 495.03L416.50 495.03L416.80 495.03L417.10 495.03L417.40 495.03L417.70 495.03L418.00 495.03L418.30 495.03L418.60 495.03L418.89 495.03L419.19 495.03L419.49 495.03L419.79 495.03L420.09 495.03L420.39 495.03L420.69 495.03L420.99 495.03L421.29 495.03L421.59 495.03L421.89 495.03L422.19 495.03L422.48 495.03L422.78 495.03L423.08 495.03L423.38 495.03L423.68 495.03L423.98 495.03L424.28 495.03L424.58 495.03L424.88 495.03L425.18 495.03L425.48 495.03L425.78 495.03L426.07 495.03L426.37 495.03L426.67 495.03L426.97 495.03L427.27 495.03L427.57 495.03L427.87 495.03L428.17 495.03L428.47 495.03L428.77 495.03L429.07 495.03L429.37 495.03L429.67 495.03L429.96 495.03L430.26 495.03L430.56 495.03L430.86 495.03L431.16 495.03L431.46 495.03L431.76 495.03L432.06 495.03L432.36 495.03L432.66 495.03L432.96 495.03L433.26 495.03L433.55 495.03L433.85 495.03L434.15 495.03L434.45 495.03L434.75 495.03L435.05 495.03L435.35 495.03L435.65 495.03L435.95 495.03L436.25 495.03L436.55 495.03L436.85 495.03L437.14 495.03L437.44 495.03L437.74 495.03L438.04 495.03L438.34 495.03L438.64 495.03L438.94 495.03L439.24 495.03L439.54 495.03L439.84 495.03L440.14 495.03L440.44 495.03L440.73 495.03L441.03 495.03L441.33 495.03L441.63 495.03L441.93 495.03L442.23 495.03L442.53 495.03L442.83 495.03L443.13 495.03L443.43 495.03L443.73 495.03L444.03 495.03L444.33 495.03L444.62 495.03L444.92 495.03L445.22 495.03L445.52 495.03L445.82 495.03L446.12 495.03L446.42 495.03L446.72 495.03L447.02 495.03L447.32 495.03L447.62 495.03L447.92 495.03L448.21 495.03L448.51 495.03L448.81 495.03L449.11 495.03L449.41 495.03L449.71 495.03L450.01 495.03L450.31 495.03L450.61 495.03L450.91 495.03L451.21 495.03L451.51 495.03L451.80 495.03L452.10 495.03L452.40 495.03L452.70 495.03L453.00 495.03L453.30 495.03L453.60 495.03L453.89 494.83L454.18 494.26L454.48 493.35L454.77 492.15L455.06 490.72L455.35 489.16L455.65 487.56L455.94 486.00L456.23 484.57L456.52 483.37L456.82 482.46L457.11 481.89L457.40 481.69L457.67 482.04L457.93 483.03L458.20 484.55L458.47 486.41L458.73 488.40L459.00 490.26L459.27 491.78L459.53 492.78L459.80 493.12L460.09 493.06L460.38 492.89L460.67 492.63L460.96 492.29L461.25 491.90L461.55 491.49L461.84 491.10L462.13 490.76L462.42 490.49L462.71 490.32L463.00 490.26L463.29 490.23L463.57 490.12L463.86 489.95L464.14 489.73L464.43 489.46L464.71 489.15L465.00 488.84L465.29 488.52L465.57 488.22L465.86 487.94L466.14 487.72L466.43 487.55L466.71 487.44L467.00 487.41L467.30 487.36L467.60 487.23L467.90 487.01L468.20 486.75L468.50 486.45L468.80 486.16L469.10 485.90L469.40 485.68L469.70 485.55L470.00 485.50L470.30 485.51L470.60 485.55L470.90 485.60L471.20 485.67L471.50 485.74L471.80 485.81L472.10 485.88L472.40 485.93L472.70 485.97L473.00 485.98L473.30 485.93L473.60 485.80L473.90 485.59L474.20 485.32L474.50 485.03L474.80 484.73L475.10 484.47L475.40 484.26L475.70 484.12L476.00 484.07L476.30 484.11L476.60 484.21L476.90 484.37L477.20 484.57L477.50 484.79L477.80 485.01L478.10 485.21L478.40 485.37L478.70 485.47L479.00 485.50L479.28 485.39L479.56 485.06L479.83 484.55L480.11 483.93L480.39 483.27L480.67 482.65L480.94 482.14L481.22 481.81L481.50 481.69L481.80 481.58L482.10 481.25L482.40 480.74L482.70 480.12L483.00 479.46L483.30 478.84L483.60 478.33L483.90 478.00L484.20 477.88L484.48 478.01L484.76 478.38L485.04 478.96L485.32 479.69L485.60 480.50L485.88 481.31L486.16 482.04L486.44 482.62L486.72 482.99L487.00 483.12L487.30 483.23L487.60 483.53L487.90 484.01L488.20 484.60L488.50 485.26L488.80 485.93L489.10 486.52L489.40 487.00L489.70 487.30L490.00 487.41L490.29 487.50L490.58 487.76L490.88 488.19L491.17 488.74L491.46 489.40L491.75 490.13L492.05 490.87L492.34 491.60L492.63 492.26L492.92 492.82L493.22 493.24L493.51 493.51L493.80 493.60L494.09 493.55L494.38 493.41L494.67 493.19L494.96 492.90L495.25 492.58L495.55 492.24L495.84 491.91L496.13 491.63L496.42 491.40L496.71 491.26L497.00 491.22L497.30 491.19L497.60 491.13L497.90 491.02L498.20 490.89L498.50 490.74L498.80 490.59L499.10 490.46L499.40 490.35L499.70 490.29L500.00 490.26L500.30 490.21L500.60 490.04L500.90 489.77L501.20 489.44L501.50 489.07L501.80 488.71L502.10 488.37L502.40 488.11L502.70 487.94L503.00 487.88L503.27 487.83L503.55 487.67L503.82 487.44L504.10 487.17L504.38 486.90L504.65 486.66L504.93 486.51L505.20 486.45L505.48 486.55L505.76 486.82L506.04 487.24L506.32 487.77L506.60 488.36L506.88 488.95L507.16 489.48L507.44 489.90L507.72 490.17L508.00 490.26L508.29 490.36L508.58 490.65L508.87 491.10L509.16 491.64L509.44 492.22L509.73 492.76L510.02 493.21L510.31 493.50L510.60 493.60L510.90 493.47L511.20 493.11L511.50 492.57L511.80 491.93L512.10 491.29L512.40 490.75L512.70 490.39L513.00 490.26L513.30 490.35L513.60 490.58L513.90 490.95L514.20 491.42L514.50 491.93L514.80 492.45L515.10 492.91L515.40 493.28L515.70 493.52L516.00 493.60L516.29 493.60L516.57 493.62L516.86 493.65L517.14 493.69L517.43 493.73L517.71 493.78L518.00 493.83L518.29 493.89L518.57 493.94L518.86 493.98L519.14 494.02L519.43 494.05L519.71 494.07L520.00 494.07L520.30 494.07L520.60 494.08L520.89 494.08L521.19 494.08L521.49 494.09L521.79 494.10L522.08 494.10L522.38 494.11L522.68 494.12L522.98 494.13L523.27 494.15L523.57 494.16L523.87 494.17L524.17 494.19L524.47 494.20L524.76 494.22L525.06 494.23L525.36 494.25L525.66 494.27L525.95 494.28L526.25 494.30L526.55 494.32L526.85 494.34L527.14 494.35L527.44 494.37L527.74 494.39L528.04 494.40L528.33 494.42L528.63 494.43L528.93 494.45L529.23 494.46L529.53 494.48L529.82 494.49L530.12 494.50L530.42 494.51L530.72 494.52L531.01 494.53L531.31 494.53L531.61 494.54L531.91 494.54L532.20 494.55L532.50 494.55L532.80 494.55L533.04 494.64L533.28 494.88L533.52 495.17L533.76 495.41L534.00 495.50L534.30 495.48L534.60 495.43L534.90 495.35L535.20 495.26L535.50 495.17L535.80 495.09L536.10 495.04L536.40 495.03L536.70 495.03L537.00 495.03L537.30 495.03L537.60 495.03L537.90 495.03L538.19 495.03L538.49 495.03L538.79 495.03L539.09 495.03L539.39 495.03L539.69 495.03L539.99 495.03L540.29 495.03L540.59 495.03L540.89 495.03L541.18 495.03L541.48 495.03L541.78 495.03L542.08 495.03L542.38 495.03L542.68 495.03L542.98 495.03L543.28 495.03L543.58 495.03L543.88 495.03L544.17 495.03L544.47 495.03L544.77 495.03L545.07 495.03L545.37 495.03L545.67 495.03L545.97 495.03L546.27 495.03L546.57 495.03L546.87 495.03L547.16 495.03L547.46 495.03L547.76 495.03L548.06 495.03L548.36 495.03L548.66 495.03L548.96 495.03L549.26 495.03L549.56 495.03L549.86 495.03L550.16 495.03L550.45 495.03L550.75 495.03L551.05 495.03L551.35 495.03L551.65 495.03L551.95 495.03L552.25 495.03L552.55 495.03L552.85 495.03L553.15 495.03L553.44 495.03L553.74 495.03L554.04 495.03L554.34 495.03L554.64 495.03L554.94 495.03L555.24 495.03L555.54 495.03L555.84 495.03L556.14 495.03L556.43 495.03L556.73 495.03L557.03 495.03L557.33 495.03L557.63 495.03L557.93 495.03L558.23 495.03L558.53 495.03L558.83 495.03L559.13 495.03L559.42 495.03L559.72 495.03L560.02 495.03L560.32 495.03L560.62 495.03L560.92 495.03L561.22 495.03L561.52 495.03L561.82 495.03L562.12 495.03L562.42 495.03L562.71 495.03L563.01 495.03L563.31 495.03L563.61 495.03L563.91 495.03L564.21 495.03L564.51 495.03L564.81 495.03L565.11 495.03L565.41 495.03L565.70 495.03L566.00 495.03L566.30 495.03L566.60 495.03L566.90 495.03L567.20 495.03L567.50 495.03L567.80 495.03L568.10 495.03L568.40 495.03L568.69 495.03L568.99 495.03L569.29 495.03L569.59 495.03L569.89 495.03L570.19 495.03L570.49 495.03L570.79 495.03L571.09 495.03L571.39 495.03L571.69 495.03L571.98 495.03L572.28 495.03L572.58 495.03L572.88 495.03L573.18 495.03L573.48 495.03L573.78 495.03L574.08 495.03L574.38 495.03L574.68 495.03L574.97 495.03L575.27 495.03L575.57 495.03L575.87 495.03L576.17 495.03L576.47 495.03L576.77 495.03L577.07 495.03L577.37 495.03L577.67 495.03L577.96 495.03L578.26 495.03L578.56 495.03L578.86 495.03L579.16 495.03L579.46 495.03L579.76 495.03L580.06 495.03L580.36 495.03L580.66 495.03L580.95 495.03L581.25 495.03L581.55 495.03L581.85 495.03L582.15 495.03L582.45 495.03L582.75 495.03L583.05 495.03L583.35 495.03L583.65 495.03L583.95 495.03L584.24 495.03L584.54 495.03L584.84 495.03L585.14 495.03L585.44 495.03L585.74 495.03L586.04 495.03L586.34 495.03L586.64 495.03L586.94 495.03L587.23 495.03L587.53 495.03L587.83 495.03L588.13 495.03L588.43 495.03L588.73 495.03L589.03 495.03L589.33 495.03L589.63 495.03L589.93 495.03L590.22 495.03L590.52 495.03L590.82 495.03L591.12 495.03L591.42 495.03L591.72 495.03L592.02 495.03L592.32 495.03L592.62 495.03L592.92 495.03L593.21 495.03L593.51 495.03L593.81 495.03L594.11 495.03L594.41 495.03L594.71 495.03L595.01 495.03L595.31 495.03L595.61 495.03L595.91 495.03L596.21 495.03L596.50 495.03L596.80 495.03L597.10 495.03L597.40 495.03L597.70 495.03L598.00 495.03L598.30 495.03L598.60 495.03L598.90 495.03L599.20 495.03L599.49 495.03L599.79 495.03L600.09 495.03L600.39 495.03L600.69 495.03L600.99 495.03L601.29 495.03L601.59 495.03L601.89 495.03L602.19 495.03L602.48 495.03L602.78 495.03L603.08 495.03L603.38 495.03L603.68 495.03L603.98 495.03L604.28 495.03L604.58 495.03L604.88 495.03L605.18 495.03L605.48 495.03L605.77 495.03L606.07 495.03L606.37 495.03L606.67 495.03L606.97 495.03L607.27 495.03L607.57 495.03L607.87 495.03L608.17 495.03L608.47 495.03L608.76 495.03L609.06 495.03L609.36 495.03L609.66 495.03L609.96 495.03L610.26 495.03L610.56 495.03L610.86 495.03L611.16 495.03L611.46 495.03L611.75 495.03L612.05 495.03L612.35 495.03L612.65 495.03L612.95 495.03L613.25 495.03L613.55 495.03L613.85 495.03L614.15 495.03L614.45 495.03L614.74 495.03L615.04 495.03L615.34 495.03L615.64 495.03L615.94 495.03L616.24 495.03L616.54 495.03L616.84 495.03L617.14 495.03L617.44 495.03L617.74 495.03L618.03 495.03L618.33 495.03L618.63 495.03L618.93 495.03L619.23 495.03L619.53 495.03L619.83 495.03L620.13 495.03L620.43 495.03L620.73 495.03L621.02 495.03L621.32 495.03L621.62 495.03L621.92 495.03L622.22 495.03L622.52 495.03L622.82 495.03L623.12 495.03L623.42 495.03L623.72 495.03L624.01 495.03L624.31 495.03L624.61 495.03L624.91 495.03L625.21 495.03L625.51 495.03L625.81 495.03L626.11 495.03L626.41 495.03L626.71 495.03L627.00 495.03L627.30 495.03L627.60 495.03L627.90 495.03L628.20 495.03L628.50 495.03L628.80 494.81L629.10 494.19L629.40 493.22L629.70 491.96L630.00 490.53L630.30 489.04L630.60 487.61L630.90 486.36L631.20 485.38L631.50 484.76L631.80 484.55L632.07 484.64L632.34 484.91L632.61 485.29L632.89 485.71L633.16 486.10L633.43 486.36L633.70 486.45L633.99 486.38L634.28 486.18L634.56 485.87L634.85 485.50L635.14 485.14L635.42 484.83L635.71 484.62L636.00 484.55L636.29 484.60L636.57 484.73L636.86 484.92L637.14 485.13L637.43 485.32L637.71 485.46L638.00 485.50L638.28 485.42L638.56 485.17L638.83 484.79L639.11 484.32L639.39 483.83L639.67 483.36L639.94 482.98L640.22 482.73L640.50 482.65L640.80 482.73L641.10 482.96L641.40 483.33L641.70 483.80L642.00 484.31L642.30 484.83L642.60 485.29L642.90 485.66L643.20 485.90L643.50 485.98L643.80 485.92L644.10 485.75L644.40 485.48L644.70 485.11L645.00 484.67L645.30 484.17L645.60 483.63L645.90 483.09L646.20 482.55L646.50 482.05L646.80 481.61L647.10 481.24L647.40 480.97L647.70 480.80L648.00 480.74L648.30 480.86L648.60 481.20L648.90 481.72L649.20 482.39L649.50 483.12L649.80 483.86L650.10 484.52L650.40 485.05L650.70 485.39L651.00 485.50L651.29 485.45L651.57 485.29L651.86 485.04L652.14 484.70L652.43 484.29L652.71 483.84L653.00 483.36L653.29 482.88L653.57 482.43L653.86 482.02L654.14 481.68L654.43 481.43L654.71 481.27L655.00 481.22L655.28 481.18L655.56 481.05L655.84 480.85L656.12 480.59L656.40 480.27L656.68 479.90L656.96 479.51L657.24 479.11L657.52 478.72L657.80 478.36L658.08 478.04L658.36 477.77L658.64 477.57L658.92 477.45L659.20 477.41L659.49 477.44L659.78 477.54L660.08 477.71L660.37 477.92L660.66 478.18L660.95 478.46L661.25 478.74L661.54 479.02L661.83 479.27L662.12 479.49L662.42 479.65L662.71 479.75L663.00 479.79L663.28 479.73L663.57 479.57L663.85 479.31L664.14 478.97L664.42 478.56L664.71 478.11L664.99 477.65L665.28 477.21L665.56 476.80L665.85 476.46L666.13 476.20L666.42 476.04L666.70 475.98L666.99 475.01L667.28 472.56L667.57 468.69L667.86 463.62L668.14 457.77L668.43 451.81L668.72 446.58L669.01 442.98L669.30 441.70L669.58 442.54L669.86 444.96L670.15 448.64L670.43 453.15L670.71 457.98L670.99 462.71L671.27 466.98L671.55 470.51L671.84 473.15L672.12 474.83L672.40 475.50L672.69 474.77L672.98 472.77L673.27 469.68L673.56 465.76L673.84 461.42L674.13 457.16L674.42 453.55L674.71 451.13L675.00 450.27L675.30 451.59L675.60 455.29L675.90 460.71L676.20 466.97L676.50 473.19L676.80 478.70L677.10 483.12L677.40 486.37L677.70 488.57L678.00 489.94L678.30 490.74L678.60 490.61L678.89 490.41L679.19 490.13L679.48 489.75L679.78 489.29L680.07 488.71L680.37 488.03L680.66 487.24L680.96 486.33L681.25 485.32L681.55 484.21L681.85 483.03L682.14 481.79L682.44 480.53L682.73 479.28L683.03 478.07L683.32 476.96L683.62 475.98L683.91 475.18L684.21 474.57L684.50 474.20L684.80 474.08L685.07 474.11L685.35 474.21L685.62 474.37L685.90 474.55L686.17 474.73L686.45 474.89L686.73 474.99L687.00 475.03L687.27 474.67L687.55 473.63L687.83 472.09L688.10 470.27L688.38 468.44L688.65 466.90L688.93 465.87L689.20 465.51L689.49 466.13L689.78 467.92L690.08 470.63L690.37 473.94L690.66 477.48L690.95 480.91L691.25 483.98L691.54 486.54L691.83 488.55L692.12 490.03L692.42 491.06L692.71 491.74L693.00 492.17L693.29 491.44L693.58 490.40L693.87 488.96L694.16 487.03L694.44 484.50L694.73 481.31L695.02 477.38L695.31 472.69L695.60 467.30L695.89 461.31L696.18 454.89L696.47 448.31L696.76 441.86L697.04 435.92L697.33 430.82L697.62 426.91L697.91 424.45L698.20 423.61L698.43 423.25L698.67 422.53L698.90 422.18L699.18 421.89L699.46 421.04L699.74 419.72L700.02 418.07L700.30 416.23L700.58 414.39L700.86 412.73L701.14 411.41L701.42 410.57L701.70 410.27L702.00 413.08L702.30 420.73L702.60 431.11L702.90 441.43L703.20 448.94L703.50 451.70L703.80 450.56L704.10 447.59L704.40 443.91L704.70 440.93L705.00 439.79L705.30 442.17L705.60 448.42L705.90 456.47L706.20 464.00L706.50 469.25L706.80 471.22L707.07 469.66L707.34 465.49L707.61 459.21L707.89 451.77L708.16 444.60L708.43 439.35L708.70 437.41L708.99 439.21L709.28 444.26L709.57 451.67L709.86 460.21L710.15 468.69L710.45 476.21L710.74 482.24L711.03 486.68L711.32 489.68L711.61 491.55L711.90 492.64L712.18 491.24L712.45 489.00L712.73 485.59L713.01 480.70L713.28 474.06L713.56 465.59L713.84 455.44L714.12 444.11L714.39 432.42L714.67 421.49L714.95 412.52L715.22 406.62L715.50 404.56L715.79 405.61L716.08 408.69L716.37 413.58L716.66 419.95L716.94 427.38L717.23 435.43L717.52 443.67L717.81 451.69L718.10 459.18L718.39 465.92L718.68 471.77L718.97 476.69L719.26 480.68L719.54 483.84L719.83 486.25L720.12 488.05L720.41 489.35L720.70 490.26L721.00 487.89L721.30 483.60L721.60 476.54L721.90 466.00L722.20 451.76L722.50 434.56L722.80 416.29L723.10 399.81L723.40 388.25L723.70 384.09L724.00 385.32L724.30 388.88L724.60 394.44L724.90 401.50L725.20 409.47L725.50 417.72L725.80 425.70L726.10 432.90L726.40 438.92L726.70 443.46L727.00 446.33L727.30 447.41L727.59 446.26L727.87 443.02L728.16 438.34L728.44 433.15L728.73 428.47L729.01 425.24L729.30 424.08L729.58 425.95L729.87 431.25L730.15 439.18L730.43 448.61L730.72 458.37L731.00 467.48L731.28 475.25L731.57 481.38L731.85 485.89L732.13 488.98L732.42 490.97L732.70 492.17L732.98 492.16L733.26 492.12L733.54 492.07L733.82 492.00L734.10 491.93L734.38 491.86L734.66 491.79L734.94 491.74L735.22 491.70L735.50 491.69L735.80 491.77L736.10 492.01L736.40 492.38L736.70 492.84L737.00 493.36L737.30 493.87L737.60 494.34L737.90 494.71L738.20 494.94L738.50 495.03L738.75 495.16L739.00 495.50L739.25 495.84L739.50 495.98L739.78 495.95L740.06 495.87L740.33 495.74L740.61 495.58L740.89 495.42L741.17 495.26L741.44 495.14L741.72 495.05L742.00 495.03" fill="none" stroke="#8a8a8a" stroke-width="1.7" stroke-linejoin="round" stroke-linecap="butt"/>
<path d="M67.05 18.50H827.00V589.85H67.05Z" fill="none" stroke="#2e2e2e" stroke-width="1"/>
<path d="M947 28.00H984.7" stroke="#3a3aa8" stroke-width="1.7" fill="none"/>
<path d="M947 45.50H984.7" stroke="#cc3838" stroke-width="1.7" fill="none"/>
<path d="M947 63.70H984.7" stroke="#288e3c" stroke-width="1.7" fill="none"/>
<path d="M947 82.00H984.7" stroke="#b03890" stroke-width="1.7" fill="none"/>
<path d="M947 100.30H984.7" stroke="#8a8a8a" stroke-width="1.7" fill="none"/>
</g>
<g font-family="Liberation Sans, sans-serif" font-size="13.33" fill="#1a1a1a">
<text transform="translate(59.50 594.75) scale(1 1.150)" text-anchor="end">-20</text>
<text transform="translate(59.50 499.53) scale(1 1.150)" text-anchor="end">0</text>
<text transform="translate(59.50 404.30) scale(1 1.150)" text-anchor="end">20</text>
<text transform="translate(59.50 309.08) scale(1 1.150)" text-anchor="end">40</text>
<text transform="translate(59.50 213.85) scale(1 1.150)" text-anchor="end">60</text>
<text transform="translate(59.50 118.63) scale(1 1.150)" text-anchor="end">80</text>
<text transform="translate(59.50 23.40) scale(1 1.150)" text-anchor="end">100</text>
<text transform="translate(67.05 613.40) scale(1 1.150)" text-anchor="middle">-50</text>
<text transform="translate(193.71 613.40) scale(1 1.150)" text-anchor="middle">-40</text>
<text transform="translate(320.37 613.40) scale(1 1.150)" text-anchor="middle">-30</text>
<text transform="translate(447.03 613.40) scale(1 1.150)" text-anchor="middle">-20</text>
<text transform="translate(573.68 613.40) scale(1 1.150)" text-anchor="middle">-10</text>
<text transform="translate(700.34 613.40) scale(1 1.150)" text-anchor="middle">0</text>
<text transform="translate(827.00 613.40) scale(1 1.150)" text-anchor="middle">10</text>
<text transform="translate(19.90 304.2) rotate(-90) scale(1 1.150)" text-anchor="middle" textLength="142" lengthAdjust="spacing">Density of states (arb.)</text>
<text transform="translate(418.20 640.60) scale(1 1.150)" text-anchor="start" textLength="58.4" lengthAdjust="spacing">E - E<tspan font-size="10.7" dy="2.0">F</tspan><tspan dy="-2.0"> (eV)</tspan></text>
<text transform="translate(939.20 32.90) scale(1 1.150)" text-anchor="end">Total DOS</text>
<text transform="translate(939.20 50.90) scale(1 1.150)" text-anchor="end">O total PDOS</text>
<text transform="translate(939.20 69.05) scale(1 1.150)" text-anchor="end">Zr total PDOS</text>
<text transform="translate(939.20 87.10) scale(1 1.150)" text-anchor="end">La total PDOS</text>
<text transform="translate(939.20 105.15) scale(1 1.150)" text-anchor="end">Li total PDOS</text>
</g>
</svg>
</body></html>
